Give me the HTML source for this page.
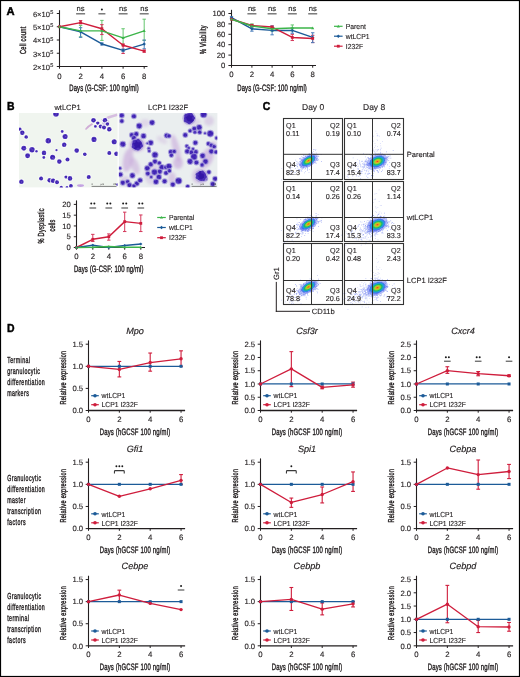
<!DOCTYPE html>
<html><head><meta charset="utf-8"><title>Figure</title>
<style>html,body{margin:0;padding:0;background:#fff;}svg{display:block;will-change:transform;}text{font-variant-ligatures:none;font-kerning:normal;}</style>
</head><body>
<svg width="520" height="677" viewBox="0 0 520 677" font-family="'Liberation Sans', sans-serif" text-rendering="geometricPrecision">
<defs>
<radialGradient id="cellg" cx="50%" cy="50%" r="50%">
<stop offset="0" stop-color="#5444c4"/>
<stop offset="0.45" stop-color="#3626b6"/>
<stop offset="0.75" stop-color="#4434bc"/>
<stop offset="1" stop-color="#8c86da"/>
</radialGradient>
<radialGradient id="bigcell" cx="50%" cy="50%" r="50%">
<stop offset="0" stop-color="#4a3cc0"/>
<stop offset="0.5" stop-color="#3222b4"/>
<stop offset="0.85" stop-color="#4232bc"/>
<stop offset="1" stop-color="#7c74d4"/>
</radialGradient>
<filter id="soft" x="-5%" y="-5%" width="110%" height="110%"><feGaussianBlur stdDeviation="0.35"/></filter>
<filter id="soft2" x="-5%" y="-5%" width="110%" height="110%"><feGaussianBlur stdDeviation="0.45"/></filter>
<filter id="smear" x="-20%" y="-20%" width="140%" height="140%"><feGaussianBlur stdDeviation="1.5"/></filter>
<radialGradient id="flowg" cx="50%" cy="50%" r="50%">
<stop offset="0" stop-color="#e8401c"/>
<stop offset="0.18" stop-color="#f0a020"/>
<stop offset="0.35" stop-color="#9ad82c"/>
<stop offset="0.55" stop-color="#18b86a"/>
<stop offset="0.75" stop-color="#1ea0e0"/>
<stop offset="1" stop-color="#3050e8" stop-opacity="0.6"/>
</radialGradient>
</defs>
<rect x="0" y="0" width="520" height="677" fill="#fff"/>
<text transform="translate(6.60,14.50)" font-size="11.2" fill="#000" font-weight="bold" stroke="#000" stroke-width="0.45">A</text>
<line x1="59.50" y1="10.20" x2="59.50" y2="67.00" stroke="#231f20" stroke-width="1.1"/>
<line x1="59.00" y1="66.50" x2="147.50" y2="66.50" stroke="#231f20" stroke-width="1.1"/>
<line x1="56.80" y1="66.50" x2="59.50" y2="66.50" stroke="#231f20" stroke-width="1"/>
<text transform="translate(50.00,69.80)" font-size="7.6" fill="#231f20" stroke="#231f20" stroke-width="0.13" text-anchor="end">2×10</text>
<text transform="translate(50.30,67.10)" font-size="5.6" fill="#231f20" stroke="#231f20" stroke-width="0.13">5</text>
<line x1="56.80" y1="53.25" x2="59.50" y2="53.25" stroke="#231f20" stroke-width="1"/>
<text transform="translate(50.00,56.55)" font-size="7.6" fill="#231f20" stroke="#231f20" stroke-width="0.13" text-anchor="end">3×10</text>
<text transform="translate(50.30,53.85)" font-size="5.6" fill="#231f20" stroke="#231f20" stroke-width="0.13">5</text>
<line x1="56.80" y1="40.00" x2="59.50" y2="40.00" stroke="#231f20" stroke-width="1"/>
<text transform="translate(50.00,43.30)" font-size="7.6" fill="#231f20" stroke="#231f20" stroke-width="0.13" text-anchor="end">4×10</text>
<text transform="translate(50.30,40.60)" font-size="5.6" fill="#231f20" stroke="#231f20" stroke-width="0.13">5</text>
<line x1="56.80" y1="26.75" x2="59.50" y2="26.75" stroke="#231f20" stroke-width="1"/>
<text transform="translate(50.00,30.05)" font-size="7.6" fill="#231f20" stroke="#231f20" stroke-width="0.13" text-anchor="end">5×10</text>
<text transform="translate(50.30,27.35)" font-size="5.6" fill="#231f20" stroke="#231f20" stroke-width="0.13">5</text>
<line x1="56.80" y1="13.50" x2="59.50" y2="13.50" stroke="#231f20" stroke-width="1"/>
<text transform="translate(50.00,16.80)" font-size="7.6" fill="#231f20" stroke="#231f20" stroke-width="0.13" text-anchor="end">6×10</text>
<text transform="translate(50.30,14.10)" font-size="5.6" fill="#231f20" stroke="#231f20" stroke-width="0.13">5</text>
<line x1="59.50" y1="66.50" x2="59.50" y2="68.70" stroke="#231f20" stroke-width="1"/>
<text transform="translate(59.50,78.60)" font-size="7.8" fill="#231f20" stroke="#231f20" stroke-width="0.13" text-anchor="middle">0</text>
<line x1="80.60" y1="66.50" x2="80.60" y2="68.70" stroke="#231f20" stroke-width="1"/>
<text transform="translate(80.60,78.60)" font-size="7.8" fill="#231f20" stroke="#231f20" stroke-width="0.13" text-anchor="middle">2</text>
<line x1="101.90" y1="66.50" x2="101.90" y2="68.70" stroke="#231f20" stroke-width="1"/>
<text transform="translate(101.90,78.60)" font-size="7.8" fill="#231f20" stroke="#231f20" stroke-width="0.13" text-anchor="middle">4</text>
<line x1="123.10" y1="66.50" x2="123.10" y2="68.70" stroke="#231f20" stroke-width="1"/>
<text transform="translate(123.10,78.60)" font-size="7.8" fill="#231f20" stroke="#231f20" stroke-width="0.13" text-anchor="middle">6</text>
<line x1="144.20" y1="66.50" x2="144.20" y2="68.70" stroke="#231f20" stroke-width="1"/>
<text transform="translate(144.20,78.60)" font-size="7.8" fill="#231f20" stroke="#231f20" stroke-width="0.13" text-anchor="middle">8</text>
<text transform="translate(26.30,40.20) rotate(-90) translate(-13.75,0) scale(0.64,1)" font-size="8.8" fill="#231f20" stroke="#231f20" stroke-width="0.400" letter-spacing="0.384">Cell count</text>
<text transform="translate(104.00,90.50) translate(-34.75,0) scale(0.64,1)" font-size="9.3" fill="#231f20" stroke="#231f20" stroke-width="0.400" letter-spacing="0.160">Days (G-CSF: 100 ng/ml)</text>
<text transform="translate(80.60,11.40)" font-size="7.6" fill="#222" stroke="#222" stroke-width="0.13" text-anchor="middle">ns</text>
<line x1="76.10" y1="13.80" x2="85.10" y2="13.80" stroke="#666" stroke-width="1.3"/>
<circle cx="101.90" cy="9.60" r="1.0" fill="#1a1a1a"/>
<line x1="98.40" y1="13.80" x2="105.40" y2="13.80" stroke="#666" stroke-width="1.3"/>
<text transform="translate(123.10,11.40)" font-size="7.6" fill="#222" stroke="#222" stroke-width="0.13" text-anchor="middle">ns</text>
<line x1="118.60" y1="13.80" x2="127.60" y2="13.80" stroke="#666" stroke-width="1.3"/>
<text transform="translate(144.20,11.40)" font-size="7.6" fill="#222" stroke="#222" stroke-width="0.13" text-anchor="middle">ns</text>
<line x1="139.70" y1="13.80" x2="148.70" y2="13.80" stroke="#666" stroke-width="1.3"/>
<line x1="80.60" y1="25.43" x2="80.60" y2="36.82" stroke="#64c66e" stroke-width="1.0"/>
<line x1="78.90" y1="25.43" x2="82.30" y2="25.43" stroke="#64c66e" stroke-width="1.0"/>
<line x1="78.90" y1="36.82" x2="82.30" y2="36.82" stroke="#64c66e" stroke-width="1.0"/>
<line x1="101.90" y1="20.39" x2="101.90" y2="40.40" stroke="#64c66e" stroke-width="1.0"/>
<line x1="100.20" y1="20.39" x2="103.60" y2="20.39" stroke="#64c66e" stroke-width="1.0"/>
<line x1="100.20" y1="40.40" x2="103.60" y2="40.40" stroke="#64c66e" stroke-width="1.0"/>
<line x1="123.10" y1="28.74" x2="123.10" y2="45.30" stroke="#64c66e" stroke-width="1.0"/>
<line x1="121.40" y1="28.74" x2="124.80" y2="28.74" stroke="#64c66e" stroke-width="1.0"/>
<line x1="121.40" y1="45.30" x2="124.80" y2="45.30" stroke="#64c66e" stroke-width="1.0"/>
<line x1="144.20" y1="19.20" x2="144.20" y2="40.40" stroke="#64c66e" stroke-width="1.0"/>
<line x1="142.50" y1="19.20" x2="145.90" y2="19.20" stroke="#64c66e" stroke-width="1.0"/>
<line x1="142.50" y1="40.40" x2="145.90" y2="40.40" stroke="#64c66e" stroke-width="1.0"/>
<line x1="80.60" y1="20.52" x2="80.60" y2="23.84" stroke="#d4385a" stroke-width="1.0"/>
<line x1="78.90" y1="20.52" x2="82.30" y2="20.52" stroke="#d4385a" stroke-width="1.0"/>
<line x1="78.90" y1="23.84" x2="82.30" y2="23.84" stroke="#d4385a" stroke-width="1.0"/>
<line x1="101.90" y1="24.63" x2="101.90" y2="34.57" stroke="#d4385a" stroke-width="1.0"/>
<line x1="100.20" y1="24.63" x2="103.60" y2="24.63" stroke="#d4385a" stroke-width="1.0"/>
<line x1="100.20" y1="34.57" x2="103.60" y2="34.57" stroke="#d4385a" stroke-width="1.0"/>
<line x1="123.10" y1="43.97" x2="123.10" y2="53.52" stroke="#d4385a" stroke-width="1.0"/>
<line x1="121.40" y1="43.97" x2="124.80" y2="43.97" stroke="#d4385a" stroke-width="1.0"/>
<line x1="121.40" y1="53.52" x2="124.80" y2="53.52" stroke="#d4385a" stroke-width="1.0"/>
<line x1="144.20" y1="50.07" x2="144.20" y2="52.19" stroke="#d4385a" stroke-width="1.0"/>
<line x1="142.50" y1="50.07" x2="145.90" y2="50.07" stroke="#d4385a" stroke-width="1.0"/>
<line x1="142.50" y1="52.19" x2="145.90" y2="52.19" stroke="#d4385a" stroke-width="1.0"/>
<line x1="80.60" y1="27.68" x2="80.60" y2="37.35" stroke="#4c7fbc" stroke-width="1.0"/>
<line x1="78.90" y1="27.68" x2="82.30" y2="27.68" stroke="#4c7fbc" stroke-width="1.0"/>
<line x1="78.90" y1="37.35" x2="82.30" y2="37.35" stroke="#4c7fbc" stroke-width="1.0"/>
<line x1="101.90" y1="42.92" x2="101.90" y2="45.03" stroke="#4c7fbc" stroke-width="1.0"/>
<line x1="100.20" y1="42.92" x2="103.60" y2="42.92" stroke="#4c7fbc" stroke-width="1.0"/>
<line x1="100.20" y1="45.03" x2="103.60" y2="45.03" stroke="#4c7fbc" stroke-width="1.0"/>
<line x1="123.10" y1="49.01" x2="123.10" y2="51.66" stroke="#4c7fbc" stroke-width="1.0"/>
<line x1="121.40" y1="49.01" x2="124.80" y2="49.01" stroke="#4c7fbc" stroke-width="1.0"/>
<line x1="121.40" y1="51.66" x2="124.80" y2="51.66" stroke="#4c7fbc" stroke-width="1.0"/>
<line x1="144.20" y1="40.00" x2="144.20" y2="48.75" stroke="#4c7fbc" stroke-width="1.0"/>
<line x1="142.50" y1="40.00" x2="145.90" y2="40.00" stroke="#4c7fbc" stroke-width="1.0"/>
<line x1="142.50" y1="48.75" x2="145.90" y2="48.75" stroke="#4c7fbc" stroke-width="1.0"/>
<polyline points="59.50,26.75 80.60,31.78 101.90,43.97 123.10,50.33 144.20,44.11" fill="none" stroke="#1c5b98" stroke-width="1.45" stroke-linejoin="round"/>
<polyline points="59.50,26.75 80.60,22.64 101.90,28.74 123.10,45.30 144.20,51.13" fill="none" stroke="#cf1d3c" stroke-width="1.45" stroke-linejoin="round"/>
<polyline points="59.50,26.75 80.60,30.86 101.90,30.86 123.10,37.88 144.20,30.86" fill="none" stroke="#3cb54a" stroke-width="1.45" stroke-linejoin="round"/>
<path d="M57.82,26.75 L59.50,25.07 L61.18,26.75 L59.50,28.43 Z" fill="#1c5b98"/>
<path d="M78.92,31.78 L80.60,30.10 L82.28,31.78 L80.60,33.46 Z" fill="#1c5b98"/>
<path d="M100.22,43.97 L101.90,42.29 L103.58,43.97 L101.90,45.65 Z" fill="#1c5b98"/>
<path d="M121.42,50.33 L123.10,48.65 L124.78,50.33 L123.10,52.01 Z" fill="#1c5b98"/>
<path d="M142.52,44.11 L144.20,42.43 L145.88,44.11 L144.20,45.79 Z" fill="#1c5b98"/>
<rect x="58.10" y="25.35" width="2.80" height="2.80" fill="#cf1d3c"/>
<rect x="79.20" y="21.24" width="2.80" height="2.80" fill="#cf1d3c"/>
<rect x="100.50" y="27.34" width="2.80" height="2.80" fill="#cf1d3c"/>
<rect x="121.70" y="43.90" width="2.80" height="2.80" fill="#cf1d3c"/>
<rect x="142.80" y="49.73" width="2.80" height="2.80" fill="#cf1d3c"/>
<path d="M57.96,27.87 L61.04,27.87 L59.50,25.21 Z" fill="#3cb54a"/>
<path d="M79.06,31.98 L82.14,31.98 L80.60,29.32 Z" fill="#3cb54a"/>
<path d="M100.36,31.98 L103.44,31.98 L101.90,29.32 Z" fill="#3cb54a"/>
<path d="M121.56,39.00 L124.64,39.00 L123.10,36.34 Z" fill="#3cb54a"/>
<path d="M142.66,31.98 L145.74,31.98 L144.20,29.32 Z" fill="#3cb54a"/>
<line x1="231.50" y1="9.80" x2="231.50" y2="66.00" stroke="#231f20" stroke-width="1.1"/>
<line x1="231.00" y1="65.50" x2="316.00" y2="65.50" stroke="#231f20" stroke-width="1.1"/>
<line x1="228.40" y1="65.50" x2="231.50" y2="65.50" stroke="#231f20" stroke-width="1"/>
<text transform="translate(225.40,68.25)" font-size="7.7" fill="#231f20" stroke="#231f20" stroke-width="0.13" text-anchor="end">0</text>
<line x1="228.40" y1="55.10" x2="231.50" y2="55.10" stroke="#231f20" stroke-width="1"/>
<text transform="translate(225.40,57.85)" font-size="7.7" fill="#231f20" stroke="#231f20" stroke-width="0.13" text-anchor="end">20</text>
<line x1="228.40" y1="44.70" x2="231.50" y2="44.70" stroke="#231f20" stroke-width="1"/>
<text transform="translate(225.40,47.45)" font-size="7.7" fill="#231f20" stroke="#231f20" stroke-width="0.13" text-anchor="end">40</text>
<line x1="228.40" y1="34.30" x2="231.50" y2="34.30" stroke="#231f20" stroke-width="1"/>
<text transform="translate(225.40,37.05)" font-size="7.7" fill="#231f20" stroke="#231f20" stroke-width="0.13" text-anchor="end">60</text>
<line x1="228.40" y1="23.90" x2="231.50" y2="23.90" stroke="#231f20" stroke-width="1"/>
<text transform="translate(225.40,26.65)" font-size="7.7" fill="#231f20" stroke="#231f20" stroke-width="0.13" text-anchor="end">80</text>
<line x1="228.40" y1="13.50" x2="231.50" y2="13.50" stroke="#231f20" stroke-width="1"/>
<text transform="translate(225.40,16.25)" font-size="7.7" fill="#231f20" stroke="#231f20" stroke-width="0.13" text-anchor="end">100</text>
<line x1="231.50" y1="65.50" x2="231.50" y2="67.70" stroke="#231f20" stroke-width="1"/>
<text transform="translate(231.50,77.00)" font-size="7.8" fill="#231f20" stroke="#231f20" stroke-width="0.13" text-anchor="middle">0</text>
<line x1="251.90" y1="65.50" x2="251.90" y2="67.70" stroke="#231f20" stroke-width="1"/>
<text transform="translate(251.90,77.00)" font-size="7.8" fill="#231f20" stroke="#231f20" stroke-width="0.13" text-anchor="middle">2</text>
<line x1="272.10" y1="65.50" x2="272.10" y2="67.70" stroke="#231f20" stroke-width="1"/>
<text transform="translate(272.10,77.00)" font-size="7.8" fill="#231f20" stroke="#231f20" stroke-width="0.13" text-anchor="middle">4</text>
<line x1="292.30" y1="65.50" x2="292.30" y2="67.70" stroke="#231f20" stroke-width="1"/>
<text transform="translate(292.30,77.00)" font-size="7.8" fill="#231f20" stroke="#231f20" stroke-width="0.13" text-anchor="middle">6</text>
<line x1="312.70" y1="65.50" x2="312.70" y2="67.70" stroke="#231f20" stroke-width="1"/>
<text transform="translate(312.70,77.00)" font-size="7.8" fill="#231f20" stroke="#231f20" stroke-width="0.13" text-anchor="middle">8</text>
<text transform="translate(206.00,39.50) rotate(-90) translate(-14.50,0) scale(0.64,1)" font-size="8.8" fill="#231f20" stroke="#231f20" stroke-width="0.400" letter-spacing="0.429">% Viability</text>
<text transform="translate(272.10,90.50) translate(-34.85,0) scale(0.64,1)" font-size="9.3" fill="#231f20" stroke="#231f20" stroke-width="0.400" letter-spacing="0.174">Days (G-CSF: 100 ng/ml)</text>
<text transform="translate(251.90,11.40)" font-size="7.6" fill="#222" stroke="#222" stroke-width="0.13" text-anchor="middle">ns</text>
<line x1="247.40" y1="13.80" x2="256.40" y2="13.80" stroke="#666" stroke-width="1.3"/>
<text transform="translate(272.10,11.40)" font-size="7.6" fill="#222" stroke="#222" stroke-width="0.13" text-anchor="middle">ns</text>
<line x1="267.60" y1="13.80" x2="276.60" y2="13.80" stroke="#666" stroke-width="1.3"/>
<text transform="translate(292.30,11.40)" font-size="7.6" fill="#222" stroke="#222" stroke-width="0.13" text-anchor="middle">ns</text>
<line x1="287.80" y1="13.80" x2="296.80" y2="13.80" stroke="#666" stroke-width="1.3"/>
<text transform="translate(312.70,11.40)" font-size="7.6" fill="#222" stroke="#222" stroke-width="0.13" text-anchor="middle">ns</text>
<line x1="308.20" y1="13.80" x2="317.20" y2="13.80" stroke="#666" stroke-width="1.3"/>
<line x1="251.90" y1="23.90" x2="251.90" y2="27.54" stroke="#64c66e" stroke-width="1.0"/>
<line x1="250.20" y1="23.90" x2="253.60" y2="23.90" stroke="#64c66e" stroke-width="1.0"/>
<line x1="250.20" y1="27.54" x2="253.60" y2="27.54" stroke="#64c66e" stroke-width="1.0"/>
<line x1="272.10" y1="27.02" x2="272.10" y2="31.18" stroke="#64c66e" stroke-width="1.0"/>
<line x1="270.40" y1="27.02" x2="273.80" y2="27.02" stroke="#64c66e" stroke-width="1.0"/>
<line x1="270.40" y1="31.18" x2="273.80" y2="31.18" stroke="#64c66e" stroke-width="1.0"/>
<line x1="292.30" y1="24.94" x2="292.30" y2="30.66" stroke="#64c66e" stroke-width="1.0"/>
<line x1="290.60" y1="24.94" x2="294.00" y2="24.94" stroke="#64c66e" stroke-width="1.0"/>
<line x1="290.60" y1="30.66" x2="294.00" y2="30.66" stroke="#64c66e" stroke-width="1.0"/>
<line x1="251.90" y1="24.42" x2="251.90" y2="26.50" stroke="#d4385a" stroke-width="1.0"/>
<line x1="250.20" y1="24.42" x2="253.60" y2="24.42" stroke="#d4385a" stroke-width="1.0"/>
<line x1="250.20" y1="26.50" x2="253.60" y2="26.50" stroke="#d4385a" stroke-width="1.0"/>
<line x1="272.10" y1="25.98" x2="272.10" y2="28.06" stroke="#d4385a" stroke-width="1.0"/>
<line x1="270.40" y1="25.98" x2="273.80" y2="25.98" stroke="#d4385a" stroke-width="1.0"/>
<line x1="270.40" y1="28.06" x2="273.80" y2="28.06" stroke="#d4385a" stroke-width="1.0"/>
<line x1="292.30" y1="34.30" x2="292.30" y2="40.54" stroke="#d4385a" stroke-width="1.0"/>
<line x1="290.60" y1="34.30" x2="294.00" y2="34.30" stroke="#d4385a" stroke-width="1.0"/>
<line x1="290.60" y1="40.54" x2="294.00" y2="40.54" stroke="#d4385a" stroke-width="1.0"/>
<line x1="312.70" y1="35.34" x2="312.70" y2="42.62" stroke="#d4385a" stroke-width="1.0"/>
<line x1="311.00" y1="35.34" x2="314.40" y2="35.34" stroke="#d4385a" stroke-width="1.0"/>
<line x1="311.00" y1="42.62" x2="314.40" y2="42.62" stroke="#d4385a" stroke-width="1.0"/>
<line x1="231.50" y1="16.62" x2="231.50" y2="18.70" stroke="#4c7fbc" stroke-width="1.0"/>
<line x1="229.80" y1="16.62" x2="233.20" y2="16.62" stroke="#4c7fbc" stroke-width="1.0"/>
<line x1="229.80" y1="18.70" x2="233.20" y2="18.70" stroke="#4c7fbc" stroke-width="1.0"/>
<line x1="251.90" y1="26.50" x2="251.90" y2="31.18" stroke="#4c7fbc" stroke-width="1.0"/>
<line x1="250.20" y1="26.50" x2="253.60" y2="26.50" stroke="#4c7fbc" stroke-width="1.0"/>
<line x1="250.20" y1="31.18" x2="253.60" y2="31.18" stroke="#4c7fbc" stroke-width="1.0"/>
<line x1="272.10" y1="25.98" x2="272.10" y2="34.82" stroke="#4c7fbc" stroke-width="1.0"/>
<line x1="270.40" y1="25.98" x2="273.80" y2="25.98" stroke="#4c7fbc" stroke-width="1.0"/>
<line x1="270.40" y1="34.82" x2="273.80" y2="34.82" stroke="#4c7fbc" stroke-width="1.0"/>
<line x1="292.30" y1="28.06" x2="292.30" y2="33.26" stroke="#4c7fbc" stroke-width="1.0"/>
<line x1="290.60" y1="28.06" x2="294.00" y2="28.06" stroke="#4c7fbc" stroke-width="1.0"/>
<line x1="290.60" y1="33.26" x2="294.00" y2="33.26" stroke="#4c7fbc" stroke-width="1.0"/>
<line x1="312.70" y1="32.74" x2="312.70" y2="42.62" stroke="#4c7fbc" stroke-width="1.0"/>
<line x1="311.00" y1="32.74" x2="314.40" y2="32.74" stroke="#4c7fbc" stroke-width="1.0"/>
<line x1="311.00" y1="42.62" x2="314.40" y2="42.62" stroke="#4c7fbc" stroke-width="1.0"/>
<polyline points="231.50,17.66 251.90,28.84 272.10,30.40 292.30,30.40 312.70,37.42" fill="none" stroke="#1c5b98" stroke-width="1.45" stroke-linejoin="round"/>
<polyline points="231.50,19.22 251.90,25.46 272.10,27.02 292.30,37.42 312.70,38.46" fill="none" stroke="#cf1d3c" stroke-width="1.45" stroke-linejoin="round"/>
<polyline points="231.50,19.22 251.90,25.98 272.10,28.84 292.30,28.06 312.70,28.06" fill="none" stroke="#3cb54a" stroke-width="1.45" stroke-linejoin="round"/>
<path d="M229.82,17.66 L231.50,15.98 L233.18,17.66 L231.50,19.34 Z" fill="#1c5b98"/>
<path d="M250.22,28.84 L251.90,27.16 L253.58,28.84 L251.90,30.52 Z" fill="#1c5b98"/>
<path d="M270.42,30.40 L272.10,28.72 L273.78,30.40 L272.10,32.08 Z" fill="#1c5b98"/>
<path d="M290.62,30.40 L292.30,28.72 L293.98,30.40 L292.30,32.08 Z" fill="#1c5b98"/>
<path d="M311.02,37.42 L312.70,35.74 L314.38,37.42 L312.70,39.10 Z" fill="#1c5b98"/>
<rect x="230.10" y="17.82" width="2.80" height="2.80" fill="#cf1d3c"/>
<rect x="250.50" y="24.06" width="2.80" height="2.80" fill="#cf1d3c"/>
<rect x="270.70" y="25.62" width="2.80" height="2.80" fill="#cf1d3c"/>
<rect x="290.90" y="36.02" width="2.80" height="2.80" fill="#cf1d3c"/>
<rect x="311.30" y="37.06" width="2.80" height="2.80" fill="#cf1d3c"/>
<path d="M229.96,20.34 L233.04,20.34 L231.50,17.68 Z" fill="#3cb54a"/>
<path d="M250.36,27.10 L253.44,27.10 L251.90,24.44 Z" fill="#3cb54a"/>
<path d="M270.56,29.96 L273.64,29.96 L272.10,27.30 Z" fill="#3cb54a"/>
<path d="M290.76,29.18 L293.84,29.18 L292.30,26.52 Z" fill="#3cb54a"/>
<path d="M311.16,29.18 L314.24,29.18 L312.70,26.52 Z" fill="#3cb54a"/>
<line x1="334.00" y1="26.30" x2="342.60" y2="26.30" stroke="#3cb54a" stroke-width="1.2"/>
<path d="M336.76,27.42 L339.84,27.42 L338.30,24.76 Z" fill="#3cb54a"/>
<text transform="translate(345.80,29.00) scale(0.93,1)" font-size="7.3" fill="#231f20" stroke="#231f20" stroke-width="0.13">Parent</text>
<line x1="334.00" y1="36.20" x2="342.60" y2="36.20" stroke="#1c5b98" stroke-width="1.2"/>
<path d="M336.62,36.20 L338.30,34.52 L339.98,36.20 L338.30,37.88 Z" fill="#1c5b98"/>
<text transform="translate(345.80,38.90) scale(0.93,1)" font-size="7.3" fill="#231f20" stroke="#231f20" stroke-width="0.13">wtLCP1</text>
<line x1="334.00" y1="46.20" x2="342.60" y2="46.20" stroke="#cf1d3c" stroke-width="1.2"/>
<rect x="336.90" y="44.80" width="2.80" height="2.80" fill="#cf1d3c"/>
<text transform="translate(345.80,48.90) scale(0.93,1)" font-size="7.3" fill="#231f20" stroke="#231f20" stroke-width="0.13">I232F</text>
<text transform="translate(6.90,109.70) scale(0.9,1)" font-size="11.6" fill="#000" font-weight="bold" stroke="#000" stroke-width="0.45">B</text>
<text transform="translate(67.50,110.20)" font-size="7.5" fill="#231f20" stroke="#231f20" stroke-width="0.13" text-anchor="middle">wtLCP1</text>
<text transform="translate(168.00,110.20)" font-size="7.5" fill="#231f20" stroke="#231f20" stroke-width="0.13" text-anchor="middle">LCP1 I232F</text>
<clipPath id="m1"><rect x="19" y="113" width="98.6" height="74.4"/></clipPath>
<clipPath id="m2"><rect x="118.8" y="113" width="98.6" height="74.4"/></clipPath>
<rect x="19" y="113" width="98.6" height="74.4" fill="#f0f5ef"/>
<rect x="118.8" y="113" width="98.6" height="74.4" fill="#eaeeef"/>
<g clip-path="url(#m1)" filter="url(#soft)">
<path d="M85,129 Q88,125 92,123 L93,124.5 Q89,127 86,130 Z" fill="#c79ad0" opacity="0.8"/>
<path d="M101,119.5 Q108,115.5 117,113.5 L117.5,116 Q110,118 103,121 Z" fill="#cfb0dc" opacity="0.8"/>
<ellipse cx="80.5" cy="185.6" rx="3.5" ry="1.3" fill="#b98ee0" opacity="0.8"/>
<ellipse cx="106" cy="124" rx="4" ry="4.5" fill="#b89ad8" opacity="0.6"/>
<circle cx="56.0" cy="113.8" r="3.7" fill="#f9fbfa" opacity="0.75"/><circle cx="56.0" cy="113.8" r="2.85" fill="#5a40c2"/><circle cx="54.76" cy="114.12" r="1.20" fill="#3a1cae" opacity="0.85"/><circle cx="56.69" cy="112.72" r="1.20" fill="#3a1cae" opacity="0.85"/><circle cx="56.96" cy="114.66" r="1.20" fill="#3a1cae" opacity="0.85"/><circle cx="56.20" cy="114.00" r="0.68" fill="#9c8ad8" opacity="0.5"/>
<circle cx="19.9" cy="129.3" r="2.6" fill="#f9fbfa" opacity="0.75"/><circle cx="19.9" cy="129.3" r="1.71" fill="#5a40c2"/><circle cx="19.14" cy="129.21" r="0.72" fill="#3a1cae" opacity="0.85"/><circle cx="20.15" cy="128.57" r="0.72" fill="#3a1cae" opacity="0.85"/><circle cx="20.24" cy="129.99" r="0.72" fill="#3a1cae" opacity="0.85"/>
<circle cx="22.3" cy="132.7" r="3.2" fill="#f9fbfa" opacity="0.75"/><circle cx="22.3" cy="132.7" r="2.28" fill="#5a40c2"/><circle cx="21.79" cy="131.81" r="0.96" fill="#3a1cae" opacity="0.85"/><circle cx="23.17" cy="132.16" r="0.96" fill="#3a1cae" opacity="0.85"/><circle cx="22.15" cy="133.72" r="0.96" fill="#3a1cae" opacity="0.85"/><circle cx="22.50" cy="132.90" r="0.55" fill="#9c8ad8" opacity="0.5"/>
<circle cx="26.2" cy="137.0" r="2.7" fill="#f9fbfa" opacity="0.75"/><circle cx="26.2" cy="137.0" r="1.80" fill="#5a40c2"/><circle cx="26.76" cy="137.59" r="0.76" fill="#3a1cae" opacity="0.85"/><circle cx="25.43" cy="137.25" r="0.76" fill="#3a1cae" opacity="0.85"/><circle cx="25.95" cy="136.23" r="0.76" fill="#3a1cae" opacity="0.85"/><circle cx="26.40" cy="137.20" r="0.43" fill="#9c8ad8" opacity="0.5"/>
<circle cx="48.3" cy="140.8" r="3.7" fill="#f9fbfa" opacity="0.75"/><circle cx="48.3" cy="140.8" r="2.75" fill="#5a40c2"/><circle cx="49.50" cy="141.11" r="1.16" fill="#3a1cae" opacity="0.85"/><circle cx="47.67" cy="141.87" r="1.16" fill="#3a1cae" opacity="0.85"/><circle cx="47.67" cy="139.73" r="1.16" fill="#3a1cae" opacity="0.85"/><circle cx="48.50" cy="141.00" r="0.66" fill="#9c8ad8" opacity="0.5"/>
<circle cx="62.2" cy="131.5" r="2.3" fill="#f9fbfa" opacity="0.75"/><circle cx="62.2" cy="131.5" r="1.42" fill="#5a40c2"/><circle cx="62.20" cy="131.50" r="0.60" fill="#3a1cae" opacity="0.85"/>
<circle cx="65.1" cy="136.5" r="3.5" fill="#f9fbfa" opacity="0.75"/><circle cx="65.1" cy="136.5" r="2.56" fill="#5a40c2"/><circle cx="63.96" cy="136.70" r="1.08" fill="#3a1cae" opacity="0.85"/><circle cx="65.61" cy="135.46" r="1.08" fill="#3a1cae" opacity="0.85"/><circle cx="65.70" cy="137.49" r="1.08" fill="#3a1cae" opacity="0.85"/><circle cx="65.30" cy="136.70" r="0.62" fill="#9c8ad8" opacity="0.5"/>
<circle cx="64.2" cy="144.7" r="3.2" fill="#f9fbfa" opacity="0.75"/><circle cx="64.2" cy="144.7" r="2.28" fill="#5a40c2"/><circle cx="65.21" cy="144.86" r="0.96" fill="#3a1cae" opacity="0.85"/><circle cx="63.56" cy="145.50" r="0.96" fill="#3a1cae" opacity="0.85"/><circle cx="64.15" cy="143.68" r="0.96" fill="#3a1cae" opacity="0.85"/><circle cx="64.40" cy="144.90" r="0.55" fill="#9c8ad8" opacity="0.5"/>
<circle cx="23.8" cy="148.2" r="3.4" fill="#f9fbfa" opacity="0.75"/><circle cx="23.8" cy="148.2" r="2.47" fill="#5a40c2"/><circle cx="22.72" cy="147.95" r="1.04" fill="#3a1cae" opacity="0.85"/><circle cx="24.47" cy="147.31" r="1.04" fill="#3a1cae" opacity="0.85"/><circle cx="24.09" cy="149.27" r="1.04" fill="#3a1cae" opacity="0.85"/><circle cx="24.00" cy="148.40" r="0.59" fill="#9c8ad8" opacity="0.5"/>
<circle cx="32.0" cy="149.8" r="3.7" fill="#f9fbfa" opacity="0.75"/><circle cx="32.0" cy="149.8" r="2.75" fill="#5a40c2"/><circle cx="30.88" cy="150.34" r="1.16" fill="#3a1cae" opacity="0.85"/><circle cx="32.76" cy="148.82" r="1.16" fill="#3a1cae" opacity="0.85"/><circle cx="32.47" cy="150.95" r="1.16" fill="#3a1cae" opacity="0.85"/><circle cx="32.20" cy="150.00" r="0.66" fill="#9c8ad8" opacity="0.5"/>
<circle cx="36.5" cy="151.2" r="2.1" fill="#f9fbfa" opacity="0.75"/><circle cx="36.5" cy="151.2" r="1.23" fill="#5a40c2"/><circle cx="36.50" cy="151.20" r="0.52" fill="#3a1cae" opacity="0.85"/>
<circle cx="27.6" cy="155.8" r="3.4" fill="#f9fbfa" opacity="0.75"/><circle cx="27.6" cy="155.8" r="2.47" fill="#5a40c2"/><circle cx="27.39" cy="156.89" r="1.04" fill="#3a1cae" opacity="0.85"/><circle cx="26.80" cy="155.03" r="1.04" fill="#3a1cae" opacity="0.85"/><circle cx="28.60" cy="155.32" r="1.04" fill="#3a1cae" opacity="0.85"/><circle cx="27.80" cy="156.00" r="0.59" fill="#9c8ad8" opacity="0.5"/>
<circle cx="44.0" cy="152.9" r="3.2" fill="#f9fbfa" opacity="0.75"/><circle cx="44.0" cy="152.9" r="2.28" fill="#5a40c2"/><circle cx="44.02" cy="151.87" r="0.96" fill="#3a1cae" opacity="0.85"/><circle cx="44.63" cy="153.71" r="0.96" fill="#3a1cae" opacity="0.85"/><circle cx="43.10" cy="153.39" r="0.96" fill="#3a1cae" opacity="0.85"/><circle cx="44.20" cy="153.10" r="0.55" fill="#9c8ad8" opacity="0.5"/>
<circle cx="43.8" cy="157.5" r="2.3" fill="#f9fbfa" opacity="0.75"/><circle cx="43.8" cy="157.5" r="1.42" fill="#5a40c2"/><circle cx="43.80" cy="157.50" r="0.60" fill="#3a1cae" opacity="0.85"/>
<circle cx="52.6" cy="157.2" r="3.5" fill="#f9fbfa" opacity="0.75"/><circle cx="52.6" cy="157.2" r="2.56" fill="#5a40c2"/><circle cx="53.72" cy="156.94" r="1.08" fill="#3a1cae" opacity="0.85"/><circle cx="51.72" cy="157.95" r="1.08" fill="#3a1cae" opacity="0.85"/><circle cx="52.01" cy="156.21" r="1.08" fill="#3a1cae" opacity="0.85"/><circle cx="52.80" cy="157.40" r="0.62" fill="#9c8ad8" opacity="0.5"/>
<circle cx="59.3" cy="161.5" r="3.2" fill="#f9fbfa" opacity="0.75"/><circle cx="59.3" cy="161.5" r="2.28" fill="#5a40c2"/><circle cx="60.30" cy="161.29" r="0.96" fill="#3a1cae" opacity="0.85"/><circle cx="59.24" cy="162.52" r="0.96" fill="#3a1cae" opacity="0.85"/><circle cx="58.78" cy="160.62" r="0.96" fill="#3a1cae" opacity="0.85"/><circle cx="59.50" cy="161.70" r="0.55" fill="#9c8ad8" opacity="0.5"/>
<circle cx="56.5" cy="150.2" r="2.0" fill="#f9fbfa" opacity="0.75"/><circle cx="56.5" cy="150.2" r="1.14" fill="#5a40c2"/><circle cx="56.50" cy="150.20" r="0.48" fill="#3a1cae" opacity="0.85"/>
<circle cx="67.5" cy="159.6" r="2.9" fill="#f9fbfa" opacity="0.75"/><circle cx="67.5" cy="159.6" r="1.99" fill="#5a40c2"/><circle cx="68.32" cy="159.96" r="0.84" fill="#3a1cae" opacity="0.85"/><circle cx="66.61" cy="159.71" r="0.84" fill="#3a1cae" opacity="0.85"/><circle cx="67.71" cy="158.73" r="0.84" fill="#3a1cae" opacity="0.85"/><circle cx="67.70" cy="159.80" r="0.48" fill="#9c8ad8" opacity="0.5"/>
<circle cx="21.4" cy="181.7" r="3.2" fill="#f9fbfa" opacity="0.75"/><circle cx="21.4" cy="181.7" r="2.28" fill="#5a40c2"/><circle cx="22.28" cy="182.23" r="0.96" fill="#3a1cae" opacity="0.85"/><circle cx="20.56" cy="182.30" r="0.96" fill="#3a1cae" opacity="0.85"/><circle cx="21.27" cy="180.68" r="0.96" fill="#3a1cae" opacity="0.85"/><circle cx="21.60" cy="181.90" r="0.55" fill="#9c8ad8" opacity="0.5"/>
<circle cx="41.1" cy="178.4" r="2.9" fill="#f9fbfa" opacity="0.75"/><circle cx="41.1" cy="178.4" r="1.99" fill="#5a40c2"/><circle cx="41.13" cy="177.50" r="0.84" fill="#3a1cae" opacity="0.85"/><circle cx="41.68" cy="179.09" r="0.84" fill="#3a1cae" opacity="0.85"/><circle cx="40.23" cy="178.63" r="0.84" fill="#3a1cae" opacity="0.85"/><circle cx="41.30" cy="178.60" r="0.48" fill="#9c8ad8" opacity="0.5"/>
<circle cx="49.7" cy="180.3" r="3.2" fill="#f9fbfa" opacity="0.75"/><circle cx="49.7" cy="180.3" r="2.28" fill="#5a40c2"/><circle cx="49.89" cy="181.31" r="0.96" fill="#3a1cae" opacity="0.85"/><circle cx="48.68" cy="180.44" r="0.96" fill="#3a1cae" opacity="0.85"/><circle cx="50.44" cy="179.59" r="0.96" fill="#3a1cae" opacity="0.85"/><circle cx="49.90" cy="180.50" r="0.55" fill="#9c8ad8" opacity="0.5"/>
<circle cx="53.1" cy="180.8" r="3.2" fill="#f9fbfa" opacity="0.75"/><circle cx="53.1" cy="180.8" r="2.28" fill="#5a40c2"/><circle cx="53.91" cy="181.44" r="0.96" fill="#3a1cae" opacity="0.85"/><circle cx="52.22" cy="181.33" r="0.96" fill="#3a1cae" opacity="0.85"/><circle cx="53.14" cy="179.77" r="0.96" fill="#3a1cae" opacity="0.85"/><circle cx="53.30" cy="181.00" r="0.55" fill="#9c8ad8" opacity="0.5"/>
<circle cx="57.0" cy="182.2" r="2.9" fill="#f9fbfa" opacity="0.75"/><circle cx="57.0" cy="182.2" r="1.99" fill="#5a40c2"/><circle cx="57.90" cy="182.25" r="0.84" fill="#3a1cae" opacity="0.85"/><circle cx="56.83" cy="183.08" r="0.84" fill="#3a1cae" opacity="0.85"/><circle cx="56.66" cy="181.37" r="0.84" fill="#3a1cae" opacity="0.85"/><circle cx="57.20" cy="182.40" r="0.48" fill="#9c8ad8" opacity="0.5"/>
<circle cx="66.0" cy="177.0" r="2.5" fill="#f9fbfa" opacity="0.75"/><circle cx="66.0" cy="177.0" r="1.61" fill="#5a40c2"/><circle cx="66.24" cy="177.69" r="0.68" fill="#3a1cae" opacity="0.85"/><circle cx="65.39" cy="176.61" r="0.68" fill="#3a1cae" opacity="0.85"/><circle cx="66.58" cy="176.56" r="0.68" fill="#3a1cae" opacity="0.85"/>
<circle cx="61.3" cy="187.5" r="2.6" fill="#f9fbfa" opacity="0.75"/><circle cx="61.3" cy="187.5" r="1.71" fill="#5a40c2"/><circle cx="61.70" cy="188.16" r="0.72" fill="#3a1cae" opacity="0.85"/><circle cx="60.68" cy="187.96" r="0.72" fill="#3a1cae" opacity="0.85"/><circle cx="61.24" cy="186.73" r="0.72" fill="#3a1cae" opacity="0.85"/>
<circle cx="67.0" cy="187.5" r="2.3" fill="#f9fbfa" opacity="0.75"/><circle cx="67.0" cy="187.5" r="1.42" fill="#5a40c2"/><circle cx="67.00" cy="187.50" r="0.60" fill="#3a1cae" opacity="0.85"/>
<circle cx="93.5" cy="120.2" r="3.2" fill="#f9fbfa" opacity="0.75"/><circle cx="93.5" cy="120.2" r="2.28" fill="#5a40c2"/><circle cx="93.55" cy="121.22" r="0.96" fill="#3a1cae" opacity="0.85"/><circle cx="92.60" cy="119.72" r="0.96" fill="#3a1cae" opacity="0.85"/><circle cx="94.51" cy="120.04" r="0.96" fill="#3a1cae" opacity="0.85"/><circle cx="93.70" cy="120.40" r="0.55" fill="#9c8ad8" opacity="0.5"/>
<circle cx="97.8" cy="123.1" r="2.6" fill="#f9fbfa" opacity="0.75"/><circle cx="97.8" cy="123.1" r="1.71" fill="#5a40c2"/><circle cx="97.77" cy="123.87" r="0.72" fill="#3a1cae" opacity="0.85"/><circle cx="97.09" cy="122.81" r="0.72" fill="#3a1cae" opacity="0.85"/><circle cx="98.44" cy="122.67" r="0.72" fill="#3a1cae" opacity="0.85"/>
<circle cx="95.4" cy="126.4" r="2.3" fill="#f9fbfa" opacity="0.75"/><circle cx="95.4" cy="126.4" r="1.42" fill="#5a40c2"/><circle cx="95.40" cy="126.40" r="0.60" fill="#3a1cae" opacity="0.85"/>
<circle cx="100.7" cy="126.4" r="2.9" fill="#f9fbfa" opacity="0.75"/><circle cx="100.7" cy="126.4" r="1.99" fill="#5a40c2"/><circle cx="100.05" cy="125.78" r="0.84" fill="#3a1cae" opacity="0.85"/><circle cx="101.31" cy="125.74" r="0.84" fill="#3a1cae" opacity="0.85"/><circle cx="100.98" cy="127.25" r="0.84" fill="#3a1cae" opacity="0.85"/><circle cx="100.90" cy="126.60" r="0.48" fill="#9c8ad8" opacity="0.5"/>
<circle cx="104.0" cy="127.4" r="2.9" fill="#f9fbfa" opacity="0.75"/><circle cx="104.0" cy="127.4" r="1.99" fill="#5a40c2"/><circle cx="104.85" cy="127.11" r="0.84" fill="#3a1cae" opacity="0.85"/><circle cx="104.22" cy="128.27" r="0.84" fill="#3a1cae" opacity="0.85"/><circle cx="103.13" cy="127.19" r="0.84" fill="#3a1cae" opacity="0.85"/><circle cx="104.20" cy="127.60" r="0.48" fill="#9c8ad8" opacity="0.5"/>
<circle cx="105.0" cy="120.2" r="3.2" fill="#f9fbfa" opacity="0.75"/><circle cx="105.0" cy="120.2" r="2.28" fill="#5a40c2"/><circle cx="105.29" cy="119.21" r="0.96" fill="#3a1cae" opacity="0.85"/><circle cx="106.00" cy="120.42" r="0.96" fill="#3a1cae" opacity="0.85"/><circle cx="104.00" cy="120.42" r="0.96" fill="#3a1cae" opacity="0.85"/><circle cx="105.20" cy="120.40" r="0.55" fill="#9c8ad8" opacity="0.5"/>
<circle cx="107.4" cy="124.0" r="2.7" fill="#f9fbfa" opacity="0.75"/><circle cx="107.4" cy="124.0" r="1.80" fill="#5a40c2"/><circle cx="108.04" cy="123.50" r="0.76" fill="#3a1cae" opacity="0.85"/><circle cx="107.62" cy="124.78" r="0.76" fill="#3a1cae" opacity="0.85"/><circle cx="106.59" cy="124.00" r="0.76" fill="#3a1cae" opacity="0.85"/><circle cx="107.60" cy="124.20" r="0.43" fill="#9c8ad8" opacity="0.5"/>
<circle cx="109.3" cy="129.3" r="3.2" fill="#f9fbfa" opacity="0.75"/><circle cx="109.3" cy="129.3" r="2.28" fill="#5a40c2"/><circle cx="110.14" cy="129.89" r="0.96" fill="#3a1cae" opacity="0.85"/><circle cx="108.75" cy="130.17" r="0.96" fill="#3a1cae" opacity="0.85"/><circle cx="109.19" cy="128.28" r="0.96" fill="#3a1cae" opacity="0.85"/><circle cx="109.50" cy="129.50" r="0.55" fill="#9c8ad8" opacity="0.5"/>
<circle cx="94.0" cy="139.4" r="3.5" fill="#f9fbfa" opacity="0.75"/><circle cx="94.0" cy="139.4" r="2.56" fill="#5a40c2"/><circle cx="93.66" cy="140.50" r="1.08" fill="#3a1cae" opacity="0.85"/><circle cx="93.08" cy="138.70" r="1.08" fill="#3a1cae" opacity="0.85"/><circle cx="94.93" cy="138.72" r="1.08" fill="#3a1cae" opacity="0.85"/><circle cx="94.20" cy="139.60" r="0.62" fill="#9c8ad8" opacity="0.5"/>
<circle cx="114.2" cy="141.8" r="3.5" fill="#f9fbfa" opacity="0.75"/><circle cx="114.2" cy="141.8" r="2.56" fill="#5a40c2"/><circle cx="114.53" cy="142.91" r="1.08" fill="#3a1cae" opacity="0.85"/><circle cx="113.09" cy="142.12" r="1.08" fill="#3a1cae" opacity="0.85"/><circle cx="114.62" cy="140.72" r="1.08" fill="#3a1cae" opacity="0.85"/><circle cx="114.40" cy="142.00" r="0.62" fill="#9c8ad8" opacity="0.5"/>
<circle cx="76.7" cy="150.5" r="3.2" fill="#f9fbfa" opacity="0.75"/><circle cx="76.7" cy="150.5" r="2.28" fill="#5a40c2"/><circle cx="75.89" cy="149.88" r="0.96" fill="#3a1cae" opacity="0.85"/><circle cx="77.56" cy="149.94" r="0.96" fill="#3a1cae" opacity="0.85"/><circle cx="77.02" cy="151.47" r="0.96" fill="#3a1cae" opacity="0.85"/><circle cx="76.90" cy="150.70" r="0.55" fill="#9c8ad8" opacity="0.5"/>
<circle cx="84.8" cy="154.3" r="2.7" fill="#f9fbfa" opacity="0.75"/><circle cx="84.8" cy="154.3" r="1.80" fill="#5a40c2"/><circle cx="85.39" cy="153.74" r="0.76" fill="#3a1cae" opacity="0.85"/><circle cx="85.10" cy="155.05" r="0.76" fill="#3a1cae" opacity="0.85"/><circle cx="84.04" cy="154.02" r="0.76" fill="#3a1cae" opacity="0.85"/><circle cx="85.00" cy="154.50" r="0.43" fill="#9c8ad8" opacity="0.5"/>
<circle cx="109.3" cy="152.9" r="2.9" fill="#f9fbfa" opacity="0.75"/><circle cx="109.3" cy="152.9" r="1.99" fill="#5a40c2"/><circle cx="108.61" cy="153.47" r="0.84" fill="#3a1cae" opacity="0.85"/><circle cx="109.24" cy="152.00" r="0.84" fill="#3a1cae" opacity="0.85"/><circle cx="110.04" cy="153.41" r="0.84" fill="#3a1cae" opacity="0.85"/><circle cx="109.50" cy="153.10" r="0.48" fill="#9c8ad8" opacity="0.5"/>
<circle cx="116.5" cy="153.8" r="3.2" fill="#f9fbfa" opacity="0.75"/><circle cx="116.5" cy="153.8" r="2.28" fill="#5a40c2"/><circle cx="115.49" cy="153.64" r="0.96" fill="#3a1cae" opacity="0.85"/><circle cx="117.28" cy="153.14" r="0.96" fill="#3a1cae" opacity="0.85"/><circle cx="116.24" cy="154.79" r="0.96" fill="#3a1cae" opacity="0.85"/><circle cx="116.70" cy="154.00" r="0.55" fill="#9c8ad8" opacity="0.5"/>
<circle cx="70.0" cy="178.4" r="3.2" fill="#f9fbfa" opacity="0.75"/><circle cx="70.0" cy="178.4" r="2.28" fill="#5a40c2"/><circle cx="71.03" cy="178.40" r="0.96" fill="#3a1cae" opacity="0.85"/><circle cx="69.46" cy="179.27" r="0.96" fill="#3a1cae" opacity="0.85"/><circle cx="69.45" cy="177.54" r="0.96" fill="#3a1cae" opacity="0.85"/><circle cx="70.20" cy="178.60" r="0.55" fill="#9c8ad8" opacity="0.5"/>
<circle cx="88.7" cy="177.0" r="2.9" fill="#f9fbfa" opacity="0.75"/><circle cx="88.7" cy="177.0" r="1.99" fill="#5a40c2"/><circle cx="89.48" cy="177.44" r="0.84" fill="#3a1cae" opacity="0.85"/><circle cx="87.93" cy="177.47" r="0.84" fill="#3a1cae" opacity="0.85"/><circle cx="89.28" cy="176.31" r="0.84" fill="#3a1cae" opacity="0.85"/><circle cx="88.90" cy="177.20" r="0.48" fill="#9c8ad8" opacity="0.5"/>
<circle cx="70.9" cy="186.0" r="2.8" fill="#f9fbfa" opacity="0.75"/><circle cx="70.9" cy="186.0" r="1.90" fill="#5a40c2"/><circle cx="70.95" cy="185.15" r="0.80" fill="#3a1cae" opacity="0.85"/><circle cx="71.74" cy="185.86" r="0.80" fill="#3a1cae" opacity="0.85"/><circle cx="70.25" cy="186.56" r="0.80" fill="#3a1cae" opacity="0.85"/><circle cx="71.10" cy="186.20" r="0.46" fill="#9c8ad8" opacity="0.5"/>
<circle cx="117.5" cy="184.6" r="2.3" fill="#f9fbfa" opacity="0.75"/><circle cx="117.5" cy="184.6" r="1.42" fill="#5a40c2"/><circle cx="117.50" cy="184.60" r="0.60" fill="#3a1cae" opacity="0.85"/>
</g>
<line x1="91.6" y1="186.4" x2="116.5" y2="186.4" stroke="#333" stroke-width="0.6"/>
<text x="91.6" y="184.6" font-size="2.6" fill="#333">0</text><text x="100.6" y="184.6" font-size="2.6" fill="#333">µm</text><text x="113.2" y="184.6" font-size="2.6" fill="#333">25</text>
<g clip-path="url(#m2)"><g filter="url(#smear)">
<ellipse transform="translate(128,160) rotate(10)" rx="5" ry="12" fill="#c4a2d8" opacity="0.6"/>
<ellipse transform="translate(135,166) rotate(-20)" rx="4" ry="9" fill="#c4a2d8" opacity="0.5"/>
<ellipse transform="translate(176,148) rotate(-15)" rx="3.5" ry="14" fill="#c4a2d8" opacity="0.55"/>
<ellipse transform="translate(178,163) rotate(0)" rx="5" ry="6" fill="#c4a2d8" opacity="0.6"/>
<ellipse transform="translate(207,158) rotate(20)" rx="6" ry="10" fill="#c4a2d8" opacity="0.6"/>
<ellipse transform="translate(192,122) rotate(0)" rx="9" ry="4" fill="#c4a2d8" opacity="0.35"/>
<ellipse transform="translate(137.2,144.7) rotate(0)" rx="8" ry="7" fill="#c4a2d8" opacity="0.7"/>
<ellipse transform="translate(213,146) rotate(0)" rx="3" ry="4" fill="#c4a2d8" opacity="0.8"/>
<ellipse transform="translate(153,174) rotate(0)" rx="9" ry="11" fill="#c4a2d8" opacity="0.35"/>
<ellipse transform="translate(172,178) rotate(0)" rx="4" ry="6" fill="#c4a2d8" opacity="0.5"/>
<ellipse transform="translate(200,176) rotate(0)" rx="8" ry="8" fill="#c4a2d8" opacity="0.5"/>
<ellipse transform="translate(145,123) rotate(0)" rx="5" ry="4" fill="#c4a2d8" opacity="0.3"/>
<ellipse transform="translate(125,181) rotate(0)" rx="5" ry="5" fill="#c4a2d8" opacity="0.4"/>
<ellipse transform="translate(209,121) rotate(0)" rx="5" ry="5" fill="#c4a2d8" opacity="0.4"/>
<ellipse transform="translate(162,140) rotate(30)" rx="6" ry="3" fill="#c4a2d8" opacity="0.3"/>
</g><g filter="url(#soft2)">
<circle cx="121.8" cy="115.4" r="3.0" fill="#9a90d6" opacity="0.8"/><circle cx="121.8" cy="115.4" r="2.06" fill="#5a40c2"/><circle cx="121.11" cy="116.03" r="0.87" fill="#3a1cae" opacity="0.85"/><circle cx="121.04" cy="114.86" r="0.87" fill="#3a1cae" opacity="0.85"/><circle cx="122.73" cy="115.36" r="0.87" fill="#3a1cae" opacity="0.85"/>
<circle cx="121.8" cy="121.1" r="2.7" fill="#9a90d6" opacity="0.8"/><circle cx="121.8" cy="121.1" r="1.81" fill="#5a40c2"/><circle cx="121.99" cy="120.31" r="0.76" fill="#3a1cae" opacity="0.85"/><circle cx="122.45" cy="121.58" r="0.76" fill="#3a1cae" opacity="0.85"/><circle cx="121.06" cy="121.44" r="0.76" fill="#3a1cae" opacity="0.85"/>
<circle cx="133.9" cy="116.3" r="3.0" fill="#9a90d6" opacity="0.8"/><circle cx="133.9" cy="116.3" r="2.06" fill="#5a40c2"/><circle cx="134.43" cy="115.53" r="0.87" fill="#3a1cae" opacity="0.85"/><circle cx="134.62" cy="116.88" r="0.87" fill="#3a1cae" opacity="0.85"/><circle cx="132.98" cy="116.39" r="0.87" fill="#3a1cae" opacity="0.85"/>
<circle cx="139.2" cy="126.0" r="3.4" fill="#9a90d6" opacity="0.8"/><circle cx="139.2" cy="126.0" r="2.49" fill="#5a40c2"/><circle cx="140.26" cy="125.64" r="1.05" fill="#3a1cae" opacity="0.85"/><circle cx="139.38" cy="127.11" r="1.05" fill="#3a1cae" opacity="0.85"/><circle cx="138.32" cy="125.31" r="1.05" fill="#3a1cae" opacity="0.85"/>
<circle cx="152.1" cy="122.6" r="3.2" fill="#9a90d6" opacity="0.8"/><circle cx="152.1" cy="122.6" r="2.32" fill="#5a40c2"/><circle cx="152.83" cy="121.85" r="0.98" fill="#3a1cae" opacity="0.85"/><circle cx="152.34" cy="123.62" r="0.98" fill="#3a1cae" opacity="0.85"/><circle cx="151.06" cy="122.49" r="0.98" fill="#3a1cae" opacity="0.85"/>
<circle cx="166.6" cy="135.6" r="3.0" fill="#9a90d6" opacity="0.8"/><circle cx="166.6" cy="135.6" r="2.06" fill="#5a40c2"/><circle cx="165.84" cy="135.07" r="0.87" fill="#3a1cae" opacity="0.85"/><circle cx="167.21" cy="134.90" r="0.87" fill="#3a1cae" opacity="0.85"/><circle cx="166.49" cy="136.52" r="0.87" fill="#3a1cae" opacity="0.85"/>
<circle cx="131.9" cy="135.1" r="3.0" fill="#9a90d6" opacity="0.8"/><circle cx="131.9" cy="135.1" r="2.06" fill="#5a40c2"/><circle cx="132.80" cy="135.34" r="0.87" fill="#3a1cae" opacity="0.85"/><circle cx="131.33" cy="135.83" r="0.87" fill="#3a1cae" opacity="0.85"/><circle cx="131.34" cy="134.36" r="0.87" fill="#3a1cae" opacity="0.85"/>
<circle cx="136.3" cy="134.1" r="3.0" fill="#9a90d6" opacity="0.8"/><circle cx="136.3" cy="134.1" r="2.06" fill="#5a40c2"/><circle cx="136.27" cy="133.17" r="0.87" fill="#3a1cae" opacity="0.85"/><circle cx="137.16" cy="134.45" r="0.87" fill="#3a1cae" opacity="0.85"/><circle cx="135.42" cy="134.41" r="0.87" fill="#3a1cae" opacity="0.85"/>
<circle cx="143.5" cy="136.0" r="3.2" fill="#9a90d6" opacity="0.8"/><circle cx="143.5" cy="136.0" r="2.32" fill="#5a40c2"/><circle cx="144.28" cy="136.69" r="0.98" fill="#3a1cae" opacity="0.85"/><circle cx="142.84" cy="136.81" r="0.98" fill="#3a1cae" opacity="0.85"/><circle cx="143.60" cy="134.96" r="0.98" fill="#3a1cae" opacity="0.85"/>
<circle cx="133.9" cy="138.0" r="3.0" fill="#9a90d6" opacity="0.8"/><circle cx="133.9" cy="138.0" r="2.06" fill="#5a40c2"/><circle cx="133.02" cy="138.31" r="0.87" fill="#3a1cae" opacity="0.85"/><circle cx="134.40" cy="137.22" r="0.87" fill="#3a1cae" opacity="0.85"/><circle cx="134.45" cy="138.75" r="0.87" fill="#3a1cae" opacity="0.85"/>
<circle cx="150.7" cy="142.8" r="3.2" fill="#9a90d6" opacity="0.8"/><circle cx="150.7" cy="142.8" r="2.32" fill="#5a40c2"/><circle cx="150.18" cy="141.89" r="0.98" fill="#3a1cae" opacity="0.85"/><circle cx="151.61" cy="142.28" r="0.98" fill="#3a1cae" opacity="0.85"/><circle cx="150.89" cy="143.83" r="0.98" fill="#3a1cae" opacity="0.85"/>
<circle cx="147.3" cy="143.3" r="1.8" fill="#9a90d6" opacity="0.8"/><circle cx="147.3" cy="143.3" r="0.86" fill="#5a40c2"/><circle cx="147.30" cy="143.30" r="0.36" fill="#3a1cae" opacity="0.85"/>
<circle cx="122.8" cy="144.2" r="3.4" fill="#9a90d6" opacity="0.8"/><circle cx="122.8" cy="144.2" r="2.49" fill="#5a40c2"/><circle cx="123.40" cy="145.15" r="1.05" fill="#3a1cae" opacity="0.85"/><circle cx="121.85" cy="143.61" r="1.05" fill="#3a1cae" opacity="0.85"/><circle cx="123.67" cy="143.49" r="1.05" fill="#3a1cae" opacity="0.85"/>
<circle cx="148.8" cy="148.5" r="2.2" fill="#9a90d6" opacity="0.8"/><circle cx="148.8" cy="148.5" r="1.29" fill="#5a40c2"/><circle cx="148.80" cy="148.50" r="0.54" fill="#3a1cae" opacity="0.85"/>
<circle cx="203.6" cy="114.4" r="3.8" fill="#9a90d6" opacity="0.8"/><circle cx="203.6" cy="114.4" r="2.92" fill="#5a40c2"/><circle cx="202.84" cy="115.47" r="1.23" fill="#3a1cae" opacity="0.85"/><circle cx="202.66" cy="113.48" r="1.23" fill="#3a1cae" opacity="0.85"/><circle cx="204.91" cy="114.29" r="1.23" fill="#3a1cae" opacity="0.85"/>
<circle cx="190.1" cy="130.8" r="2.5" fill="#9a90d6" opacity="0.8"/><circle cx="190.1" cy="130.8" r="1.63" fill="#5a40c2"/><circle cx="190.56" cy="130.18" r="0.69" fill="#3a1cae" opacity="0.85"/><circle cx="190.38" cy="131.43" r="0.69" fill="#3a1cae" opacity="0.85"/><circle cx="189.39" cy="130.94" r="0.69" fill="#3a1cae" opacity="0.85"/>
<circle cx="194.4" cy="128.8" r="3.0" fill="#9a90d6" opacity="0.8"/><circle cx="194.4" cy="128.8" r="2.06" fill="#5a40c2"/><circle cx="193.54" cy="128.46" r="0.87" fill="#3a1cae" opacity="0.85"/><circle cx="195.04" cy="128.13" r="0.87" fill="#3a1cae" opacity="0.85"/><circle cx="194.40" cy="129.73" r="0.87" fill="#3a1cae" opacity="0.85"/>
<circle cx="194.9" cy="132.2" r="2.4" fill="#9a90d6" opacity="0.8"/><circle cx="194.9" cy="132.2" r="1.55" fill="#5a40c2"/><circle cx="194.90" cy="132.20" r="0.65" fill="#3a1cae" opacity="0.85"/>
<circle cx="199.2" cy="127.4" r="3.4" fill="#9a90d6" opacity="0.8"/><circle cx="199.2" cy="127.4" r="2.49" fill="#5a40c2"/><circle cx="199.38" cy="126.28" r="1.05" fill="#3a1cae" opacity="0.85"/><circle cx="200.37" cy="127.52" r="1.05" fill="#3a1cae" opacity="0.85"/><circle cx="198.67" cy="128.36" r="1.05" fill="#3a1cae" opacity="0.85"/>
<circle cx="199.7" cy="132.2" r="2.7" fill="#9a90d6" opacity="0.8"/><circle cx="199.7" cy="132.2" r="1.81" fill="#5a40c2"/><circle cx="198.98" cy="132.58" r="0.76" fill="#3a1cae" opacity="0.85"/><circle cx="199.69" cy="131.39" r="0.76" fill="#3a1cae" opacity="0.85"/><circle cx="200.33" cy="132.71" r="0.76" fill="#3a1cae" opacity="0.85"/>
<circle cx="205.0" cy="133.2" r="1.9" fill="#9a90d6" opacity="0.8"/><circle cx="205.0" cy="133.2" r="1.03" fill="#5a40c2"/><circle cx="205.00" cy="133.20" r="0.43" fill="#3a1cae" opacity="0.85"/>
<circle cx="210.3" cy="133.6" r="3.8" fill="#9a90d6" opacity="0.8"/><circle cx="210.3" cy="133.6" r="2.92" fill="#5a40c2"/><circle cx="209.47" cy="134.62" r="1.23" fill="#3a1cae" opacity="0.85"/><circle cx="209.98" cy="132.32" r="1.23" fill="#3a1cae" opacity="0.85"/><circle cx="211.60" cy="133.42" r="1.23" fill="#3a1cae" opacity="0.85"/>
<circle cx="185.3" cy="135.1" r="3.0" fill="#9a90d6" opacity="0.8"/><circle cx="185.3" cy="135.1" r="2.06" fill="#5a40c2"/><circle cx="186.22" cy="135.19" r="0.87" fill="#3a1cae" opacity="0.85"/><circle cx="184.41" cy="135.35" r="0.87" fill="#3a1cae" opacity="0.85"/><circle cx="184.93" cy="134.25" r="0.87" fill="#3a1cae" opacity="0.85"/>
<circle cx="169.0" cy="136.0" r="2.6" fill="#9a90d6" opacity="0.8"/><circle cx="169.0" cy="136.0" r="1.72" fill="#5a40c2"/><circle cx="168.84" cy="135.24" r="0.72" fill="#3a1cae" opacity="0.85"/><circle cx="169.77" cy="136.09" r="0.72" fill="#3a1cae" opacity="0.85"/><circle cx="168.34" cy="136.40" r="0.72" fill="#3a1cae" opacity="0.85"/>
<circle cx="195.4" cy="142.8" r="3.0" fill="#9a90d6" opacity="0.8"/><circle cx="195.4" cy="142.8" r="2.06" fill="#5a40c2"/><circle cx="196.32" cy="142.64" r="0.87" fill="#3a1cae" opacity="0.85"/><circle cx="194.87" cy="143.56" r="0.87" fill="#3a1cae" opacity="0.85"/><circle cx="194.75" cy="142.13" r="0.87" fill="#3a1cae" opacity="0.85"/>
<circle cx="186.8" cy="146.1" r="2.4" fill="#9a90d6" opacity="0.8"/><circle cx="186.8" cy="146.1" r="1.55" fill="#5a40c2"/><circle cx="186.75" cy="146.10" r="0.65" fill="#3a1cae" opacity="0.85"/>
<circle cx="188.7" cy="148.0" r="2.2" fill="#9a90d6" opacity="0.8"/><circle cx="188.7" cy="148.0" r="1.29" fill="#5a40c2"/><circle cx="188.70" cy="148.00" r="0.54" fill="#3a1cae" opacity="0.85"/>
<circle cx="193.0" cy="149.0" r="2.2" fill="#9a90d6" opacity="0.8"/><circle cx="193.0" cy="149.0" r="1.29" fill="#5a40c2"/><circle cx="193.00" cy="149.00" r="0.54" fill="#3a1cae" opacity="0.85"/>
<circle cx="208.4" cy="143.7" r="2.6" fill="#9a90d6" opacity="0.8"/><circle cx="208.4" cy="143.7" r="1.72" fill="#5a40c2"/><circle cx="207.94" cy="143.08" r="0.72" fill="#3a1cae" opacity="0.85"/><circle cx="209.17" cy="143.71" r="0.72" fill="#3a1cae" opacity="0.85"/><circle cx="207.92" cy="144.31" r="0.72" fill="#3a1cae" opacity="0.85"/>
<circle cx="211.3" cy="145.2" r="2.6" fill="#9a90d6" opacity="0.8"/><circle cx="211.3" cy="145.2" r="1.72" fill="#5a40c2"/><circle cx="210.83" cy="144.59" r="0.72" fill="#3a1cae" opacity="0.85"/><circle cx="212.07" cy="145.27" r="0.72" fill="#3a1cae" opacity="0.85"/><circle cx="211.01" cy="145.92" r="0.72" fill="#3a1cae" opacity="0.85"/>
<circle cx="214.2" cy="146.6" r="2.6" fill="#9a90d6" opacity="0.8"/><circle cx="214.2" cy="146.6" r="1.72" fill="#5a40c2"/><circle cx="214.97" cy="146.64" r="0.72" fill="#3a1cae" opacity="0.85"/><circle cx="213.66" cy="147.16" r="0.72" fill="#3a1cae" opacity="0.85"/><circle cx="213.70" cy="146.01" r="0.72" fill="#3a1cae" opacity="0.85"/>
<circle cx="216.6" cy="138.0" r="2.4" fill="#9a90d6" opacity="0.8"/><circle cx="216.6" cy="138.0" r="1.55" fill="#5a40c2"/><circle cx="216.60" cy="138.00" r="0.65" fill="#3a1cae" opacity="0.85"/>
<circle cx="149.2" cy="151.0" r="2.2" fill="#9a90d6" opacity="0.8"/><circle cx="149.2" cy="151.0" r="1.29" fill="#5a40c2"/><circle cx="149.25" cy="151.00" r="0.54" fill="#3a1cae" opacity="0.85"/>
<circle cx="155.0" cy="154.8" r="3.6" fill="#9a90d6" opacity="0.8"/><circle cx="155.0" cy="154.8" r="2.67" fill="#5a40c2"/><circle cx="154.28" cy="153.84" r="1.12" fill="#3a1cae" opacity="0.85"/><circle cx="156.10" cy="154.32" r="1.12" fill="#3a1cae" opacity="0.85"/><circle cx="154.49" cy="155.89" r="1.12" fill="#3a1cae" opacity="0.85"/>
<circle cx="155.0" cy="161.5" r="3.0" fill="#9a90d6" opacity="0.8"/><circle cx="155.0" cy="161.5" r="2.06" fill="#5a40c2"/><circle cx="155.56" cy="160.76" r="0.87" fill="#3a1cae" opacity="0.85"/><circle cx="154.74" cy="162.39" r="0.87" fill="#3a1cae" opacity="0.85"/><circle cx="154.26" cy="160.94" r="0.87" fill="#3a1cae" opacity="0.85"/>
<circle cx="159.3" cy="163.0" r="2.6" fill="#9a90d6" opacity="0.8"/><circle cx="159.3" cy="163.0" r="1.72" fill="#5a40c2"/><circle cx="159.85" cy="163.54" r="0.72" fill="#3a1cae" opacity="0.85"/><circle cx="158.53" cy="163.10" r="0.72" fill="#3a1cae" opacity="0.85"/><circle cx="159.76" cy="162.38" r="0.72" fill="#3a1cae" opacity="0.85"/>
<circle cx="150.7" cy="164.4" r="3.0" fill="#9a90d6" opacity="0.8"/><circle cx="150.7" cy="164.4" r="2.06" fill="#5a40c2"/><circle cx="150.00" cy="165.01" r="0.87" fill="#3a1cae" opacity="0.85"/><circle cx="150.75" cy="163.47" r="0.87" fill="#3a1cae" opacity="0.85"/><circle cx="151.51" cy="164.86" r="0.87" fill="#3a1cae" opacity="0.85"/>
<circle cx="147.3" cy="168.3" r="3.2" fill="#9a90d6" opacity="0.8"/><circle cx="147.3" cy="168.3" r="2.32" fill="#5a40c2"/><circle cx="148.27" cy="167.91" r="0.98" fill="#3a1cae" opacity="0.85"/><circle cx="146.99" cy="169.30" r="0.98" fill="#3a1cae" opacity="0.85"/><circle cx="146.37" cy="167.83" r="0.98" fill="#3a1cae" opacity="0.85"/>
<circle cx="161.8" cy="167.3" r="3.2" fill="#9a90d6" opacity="0.8"/><circle cx="161.8" cy="167.3" r="2.32" fill="#5a40c2"/><circle cx="161.83" cy="166.26" r="0.98" fill="#3a1cae" opacity="0.85"/><circle cx="162.68" cy="167.77" r="0.98" fill="#3a1cae" opacity="0.85"/><circle cx="160.84" cy="167.82" r="0.98" fill="#3a1cae" opacity="0.85"/>
<circle cx="154.5" cy="172.1" r="3.6" fill="#9a90d6" opacity="0.8"/><circle cx="154.5" cy="172.1" r="2.67" fill="#5a40c2"/><circle cx="154.39" cy="173.29" r="1.12" fill="#3a1cae" opacity="0.85"/><circle cx="153.57" cy="171.34" r="1.12" fill="#3a1cae" opacity="0.85"/><circle cx="155.62" cy="171.68" r="1.12" fill="#3a1cae" opacity="0.85"/>
<circle cx="159.8" cy="171.6" r="3.0" fill="#9a90d6" opacity="0.8"/><circle cx="159.8" cy="171.6" r="2.06" fill="#5a40c2"/><circle cx="158.97" cy="171.19" r="0.87" fill="#3a1cae" opacity="0.85"/><circle cx="160.34" cy="170.84" r="0.87" fill="#3a1cae" opacity="0.85"/><circle cx="159.76" cy="172.53" r="0.87" fill="#3a1cae" opacity="0.85"/>
<circle cx="166.0" cy="167.3" r="2.8" fill="#9a90d6" opacity="0.8"/><circle cx="166.0" cy="167.3" r="1.89" fill="#5a40c2"/><circle cx="166.44" cy="166.57" r="0.79" fill="#3a1cae" opacity="0.85"/><circle cx="166.56" cy="167.94" r="0.79" fill="#3a1cae" opacity="0.85"/><circle cx="165.15" cy="167.21" r="0.79" fill="#3a1cae" opacity="0.85"/>
<circle cx="147.8" cy="173.6" r="2.8" fill="#9a90d6" opacity="0.8"/><circle cx="147.8" cy="173.6" r="1.89" fill="#5a40c2"/><circle cx="147.06" cy="173.17" r="0.79" fill="#3a1cae" opacity="0.85"/><circle cx="148.43" cy="173.03" r="0.79" fill="#3a1cae" opacity="0.85"/><circle cx="148.26" cy="174.31" r="0.79" fill="#3a1cae" opacity="0.85"/>
<circle cx="151.2" cy="177.0" r="2.2" fill="#9a90d6" opacity="0.8"/><circle cx="151.2" cy="177.0" r="1.29" fill="#5a40c2"/><circle cx="151.20" cy="177.00" r="0.54" fill="#3a1cae" opacity="0.85"/>
<circle cx="158.9" cy="177.0" r="3.2" fill="#9a90d6" opacity="0.8"/><circle cx="158.9" cy="177.0" r="2.32" fill="#5a40c2"/><circle cx="158.95" cy="175.96" r="0.98" fill="#3a1cae" opacity="0.85"/><circle cx="159.69" cy="177.68" r="0.98" fill="#3a1cae" opacity="0.85"/><circle cx="157.86" cy="176.97" r="0.98" fill="#3a1cae" opacity="0.85"/>
<circle cx="166.0" cy="173.0" r="2.8" fill="#9a90d6" opacity="0.8"/><circle cx="166.0" cy="173.0" r="1.89" fill="#5a40c2"/><circle cx="166.70" cy="173.48" r="0.79" fill="#3a1cae" opacity="0.85"/><circle cx="165.16" cy="173.12" r="0.79" fill="#3a1cae" opacity="0.85"/><circle cx="166.44" cy="172.27" r="0.79" fill="#3a1cae" opacity="0.85"/>
<circle cx="156.0" cy="181.7" r="3.2" fill="#9a90d6" opacity="0.8"/><circle cx="156.0" cy="181.7" r="2.32" fill="#5a40c2"/><circle cx="156.68" cy="180.91" r="0.98" fill="#3a1cae" opacity="0.85"/><circle cx="156.13" cy="182.74" r="0.98" fill="#3a1cae" opacity="0.85"/><circle cx="154.96" cy="181.65" r="0.98" fill="#3a1cae" opacity="0.85"/>
<circle cx="164.6" cy="181.2" r="3.0" fill="#9a90d6" opacity="0.8"/><circle cx="164.6" cy="181.2" r="2.06" fill="#5a40c2"/><circle cx="165.34" cy="180.69" r="0.87" fill="#3a1cae" opacity="0.85"/><circle cx="164.62" cy="182.18" r="0.87" fill="#3a1cae" opacity="0.85"/><circle cx="163.93" cy="180.61" r="0.87" fill="#3a1cae" opacity="0.85"/>
<circle cx="120.0" cy="168.3" r="2.2" fill="#9a90d6" opacity="0.8"/><circle cx="120.0" cy="168.3" r="1.29" fill="#5a40c2"/><circle cx="120.00" cy="168.30" r="0.54" fill="#3a1cae" opacity="0.85"/>
<circle cx="120.4" cy="174.5" r="3.0" fill="#9a90d6" opacity="0.8"/><circle cx="120.4" cy="174.5" r="2.06" fill="#5a40c2"/><circle cx="119.81" cy="173.78" r="0.87" fill="#3a1cae" opacity="0.85"/><circle cx="121.32" cy="174.60" r="0.87" fill="#3a1cae" opacity="0.85"/><circle cx="120.03" cy="175.35" r="0.87" fill="#3a1cae" opacity="0.85"/>
<circle cx="132.4" cy="175.5" r="3.2" fill="#9a90d6" opacity="0.8"/><circle cx="132.4" cy="175.5" r="2.32" fill="#5a40c2"/><circle cx="132.10" cy="176.50" r="0.98" fill="#3a1cae" opacity="0.85"/><circle cx="132.01" cy="174.53" r="0.98" fill="#3a1cae" opacity="0.85"/><circle cx="133.43" cy="175.70" r="0.98" fill="#3a1cae" opacity="0.85"/>
<circle cx="122.8" cy="182.7" r="3.0" fill="#9a90d6" opacity="0.8"/><circle cx="122.8" cy="182.7" r="2.06" fill="#5a40c2"/><circle cx="122.78" cy="183.63" r="0.87" fill="#3a1cae" opacity="0.85"/><circle cx="122.06" cy="182.14" r="0.87" fill="#3a1cae" opacity="0.85"/><circle cx="123.48" cy="182.06" r="0.87" fill="#3a1cae" opacity="0.85"/>
<circle cx="127.6" cy="181.7" r="2.6" fill="#9a90d6" opacity="0.8"/><circle cx="127.6" cy="181.7" r="1.72" fill="#5a40c2"/><circle cx="126.84" cy="181.53" r="0.72" fill="#3a1cae" opacity="0.85"/><circle cx="128.26" cy="181.29" r="0.72" fill="#3a1cae" opacity="0.85"/><circle cx="127.64" cy="182.47" r="0.72" fill="#3a1cae" opacity="0.85"/>
<circle cx="129.5" cy="185.1" r="3.0" fill="#9a90d6" opacity="0.8"/><circle cx="129.5" cy="185.1" r="2.06" fill="#5a40c2"/><circle cx="128.61" cy="184.84" r="0.87" fill="#3a1cae" opacity="0.85"/><circle cx="130.43" cy="185.09" r="0.87" fill="#3a1cae" opacity="0.85"/><circle cx="129.35" cy="186.02" r="0.87" fill="#3a1cae" opacity="0.85"/>
<circle cx="136.8" cy="183.6" r="3.0" fill="#9a90d6" opacity="0.8"/><circle cx="136.8" cy="183.6" r="2.06" fill="#5a40c2"/><circle cx="135.89" cy="183.95" r="0.87" fill="#3a1cae" opacity="0.85"/><circle cx="136.71" cy="182.67" r="0.87" fill="#3a1cae" opacity="0.85"/><circle cx="137.60" cy="183.98" r="0.87" fill="#3a1cae" opacity="0.85"/>
<circle cx="140.1" cy="180.3" r="3.0" fill="#9a90d6" opacity="0.8"/><circle cx="140.1" cy="180.3" r="2.06" fill="#5a40c2"/><circle cx="139.49" cy="179.60" r="0.87" fill="#3a1cae" opacity="0.85"/><circle cx="141.01" cy="180.47" r="0.87" fill="#3a1cae" opacity="0.85"/><circle cx="139.56" cy="181.06" r="0.87" fill="#3a1cae" opacity="0.85"/>
<circle cx="133.9" cy="186.0" r="2.6" fill="#9a90d6" opacity="0.8"/><circle cx="133.9" cy="186.0" r="1.72" fill="#5a40c2"/><circle cx="134.67" cy="186.05" r="0.72" fill="#3a1cae" opacity="0.85"/><circle cx="133.85" cy="186.77" r="0.72" fill="#3a1cae" opacity="0.85"/><circle cx="133.34" cy="185.47" r="0.72" fill="#3a1cae" opacity="0.85"/>
<circle cx="170.9" cy="151.9" r="3.0" fill="#9a90d6" opacity="0.8"/><circle cx="170.9" cy="151.9" r="2.06" fill="#5a40c2"/><circle cx="171.58" cy="152.53" r="0.87" fill="#3a1cae" opacity="0.85"/><circle cx="169.97" cy="151.89" r="0.87" fill="#3a1cae" opacity="0.85"/><circle cx="171.43" cy="151.14" r="0.87" fill="#3a1cae" opacity="0.85"/>
<circle cx="174.2" cy="151.4" r="2.6" fill="#9a90d6" opacity="0.8"/><circle cx="174.2" cy="151.4" r="1.72" fill="#5a40c2"/><circle cx="173.51" cy="151.63" r="0.72" fill="#3a1cae" opacity="0.85"/><circle cx="174.35" cy="150.63" r="0.72" fill="#3a1cae" opacity="0.85"/><circle cx="174.67" cy="152.05" r="0.72" fill="#3a1cae" opacity="0.85"/>
<circle cx="171.4" cy="155.3" r="2.6" fill="#9a90d6" opacity="0.8"/><circle cx="171.4" cy="155.3" r="1.72" fill="#5a40c2"/><circle cx="171.96" cy="154.76" r="0.72" fill="#3a1cae" opacity="0.85"/><circle cx="171.19" cy="156.04" r="0.72" fill="#3a1cae" opacity="0.85"/><circle cx="170.64" cy="155.14" r="0.72" fill="#3a1cae" opacity="0.85"/>
<circle cx="187.2" cy="151.4" r="3.0" fill="#9a90d6" opacity="0.8"/><circle cx="187.2" cy="151.4" r="2.06" fill="#5a40c2"/><circle cx="187.70" cy="152.18" r="0.87" fill="#3a1cae" opacity="0.85"/><circle cx="186.32" cy="151.10" r="0.87" fill="#3a1cae" opacity="0.85"/><circle cx="187.70" cy="150.62" r="0.87" fill="#3a1cae" opacity="0.85"/>
<circle cx="191.6" cy="152.4" r="3.0" fill="#9a90d6" opacity="0.8"/><circle cx="191.6" cy="152.4" r="2.06" fill="#5a40c2"/><circle cx="190.96" cy="153.08" r="0.87" fill="#3a1cae" opacity="0.85"/><circle cx="191.00" cy="151.69" r="0.87" fill="#3a1cae" opacity="0.85"/><circle cx="192.48" cy="152.70" r="0.87" fill="#3a1cae" opacity="0.85"/>
<circle cx="195.9" cy="151.9" r="2.8" fill="#9a90d6" opacity="0.8"/><circle cx="195.9" cy="151.9" r="1.89" fill="#5a40c2"/><circle cx="196.51" cy="152.50" r="0.79" fill="#3a1cae" opacity="0.85"/><circle cx="195.14" cy="152.29" r="0.79" fill="#3a1cae" opacity="0.85"/><circle cx="195.91" cy="151.05" r="0.79" fill="#3a1cae" opacity="0.85"/>
<circle cx="194.0" cy="156.7" r="3.8" fill="#9a90d6" opacity="0.8"/><circle cx="194.0" cy="156.7" r="2.92" fill="#5a40c2"/><circle cx="192.70" cy="156.52" r="1.23" fill="#3a1cae" opacity="0.85"/><circle cx="194.76" cy="155.63" r="1.23" fill="#3a1cae" opacity="0.85"/><circle cx="194.50" cy="157.92" r="1.23" fill="#3a1cae" opacity="0.85"/>
<circle cx="190.1" cy="161.5" r="3.4" fill="#9a90d6" opacity="0.8"/><circle cx="190.1" cy="161.5" r="2.49" fill="#5a40c2"/><circle cx="188.98" cy="161.60" r="1.05" fill="#3a1cae" opacity="0.85"/><circle cx="190.61" cy="160.50" r="1.05" fill="#3a1cae" opacity="0.85"/><circle cx="190.35" cy="162.59" r="1.05" fill="#3a1cae" opacity="0.85"/>
<circle cx="196.4" cy="162.5" r="3.0" fill="#9a90d6" opacity="0.8"/><circle cx="196.4" cy="162.5" r="2.06" fill="#5a40c2"/><circle cx="195.82" cy="161.78" r="0.87" fill="#3a1cae" opacity="0.85"/><circle cx="197.32" cy="162.60" r="0.87" fill="#3a1cae" opacity="0.85"/><circle cx="196.00" cy="163.34" r="0.87" fill="#3a1cae" opacity="0.85"/>
<circle cx="202.6" cy="155.8" r="3.2" fill="#9a90d6" opacity="0.8"/><circle cx="202.6" cy="155.8" r="2.32" fill="#5a40c2"/><circle cx="203.06" cy="154.86" r="0.98" fill="#3a1cae" opacity="0.85"/><circle cx="202.79" cy="156.83" r="0.98" fill="#3a1cae" opacity="0.85"/><circle cx="201.64" cy="155.39" r="0.98" fill="#3a1cae" opacity="0.85"/>
<circle cx="205.5" cy="161.5" r="3.2" fill="#9a90d6" opacity="0.8"/><circle cx="205.5" cy="161.5" r="2.32" fill="#5a40c2"/><circle cx="206.26" cy="160.78" r="0.98" fill="#3a1cae" opacity="0.85"/><circle cx="205.74" cy="162.52" r="0.98" fill="#3a1cae" opacity="0.85"/><circle cx="204.76" cy="160.76" r="0.98" fill="#3a1cae" opacity="0.85"/>
<circle cx="202.1" cy="164.9" r="2.6" fill="#9a90d6" opacity="0.8"/><circle cx="202.1" cy="164.9" r="1.72" fill="#5a40c2"/><circle cx="201.95" cy="165.66" r="0.72" fill="#3a1cae" opacity="0.85"/><circle cx="201.48" cy="164.44" r="0.72" fill="#3a1cae" opacity="0.85"/><circle cx="202.51" cy="164.25" r="0.72" fill="#3a1cae" opacity="0.85"/>
<circle cx="211.3" cy="151.4" r="3.0" fill="#9a90d6" opacity="0.8"/><circle cx="211.3" cy="151.4" r="2.06" fill="#5a40c2"/><circle cx="211.19" cy="152.32" r="0.87" fill="#3a1cae" opacity="0.85"/><circle cx="210.40" cy="151.15" r="0.87" fill="#3a1cae" opacity="0.85"/><circle cx="211.88" cy="150.67" r="0.87" fill="#3a1cae" opacity="0.85"/>
<circle cx="216.0" cy="152.0" r="2.6" fill="#9a90d6" opacity="0.8"/><circle cx="216.0" cy="152.0" r="1.72" fill="#5a40c2"/><circle cx="216.34" cy="151.30" r="0.72" fill="#3a1cae" opacity="0.85"/><circle cx="216.23" cy="152.74" r="0.72" fill="#3a1cae" opacity="0.85"/><circle cx="215.26" cy="152.23" r="0.72" fill="#3a1cae" opacity="0.85"/>
<circle cx="169.0" cy="166.3" r="3.4" fill="#9a90d6" opacity="0.8"/><circle cx="169.0" cy="166.3" r="2.49" fill="#5a40c2"/><circle cx="168.00" cy="166.80" r="1.05" fill="#3a1cae" opacity="0.85"/><circle cx="168.49" cy="165.30" r="1.05" fill="#3a1cae" opacity="0.85"/><circle cx="170.10" cy="166.53" r="1.05" fill="#3a1cae" opacity="0.85"/>
<circle cx="169.4" cy="170.7" r="2.6" fill="#9a90d6" opacity="0.8"/><circle cx="169.4" cy="170.7" r="1.72" fill="#5a40c2"/><circle cx="169.32" cy="169.93" r="0.72" fill="#3a1cae" opacity="0.85"/><circle cx="170.09" cy="171.06" r="0.72" fill="#3a1cae" opacity="0.85"/><circle cx="169.15" cy="171.43" r="0.72" fill="#3a1cae" opacity="0.85"/>
<circle cx="208.9" cy="172.1" r="2.7" fill="#9a90d6" opacity="0.8"/><circle cx="208.9" cy="172.1" r="1.81" fill="#5a40c2"/><circle cx="208.11" cy="171.91" r="0.76" fill="#3a1cae" opacity="0.85"/><circle cx="209.34" cy="171.41" r="0.76" fill="#3a1cae" opacity="0.85"/><circle cx="209.16" cy="172.87" r="0.76" fill="#3a1cae" opacity="0.85"/>
<circle cx="205.5" cy="178.8" r="2.6" fill="#9a90d6" opacity="0.8"/><circle cx="205.5" cy="178.8" r="1.72" fill="#5a40c2"/><circle cx="206.01" cy="179.38" r="0.72" fill="#3a1cae" opacity="0.85"/><circle cx="204.74" cy="178.93" r="0.72" fill="#3a1cae" opacity="0.85"/><circle cx="205.73" cy="178.06" r="0.72" fill="#3a1cae" opacity="0.85"/>
<circle cx="215.1" cy="178.8" r="3.0" fill="#9a90d6" opacity="0.8"/><circle cx="215.1" cy="178.8" r="2.06" fill="#5a40c2"/><circle cx="214.22" cy="178.49" r="0.87" fill="#3a1cae" opacity="0.85"/><circle cx="215.83" cy="178.23" r="0.87" fill="#3a1cae" opacity="0.85"/><circle cx="215.52" cy="179.63" r="0.87" fill="#3a1cae" opacity="0.85"/>
<circle cx="178.6" cy="180.8" r="3.8" fill="#9a90d6" opacity="0.8"/><circle cx="178.6" cy="180.8" r="2.92" fill="#5a40c2"/><circle cx="179.40" cy="181.85" r="1.23" fill="#3a1cae" opacity="0.85"/><circle cx="177.38" cy="180.30" r="1.23" fill="#3a1cae" opacity="0.85"/><circle cx="179.73" cy="180.13" r="1.23" fill="#3a1cae" opacity="0.85"/>
<circle cx="172.8" cy="184.6" r="3.0" fill="#9a90d6" opacity="0.8"/><circle cx="172.8" cy="184.6" r="2.06" fill="#5a40c2"/><circle cx="173.46" cy="183.94" r="0.87" fill="#3a1cae" opacity="0.85"/><circle cx="173.06" cy="185.49" r="0.87" fill="#3a1cae" opacity="0.85"/><circle cx="172.27" cy="183.84" r="0.87" fill="#3a1cae" opacity="0.85"/>
<circle cx="187.7" cy="186.5" r="2.6" fill="#9a90d6" opacity="0.8"/><circle cx="187.7" cy="186.5" r="1.72" fill="#5a40c2"/><circle cx="186.93" cy="186.52" r="0.72" fill="#3a1cae" opacity="0.85"/><circle cx="187.82" cy="185.73" r="0.72" fill="#3a1cae" opacity="0.85"/><circle cx="188.24" cy="187.05" r="0.72" fill="#3a1cae" opacity="0.85"/>
<circle cx="212.7" cy="184.1" r="3.0" fill="#9a90d6" opacity="0.8"/><circle cx="212.7" cy="184.1" r="2.06" fill="#5a40c2"/><circle cx="211.77" cy="184.06" r="0.87" fill="#3a1cae" opacity="0.85"/><circle cx="213.30" cy="183.39" r="0.87" fill="#3a1cae" opacity="0.85"/><circle cx="213.37" cy="184.74" r="0.87" fill="#3a1cae" opacity="0.85"/>
<circle cx="137.2" cy="144.7" r="6.8" fill="#aaa0da" opacity="0.7"/>
<circle cx="137.2" cy="144.7" r="5.2" fill="#4a2cb8"/>
<circle cx="139.94" cy="145.26" r="1.70" fill="#3416a6" opacity="0.85"/>
<circle cx="138.89" cy="146.64" r="1.88" fill="#3416a6" opacity="0.85"/>
<circle cx="137.30" cy="146.08" r="1.96" fill="#3416a6" opacity="0.85"/>
<circle cx="135.46" cy="147.02" r="2.19" fill="#3416a6" opacity="0.85"/>
<circle cx="134.97" cy="142.96" r="2.05" fill="#3416a6" opacity="0.85"/>
<circle cx="136.51" cy="142.52" r="1.95" fill="#3416a6" opacity="0.85"/>
<circle cx="139.70" cy="143.64" r="1.76" fill="#3416a6" opacity="0.85"/>
<circle cx="141.49" cy="145.78" r="1.56" fill="#4a30b6" opacity="0.9"/>
<circle cx="137.97" cy="149.05" r="1.56" fill="#4a30b6" opacity="0.9"/>
<circle cx="133.27" cy="146.72" r="1.56" fill="#4a30b6" opacity="0.9"/>
<circle cx="134.11" cy="141.54" r="1.56" fill="#4a30b6" opacity="0.9"/>
<circle cx="138.21" cy="140.40" r="1.56" fill="#4a30b6" opacity="0.9"/>
<circle cx="189.2" cy="118.3" r="6.8" fill="#aaa0da" opacity="0.7"/>
<circle cx="189.2" cy="118.3" r="5.2" fill="#4a2cb8"/>
<circle cx="191.85" cy="119.41" r="2.10" fill="#3416a6" opacity="0.85"/>
<circle cx="190.23" cy="120.72" r="1.88" fill="#3416a6" opacity="0.85"/>
<circle cx="188.68" cy="119.37" r="1.83" fill="#3416a6" opacity="0.85"/>
<circle cx="188.25" cy="118.78" r="1.84" fill="#3416a6" opacity="0.85"/>
<circle cx="187.27" cy="116.99" r="1.74" fill="#3416a6" opacity="0.85"/>
<circle cx="189.76" cy="115.94" r="1.82" fill="#3416a6" opacity="0.85"/>
<circle cx="190.87" cy="116.83" r="1.98" fill="#3416a6" opacity="0.85"/>
<circle cx="193.61" cy="118.01" r="1.56" fill="#4a30b6" opacity="0.9"/>
<circle cx="189.29" cy="122.72" r="1.56" fill="#4a30b6" opacity="0.9"/>
<circle cx="185.45" cy="120.63" r="1.56" fill="#4a30b6" opacity="0.9"/>
<circle cx="185.90" cy="115.36" r="1.56" fill="#4a30b6" opacity="0.9"/>
<circle cx="191.10" cy="114.31" r="1.56" fill="#4a30b6" opacity="0.9"/>
<circle cx="201.2" cy="176" r="6.6" fill="#aaa0da" opacity="0.7"/>
<circle cx="201.2" cy="176" r="5.0" fill="#4a2cb8"/>
<circle cx="202.13" cy="176.48" r="1.96" fill="#3416a6" opacity="0.85"/>
<circle cx="201.83" cy="177.37" r="1.80" fill="#3416a6" opacity="0.85"/>
<circle cx="201.50" cy="177.36" r="1.78" fill="#3416a6" opacity="0.85"/>
<circle cx="200.20" cy="177.12" r="2.18" fill="#3416a6" opacity="0.85"/>
<circle cx="199.44" cy="175.02" r="2.23" fill="#3416a6" opacity="0.85"/>
<circle cx="200.77" cy="173.04" r="1.98" fill="#3416a6" opacity="0.85"/>
<circle cx="202.17" cy="175.37" r="1.95" fill="#3416a6" opacity="0.85"/>
<circle cx="205.40" cy="176.66" r="1.50" fill="#4a30b6" opacity="0.9"/>
<circle cx="203.58" cy="179.52" r="1.50" fill="#4a30b6" opacity="0.9"/>
<circle cx="197.26" cy="177.59" r="1.50" fill="#4a30b6" opacity="0.9"/>
<circle cx="197.29" cy="174.33" r="1.50" fill="#4a30b6" opacity="0.9"/>
<circle cx="202.34" cy="171.90" r="1.50" fill="#4a30b6" opacity="0.9"/>
</g></g>
<line x1="191.6" y1="186.4" x2="216.6" y2="186.4" stroke="#333" stroke-width="0.6"/>
<text x="191.6" y="184.6" font-size="2.6" fill="#333">0</text><text x="200.6" y="184.6" font-size="2.6" fill="#333">µm</text><text x="213.2" y="184.6" font-size="2.6" fill="#333">25</text>
<line x1="76.50" y1="200.40" x2="76.50" y2="248.00" stroke="#231f20" stroke-width="1.1"/>
<line x1="76.00" y1="247.50" x2="145.00" y2="247.50" stroke="#231f20" stroke-width="1.1"/>
<line x1="73.80" y1="247.50" x2="76.50" y2="247.50" stroke="#231f20" stroke-width="1"/>
<text transform="translate(70.90,250.25)" font-size="7.7" fill="#231f20" stroke="#231f20" stroke-width="0.13" text-anchor="end">0</text>
<line x1="73.80" y1="236.72" x2="76.50" y2="236.72" stroke="#231f20" stroke-width="1"/>
<text transform="translate(70.90,239.47)" font-size="7.7" fill="#231f20" stroke="#231f20" stroke-width="0.13" text-anchor="end">5</text>
<line x1="73.80" y1="225.95" x2="76.50" y2="225.95" stroke="#231f20" stroke-width="1"/>
<text transform="translate(70.90,228.70)" font-size="7.7" fill="#231f20" stroke="#231f20" stroke-width="0.13" text-anchor="end">10</text>
<line x1="73.80" y1="215.18" x2="76.50" y2="215.18" stroke="#231f20" stroke-width="1"/>
<text transform="translate(70.90,217.93)" font-size="7.7" fill="#231f20" stroke="#231f20" stroke-width="0.13" text-anchor="end">15</text>
<line x1="73.80" y1="204.40" x2="76.50" y2="204.40" stroke="#231f20" stroke-width="1"/>
<text transform="translate(70.90,207.15)" font-size="7.7" fill="#231f20" stroke="#231f20" stroke-width="0.13" text-anchor="end">20</text>
<line x1="76.50" y1="247.50" x2="76.50" y2="249.70" stroke="#231f20" stroke-width="1"/>
<text transform="translate(76.50,258.90)" font-size="7.8" fill="#231f20" stroke="#231f20" stroke-width="0.13" text-anchor="middle">0</text>
<line x1="92.80" y1="247.50" x2="92.80" y2="249.70" stroke="#231f20" stroke-width="1"/>
<text transform="translate(92.80,258.90)" font-size="7.8" fill="#231f20" stroke="#231f20" stroke-width="0.13" text-anchor="middle">2</text>
<line x1="108.80" y1="247.50" x2="108.80" y2="249.70" stroke="#231f20" stroke-width="1"/>
<text transform="translate(108.80,258.90)" font-size="7.8" fill="#231f20" stroke="#231f20" stroke-width="0.13" text-anchor="middle">4</text>
<line x1="124.70" y1="247.50" x2="124.70" y2="249.70" stroke="#231f20" stroke-width="1"/>
<text transform="translate(124.70,258.90)" font-size="7.8" fill="#231f20" stroke="#231f20" stroke-width="0.13" text-anchor="middle">6</text>
<line x1="140.80" y1="247.50" x2="140.80" y2="249.70" stroke="#231f20" stroke-width="1"/>
<text transform="translate(140.80,258.90)" font-size="7.8" fill="#231f20" stroke="#231f20" stroke-width="0.13" text-anchor="middle">8</text>
<text transform="translate(44.30,225.80) rotate(-90) translate(-17.75,0) scale(0.64,1)" font-size="8.8" fill="#231f20" stroke="#231f20" stroke-width="0.400" letter-spacing="0.425">% Dysplastic</text>
<text transform="translate(55.40,225.50) rotate(-90) translate(-5.90,0) scale(0.64,1)" font-size="8.8" fill="#231f20" stroke="#231f20" stroke-width="0.400" letter-spacing="0.167">cells</text>
<text transform="translate(108.80,271.80) translate(-34.85,0) scale(0.64,1)" font-size="9.3" fill="#231f20" stroke="#231f20" stroke-width="0.400" letter-spacing="0.174">Days (G-CSF: 100 ng/ml)</text>
<circle cx="91.25" cy="203.60" r="1.0" fill="#1a1a1a"/>
<circle cx="94.35" cy="203.60" r="1.0" fill="#1a1a1a"/>
<line x1="89.45" y1="208.00" x2="96.15" y2="208.00" stroke="#666" stroke-width="1.3"/>
<circle cx="107.25" cy="203.60" r="1.0" fill="#1a1a1a"/>
<circle cx="110.35" cy="203.60" r="1.0" fill="#1a1a1a"/>
<line x1="105.45" y1="208.00" x2="112.15" y2="208.00" stroke="#666" stroke-width="1.3"/>
<circle cx="123.15" cy="203.60" r="1.0" fill="#1a1a1a"/>
<circle cx="126.25" cy="203.60" r="1.0" fill="#1a1a1a"/>
<line x1="121.35" y1="208.00" x2="128.05" y2="208.00" stroke="#666" stroke-width="1.3"/>
<circle cx="139.25" cy="203.60" r="1.0" fill="#1a1a1a"/>
<circle cx="142.35" cy="203.60" r="1.0" fill="#1a1a1a"/>
<line x1="137.45" y1="208.00" x2="144.15" y2="208.00" stroke="#666" stroke-width="1.3"/>
<line x1="92.80" y1="234.35" x2="92.80" y2="241.47" stroke="#d4385a" stroke-width="1.0"/>
<line x1="91.10" y1="234.35" x2="94.50" y2="234.35" stroke="#d4385a" stroke-width="1.0"/>
<line x1="91.10" y1="241.47" x2="94.50" y2="241.47" stroke="#d4385a" stroke-width="1.0"/>
<line x1="108.80" y1="233.92" x2="108.80" y2="240.17" stroke="#d4385a" stroke-width="1.0"/>
<line x1="107.10" y1="233.92" x2="110.50" y2="233.92" stroke="#d4385a" stroke-width="1.0"/>
<line x1="107.10" y1="240.17" x2="110.50" y2="240.17" stroke="#d4385a" stroke-width="1.0"/>
<line x1="124.70" y1="212.16" x2="124.70" y2="231.55" stroke="#d4385a" stroke-width="1.0"/>
<line x1="123.00" y1="212.16" x2="126.40" y2="212.16" stroke="#d4385a" stroke-width="1.0"/>
<line x1="123.00" y1="231.55" x2="126.40" y2="231.55" stroke="#d4385a" stroke-width="1.0"/>
<line x1="140.80" y1="214.96" x2="140.80" y2="231.55" stroke="#d4385a" stroke-width="1.0"/>
<line x1="139.10" y1="214.96" x2="142.50" y2="214.96" stroke="#d4385a" stroke-width="1.0"/>
<line x1="139.10" y1="231.55" x2="142.50" y2="231.55" stroke="#d4385a" stroke-width="1.0"/>
<polyline points="76.50,247.50 92.80,239.31 108.80,236.72 124.70,221.64 140.80,223.36" fill="none" stroke="#cf1d3c" stroke-width="1.45" stroke-linejoin="round"/>
<polyline points="76.50,247.50 92.80,245.24 108.80,247.50 124.70,245.56 140.80,244.05" fill="none" stroke="#1c5b98" stroke-width="1.45" stroke-linejoin="round"/>
<polyline points="76.50,247.50 92.80,247.28 108.80,246.53 124.70,247.18 140.80,247.28" fill="none" stroke="#3cb54a" stroke-width="1.45" stroke-linejoin="round"/>
<rect x="75.10" y="246.10" width="2.80" height="2.80" fill="#cf1d3c"/>
<rect x="91.40" y="237.91" width="2.80" height="2.80" fill="#cf1d3c"/>
<rect x="107.40" y="235.32" width="2.80" height="2.80" fill="#cf1d3c"/>
<rect x="123.30" y="220.24" width="2.80" height="2.80" fill="#cf1d3c"/>
<rect x="139.40" y="221.96" width="2.80" height="2.80" fill="#cf1d3c"/>
<path d="M74.94,247.50 L76.50,245.94 L78.06,247.50 L76.50,249.06 Z" fill="#1c5b98"/>
<path d="M91.24,245.24 L92.80,243.68 L94.36,245.24 L92.80,246.80 Z" fill="#1c5b98"/>
<path d="M107.24,247.50 L108.80,245.94 L110.36,247.50 L108.80,249.06 Z" fill="#1c5b98"/>
<path d="M123.14,245.56 L124.70,244.00 L126.26,245.56 L124.70,247.12 Z" fill="#1c5b98"/>
<path d="M139.24,244.05 L140.80,242.49 L142.36,244.05 L140.80,245.61 Z" fill="#1c5b98"/>
<path d="M75.07,248.54 L77.93,248.54 L76.50,246.07 Z" fill="#3cb54a"/>
<path d="M91.37,248.32 L94.23,248.32 L92.80,245.85 Z" fill="#3cb54a"/>
<path d="M107.37,247.57 L110.23,247.57 L108.80,245.10 Z" fill="#3cb54a"/>
<path d="M123.27,248.22 L126.13,248.22 L124.70,245.75 Z" fill="#3cb54a"/>
<path d="M139.37,248.32 L142.23,248.32 L140.80,245.85 Z" fill="#3cb54a"/>
<line x1="157.20" y1="217.50" x2="165.80" y2="217.50" stroke="#3cb54a" stroke-width="1.2"/>
<path d="M159.96,218.62 L163.04,218.62 L161.50,215.96 Z" fill="#3cb54a"/>
<text transform="translate(169.00,220.20) scale(0.93,1)" font-size="7.3" fill="#231f20" stroke="#231f20" stroke-width="0.13">Parental</text>
<line x1="157.20" y1="227.50" x2="165.80" y2="227.50" stroke="#1c5b98" stroke-width="1.2"/>
<path d="M159.82,227.50 L161.50,225.82 L163.18,227.50 L161.50,229.18 Z" fill="#1c5b98"/>
<text transform="translate(169.00,230.20) scale(0.93,1)" font-size="7.3" fill="#231f20" stroke="#231f20" stroke-width="0.13">wtLCP1</text>
<line x1="157.20" y1="237.70" x2="165.80" y2="237.70" stroke="#cf1d3c" stroke-width="1.2"/>
<rect x="160.10" y="236.30" width="2.80" height="2.80" fill="#cf1d3c"/>
<text transform="translate(169.00,240.40) scale(0.93,1)" font-size="7.3" fill="#231f20" stroke="#231f20" stroke-width="0.13">I232F</text>
<text transform="translate(262.70,109.70) scale(0.9,1)" font-size="11.6" fill="#000" font-weight="bold" stroke="#000" stroke-width="0.45">C</text>
<text transform="translate(313.10,110.20)" font-size="8.5" fill="#231f20" stroke="#231f20" stroke-width="0.13" text-anchor="middle">Day 0</text>
<text transform="translate(374.10,110.20)" font-size="8.5" fill="#231f20" stroke="#231f20" stroke-width="0.13" text-anchor="middle">Day 8</text>
<g filter="url(#soft)">
<path d="M310.8 163.6h.7v.7h-.7zM305.5 166.0h.7v.7h-.7zM306.8 160.9h.7v.7h-.7zM317.7 155.6h.7v.7h-.7zM309.3 162.7h.7v.7h-.7zM313.7 157.4h.7v.7h-.7zM309.7 156.6h.7v.7h-.7zM306.0 160.8h.7v.7h-.7zM299.7 161.0h.7v.7h-.7zM300.3 165.0h.7v.7h-.7zM307.1 160.5h.7v.7h-.7zM306.6 157.3h.7v.7h-.7zM308.4 161.6h.7v.7h-.7zM310.6 156.5h.7v.7h-.7zM303.4 157.0h.7v.7h-.7zM302.6 156.8h.7v.7h-.7zM303.4 167.8h.7v.7h-.7zM299.2 169.3h.7v.7h-.7zM309.5 159.0h.7v.7h-.7zM311.4 160.8h.7v.7h-.7zM313.0 157.1h.7v.7h-.7zM304.6 161.0h.7v.7h-.7zM303.6 163.6h.7v.7h-.7zM306.3 165.8h.7v.7h-.7zM297.8 163.6h.7v.7h-.7zM300.6 158.4h.7v.7h-.7zM313.7 149.2h.7v.7h-.7zM306.2 160.3h.7v.7h-.7zM313.2 150.9h.7v.7h-.7zM312.4 155.8h.7v.7h-.7zM306.6 159.6h.7v.7h-.7zM309.7 156.1h.7v.7h-.7zM308.6 161.9h.7v.7h-.7zM313.4 149.3h.7v.7h-.7zM317.1 158.6h.7v.7h-.7zM306.6 163.0h.7v.7h-.7zM308.8 166.3h.7v.7h-.7zM309.1 159.6h.7v.7h-.7zM307.0 161.0h.7v.7h-.7zM306.2 159.1h.7v.7h-.7zM315.2 149.9h.7v.7h-.7zM291.1 171.2h.7v.7h-.7zM308.3 162.2h.7v.7h-.7zM307.2 161.0h.7v.7h-.7zM311.5 162.2h.7v.7h-.7zM305.7 161.2h.7v.7h-.7zM318.4 156.4h.7v.7h-.7zM307.3 169.5h.7v.7h-.7zM311.2 157.0h.7v.7h-.7zM303.3 165.0h.7v.7h-.7zM302.8 160.6h.7v.7h-.7zM301.5 163.4h.7v.7h-.7zM313.0 156.4h.7v.7h-.7zM302.6 166.8h.7v.7h-.7zM310.0 162.7h.7v.7h-.7zM313.8 156.8h.7v.7h-.7zM307.6 161.1h.7v.7h-.7zM304.1 165.8h.7v.7h-.7zM315.2 157.2h.7v.7h-.7zM306.9 160.9h.7v.7h-.7zM303.4 161.1h.7v.7h-.7zM305.2 159.9h.7v.7h-.7zM303.9 158.2h.7v.7h-.7zM310.1 159.9h.7v.7h-.7zM299.3 158.5h.7v.7h-.7zM310.1 163.6h.7v.7h-.7zM304.2 161.8h.7v.7h-.7zM306.7 164.1h.7v.7h-.7zM305.6 166.0h.7v.7h-.7zM308.4 164.0h.7v.7h-.7zM308.2 160.1h.7v.7h-.7zM300.3 163.5h.7v.7h-.7zM308.2 163.2h.7v.7h-.7zM308.5 158.3h.7v.7h-.7zM311.9 162.0h.7v.7h-.7zM307.0 160.1h.7v.7h-.7zM307.8 164.0h.7v.7h-.7zM309.5 156.9h.7v.7h-.7zM309.4 158.5h.7v.7h-.7zM306.8 166.1h.7v.7h-.7zM311.2 156.6h.7v.7h-.7zM309.6 161.8h.7v.7h-.7zM305.2 162.4h.7v.7h-.7zM308.8 154.4h.7v.7h-.7zM311.1 161.7h.7v.7h-.7zM308.7 156.0h.7v.7h-.7zM308.6 157.7h.7v.7h-.7zM312.0 160.6h.7v.7h-.7zM308.2 158.2h.7v.7h-.7zM306.9 164.7h.7v.7h-.7zM304.9 164.7h.7v.7h-.7zM310.4 158.6h.7v.7h-.7zM319.9 153.9h.7v.7h-.7zM315.5 149.4h.7v.7h-.7zM299.3 169.9h.7v.7h-.7zM310.9 158.1h.7v.7h-.7zM305.2 156.2h.7v.7h-.7zM303.8 160.1h.7v.7h-.7zM308.7 163.7h.7v.7h-.7zM309.2 161.6h.7v.7h-.7zM304.4 161.8h.7v.7h-.7zM308.5 159.8h.7v.7h-.7zM313.0 154.9h.7v.7h-.7zM315.9 152.7h.7v.7h-.7zM312.2 155.7h.7v.7h-.7zM316.4 156.2h.7v.7h-.7zM311.5 161.5h.7v.7h-.7zM303.8 160.1h.7v.7h-.7zM300.7 169.9h.7v.7h-.7zM304.2 161.4h.7v.7h-.7zM311.4 165.9h.7v.7h-.7zM300.6 166.6h.7v.7h-.7zM307.3 163.3h.7v.7h-.7zM299.2 165.1h.7v.7h-.7zM314.8 162.2h.7v.7h-.7zM314.7 153.9h.7v.7h-.7zM308.5 160.4h.7v.7h-.7zM299.6 161.3h.7v.7h-.7zM312.4 159.2h.7v.7h-.7zM309.6 164.3h.7v.7h-.7zM304.5 165.1h.7v.7h-.7zM308.4 160.6h.7v.7h-.7zM311.0 159.8h.7v.7h-.7zM310.1 160.7h.7v.7h-.7zM317.1 154.3h.7v.7h-.7zM314.2 159.3h.7v.7h-.7zM308.0 163.8h.7v.7h-.7zM306.1 166.2h.7v.7h-.7zM303.8 162.0h.7v.7h-.7zM311.2 161.9h.7v.7h-.7zM314.1 160.3h.7v.7h-.7zM305.9 159.0h.7v.7h-.7zM311.5 159.9h.7v.7h-.7zM305.4 166.1h.7v.7h-.7zM307.9 157.8h.7v.7h-.7zM308.4 156.2h.7v.7h-.7zM304.9 164.4h.7v.7h-.7zM301.1 165.5h.7v.7h-.7zM303.1 166.6h.7v.7h-.7zM305.2 163.4h.7v.7h-.7zM300.7 164.4h.7v.7h-.7zM313.6 159.1h.7v.7h-.7zM301.1 168.6h.7v.7h-.7zM312.1 157.2h.7v.7h-.7zM313.5 154.0h.7v.7h-.7zM309.7 163.8h.7v.7h-.7zM316.6 160.1h.7v.7h-.7zM300.4 159.6h.7v.7h-.7zM308.0 156.1h.7v.7h-.7zM305.8 158.0h.7v.7h-.7zM314.7 159.7h.7v.7h-.7zM311.1 159.2h.7v.7h-.7zM308.2 159.9h.7v.7h-.7zM310.6 160.3h.7v.7h-.7zM309.9 158.4h.7v.7h-.7zM317.9 155.9h.7v.7h-.7zM317.1 160.0h.7v.7h-.7zM301.6 159.2h.7v.7h-.7zM313.8 156.1h.7v.7h-.7zM308.4 159.9h.7v.7h-.7zM307.2 157.4h.7v.7h-.7zM307.2 159.9h.7v.7h-.7zM304.7 155.0h.7v.7h-.7zM312.8 159.2h.7v.7h-.7zM299.1 164.1h.7v.7h-.7zM309.5 162.3h.7v.7h-.7zM310.6 164.2h.7v.7h-.7zM306.9 158.2h.7v.7h-.7zM306.3 164.7h.7v.7h-.7zM306.8 164.7h.7v.7h-.7zM314.2 159.2h.7v.7h-.7zM313.0 157.3h.7v.7h-.7zM307.4 159.4h.7v.7h-.7zM303.1 158.7h.7v.7h-.7zM304.1 159.8h.7v.7h-.7zM301.8 165.4h.7v.7h-.7zM310.0 158.6h.7v.7h-.7zM316.4 159.1h.7v.7h-.7zM312.4 156.2h.7v.7h-.7zM302.2 166.6h.7v.7h-.7zM311.0 161.7h.7v.7h-.7zM312.3 162.7h.7v.7h-.7zM308.1 163.3h.7v.7h-.7zM300.6 157.7h.7v.7h-.7zM308.6 165.9h.7v.7h-.7zM302.0 168.3h.7v.7h-.7zM304.5 161.8h.7v.7h-.7zM308.9 161.2h.7v.7h-.7zM304.0 164.0h.7v.7h-.7zM311.8 161.6h.7v.7h-.7zM307.2 166.9h.7v.7h-.7zM321.2 161.2h.7v.7h-.7zM302.3 165.2h.7v.7h-.7zM300.2 167.3h.7v.7h-.7zM309.2 156.3h.7v.7h-.7zM301.2 166.0h.7v.7h-.7zM310.1 157.0h.7v.7h-.7zM303.2 155.3h.7v.7h-.7zM305.3 163.3h.7v.7h-.7zM311.6 164.3h.7v.7h-.7zM299.5 158.6h.7v.7h-.7zM309.6 158.0h.7v.7h-.7zM310.9 161.7h.7v.7h-.7zM313.5 162.6h.7v.7h-.7zM312.2 152.6h.7v.7h-.7zM311.2 166.0h.7v.7h-.7zM308.0 164.4h.7v.7h-.7zM307.5 159.9h.7v.7h-.7zM317.5 158.7h.7v.7h-.7zM308.7 163.8h.7v.7h-.7zM301.0 162.9h.7v.7h-.7zM312.7 158.2h.7v.7h-.7zM304.1 165.1h.7v.7h-.7zM312.0 163.0h.7v.7h-.7zM312.5 157.3h.7v.7h-.7zM305.9 161.9h.7v.7h-.7zM309.6 165.1h.7v.7h-.7zM318.1 159.5h.7v.7h-.7zM309.8 159.1h.7v.7h-.7zM312.1 157.2h.7v.7h-.7zM306.9 155.9h.7v.7h-.7zM308.6 165.6h.7v.7h-.7zM301.2 160.1h.7v.7h-.7zM310.2 165.4h.7v.7h-.7zM314.7 155.6h.7v.7h-.7zM306.0 161.9h.7v.7h-.7zM304.0 163.7h.7v.7h-.7zM304.7 158.0h.7v.7h-.7zM305.2 161.9h.7v.7h-.7zM302.6 160.6h.7v.7h-.7zM315.7 162.8h.7v.7h-.7zM306.4 160.6h.7v.7h-.7zM310.4 158.7h.7v.7h-.7zM306.9 166.6h.7v.7h-.7zM302.3 162.1h.7v.7h-.7zM303.9 160.6h.7v.7h-.7zM308.2 162.9h.7v.7h-.7zM316.3 158.2h.7v.7h-.7zM306.6 157.6h.7v.7h-.7zM306.6 158.6h.7v.7h-.7zM309.5 163.5h.7v.7h-.7zM309.0 159.7h.7v.7h-.7zM304.8 163.0h.7v.7h-.7zM307.5 158.2h.7v.7h-.7zM307.4 164.5h.7v.7h-.7zM299.8 164.6h.7v.7h-.7zM305.3 168.1h.7v.7h-.7zM312.1 160.3h.7v.7h-.7zM310.7 160.3h.7v.7h-.7zM307.3 156.0h.7v.7h-.7zM310.5 161.5h.7v.7h-.7zM302.9 167.1h.7v.7h-.7zM309.2 155.0h.7v.7h-.7zM305.7 161.4h.7v.7h-.7zM306.5 163.3h.7v.7h-.7zM302.0 164.0h.7v.7h-.7zM310.6 161.9h.7v.7h-.7zM308.3 160.1h.7v.7h-.7zM308.6 153.8h.7v.7h-.7zM312.4 157.3h.7v.7h-.7zM301.8 163.4h.7v.7h-.7zM296.5 161.1h.7v.7h-.7zM305.6 159.8h.7v.7h-.7zM310.5 156.4h.7v.7h-.7zM300.8 162.3h.7v.7h-.7zM316.6 155.8h.7v.7h-.7zM304.0 160.1h.7v.7h-.7zM302.9 163.7h.7v.7h-.7zM312.2 162.4h.7v.7h-.7zM314.3 158.1h.7v.7h-.7zM303.9 160.6h.7v.7h-.7zM295.8 165.1h.7v.7h-.7zM309.9 158.7h.7v.7h-.7zM308.0 156.3h.7v.7h-.7zM313.1 158.9h.7v.7h-.7zM309.2 161.7h.7v.7h-.7zM296.9 166.0h.7v.7h-.7zM307.0 168.0h.7v.7h-.7zM306.7 160.1h.7v.7h-.7zM310.8 155.6h.7v.7h-.7zM314.1 154.8h.7v.7h-.7zM306.7 158.7h.7v.7h-.7zM308.9 153.0h.7v.7h-.7zM310.4 156.7h.7v.7h-.7zM306.8 157.8h.7v.7h-.7zM309.8 160.6h.7v.7h-.7zM311.7 159.8h.7v.7h-.7zM312.9 161.4h.7v.7h-.7zM304.7 159.0h.7v.7h-.7zM303.4 166.3h.7v.7h-.7zM308.3 164.5h.7v.7h-.7zM307.0 158.1h.7v.7h-.7zM315.7 163.0h.7v.7h-.7zM306.1 159.0h.7v.7h-.7zM305.8 165.5h.7v.7h-.7zM305.0 161.5h.7v.7h-.7zM311.7 158.8h.7v.7h-.7zM308.1 159.1h.7v.7h-.7zM305.6 163.1h.7v.7h-.7zM310.1 161.8h.7v.7h-.7zM306.6 163.1h.7v.7h-.7zM310.8 159.6h.7v.7h-.7zM312.7 161.6h.7v.7h-.7zM309.5 160.4h.7v.7h-.7zM304.3 164.5h.7v.7h-.7zM307.5 160.3h.7v.7h-.7zM305.4 164.7h.7v.7h-.7zM321.2 154.3h.7v.7h-.7zM309.5 161.6h.7v.7h-.7zM305.7 162.8h.7v.7h-.7zM304.3 161.2h.7v.7h-.7zM309.9 160.7h.7v.7h-.7zM306.6 159.2h.7v.7h-.7zM308.0 157.3h.7v.7h-.7zM311.5 157.6h.7v.7h-.7zM309.6 162.8h.7v.7h-.7zM309.0 155.9h.7v.7h-.7zM307.8 162.5h.7v.7h-.7zM299.5 158.0h.7v.7h-.7zM308.0 160.9h.7v.7h-.7z" fill="#3a50e6" opacity="0.6"/>
<path d="M302.5 164.8h.7v.7h-.7zM305.9 163.5h.7v.7h-.7zM293.7 172.2h.7v.7h-.7zM300.4 164.1h.7v.7h-.7zM294.9 168.4h.7v.7h-.7zM295.0 159.8h.7v.7h-.7zM304.0 163.1h.7v.7h-.7zM304.6 168.9h.7v.7h-.7zM302.3 164.0h.7v.7h-.7zM305.1 171.2h.7v.7h-.7zM300.4 168.7h.7v.7h-.7zM301.6 170.9h.7v.7h-.7zM300.5 164.5h.7v.7h-.7zM302.4 157.3h.7v.7h-.7zM297.9 162.5h.7v.7h-.7zM297.3 165.8h.7v.7h-.7zM301.1 167.0h.7v.7h-.7zM302.3 159.6h.7v.7h-.7zM307.2 164.3h.7v.7h-.7zM301.5 159.2h.7v.7h-.7zM302.3 160.3h.7v.7h-.7zM300.9 165.7h.7v.7h-.7zM305.7 161.5h.7v.7h-.7zM290.6 173.5h.7v.7h-.7zM303.9 161.8h.7v.7h-.7zM309.0 169.0h.7v.7h-.7zM290.4 164.9h.7v.7h-.7zM297.4 164.2h.7v.7h-.7zM291.6 167.0h.7v.7h-.7zM303.5 167.6h.7v.7h-.7zM298.3 169.0h.7v.7h-.7zM301.8 164.3h.7v.7h-.7zM301.8 164.0h.7v.7h-.7zM295.2 172.2h.7v.7h-.7zM307.1 163.0h.7v.7h-.7zM300.7 170.9h.7v.7h-.7zM305.2 162.4h.7v.7h-.7zM308.6 172.3h.7v.7h-.7zM306.8 167.4h.7v.7h-.7zM292.9 174.3h.7v.7h-.7zM290.3 167.3h.7v.7h-.7zM300.0 165.4h.7v.7h-.7zM305.6 164.2h.7v.7h-.7zM303.6 161.9h.7v.7h-.7zM281.3 179.5h.7v.7h-.7zM304.0 172.5h.7v.7h-.7zM298.1 169.8h.7v.7h-.7zM307.2 169.8h.7v.7h-.7zM293.9 165.6h.7v.7h-.7zM301.2 156.3h.7v.7h-.7zM301.1 170.4h.7v.7h-.7zM302.4 165.3h.7v.7h-.7zM297.4 162.5h.7v.7h-.7zM302.7 161.6h.7v.7h-.7zM295.1 167.9h.7v.7h-.7zM305.3 160.9h.7v.7h-.7zM301.9 169.1h.7v.7h-.7zM296.2 170.9h.7v.7h-.7zM303.6 159.1h.7v.7h-.7zM296.2 163.5h.7v.7h-.7zM306.4 166.1h.7v.7h-.7zM297.5 167.5h.7v.7h-.7zM303.2 164.8h.7v.7h-.7zM306.7 164.5h.7v.7h-.7zM290.5 169.0h.7v.7h-.7zM281.4 168.4h.7v.7h-.7z" fill="#5a70f0" opacity="0.5"/>
<g transform="translate(308.4,160.8) rotate(-32)">
<ellipse rx="10.4" ry="5.7" fill="#4a62ee" opacity="0.4"/>
<ellipse rx="8.0" ry="4.2" fill="url(#flowg)"/>
</g>
<path d="M365.7 160.1h.7v.7h-.7zM371.5 162.9h.7v.7h-.7zM387.6 154.6h.7v.7h-.7zM382.9 157.8h.7v.7h-.7zM376.8 157.6h.7v.7h-.7zM389.6 156.4h.7v.7h-.7zM377.3 170.7h.7v.7h-.7zM379.0 162.5h.7v.7h-.7zM375.4 158.9h.7v.7h-.7zM369.4 164.0h.7v.7h-.7zM386.7 159.4h.7v.7h-.7zM377.9 165.6h.7v.7h-.7zM374.3 168.3h.7v.7h-.7zM376.1 158.7h.7v.7h-.7zM381.8 161.8h.7v.7h-.7zM375.8 163.0h.7v.7h-.7zM384.7 164.2h.7v.7h-.7zM369.1 154.2h.7v.7h-.7zM388.1 156.1h.7v.7h-.7zM375.8 163.9h.7v.7h-.7zM376.6 166.0h.7v.7h-.7zM370.4 163.5h.7v.7h-.7zM372.8 169.5h.7v.7h-.7zM377.6 165.9h.7v.7h-.7zM383.2 154.3h.7v.7h-.7zM377.2 164.5h.7v.7h-.7zM377.5 160.9h.7v.7h-.7zM383.2 162.8h.7v.7h-.7zM374.0 162.3h.7v.7h-.7zM381.2 160.8h.7v.7h-.7zM376.6 157.3h.7v.7h-.7zM386.6 156.9h.7v.7h-.7zM378.8 160.8h.7v.7h-.7zM378.0 161.9h.7v.7h-.7zM373.4 164.6h.7v.7h-.7zM384.5 160.3h.7v.7h-.7zM382.0 161.6h.7v.7h-.7zM380.1 167.7h.7v.7h-.7zM374.3 164.3h.7v.7h-.7zM383.4 160.3h.7v.7h-.7zM370.2 160.0h.7v.7h-.7zM384.5 154.8h.7v.7h-.7zM378.2 163.4h.7v.7h-.7zM375.4 155.1h.7v.7h-.7zM367.0 165.3h.7v.7h-.7zM372.8 162.3h.7v.7h-.7zM378.1 161.9h.7v.7h-.7zM367.8 158.6h.7v.7h-.7zM381.6 157.3h.7v.7h-.7zM368.3 157.1h.7v.7h-.7zM378.5 155.9h.7v.7h-.7zM372.6 166.0h.7v.7h-.7zM379.8 162.8h.7v.7h-.7zM366.5 154.3h.7v.7h-.7zM371.6 162.6h.7v.7h-.7zM375.1 166.0h.7v.7h-.7zM377.9 157.1h.7v.7h-.7zM380.3 159.7h.7v.7h-.7zM376.4 166.5h.7v.7h-.7zM369.8 168.8h.7v.7h-.7zM380.4 151.9h.7v.7h-.7zM376.1 161.4h.7v.7h-.7zM370.4 162.0h.7v.7h-.7zM373.1 163.5h.7v.7h-.7zM371.4 155.3h.7v.7h-.7zM385.1 162.0h.7v.7h-.7zM374.1 166.4h.7v.7h-.7zM386.2 151.6h.7v.7h-.7zM374.4 160.6h.7v.7h-.7zM380.0 159.2h.7v.7h-.7zM371.6 169.0h.7v.7h-.7zM376.7 164.8h.7v.7h-.7zM388.8 153.9h.7v.7h-.7zM376.5 165.6h.7v.7h-.7zM377.6 163.6h.7v.7h-.7zM381.3 171.3h.7v.7h-.7zM381.3 161.3h.7v.7h-.7zM378.6 162.6h.7v.7h-.7zM368.2 164.1h.7v.7h-.7zM379.8 155.7h.7v.7h-.7zM377.5 161.1h.7v.7h-.7zM378.1 171.4h.7v.7h-.7zM381.8 161.1h.7v.7h-.7zM373.2 163.5h.7v.7h-.7zM375.7 161.8h.7v.7h-.7zM382.2 169.8h.7v.7h-.7zM387.1 164.5h.7v.7h-.7zM388.9 168.4h.7v.7h-.7zM372.0 158.4h.7v.7h-.7zM378.9 162.0h.7v.7h-.7zM376.7 159.2h.7v.7h-.7zM383.6 166.0h.7v.7h-.7zM378.3 160.2h.7v.7h-.7zM383.5 157.8h.7v.7h-.7zM375.9 163.4h.7v.7h-.7zM367.6 173.1h.7v.7h-.7zM377.6 163.5h.7v.7h-.7zM379.7 162.2h.7v.7h-.7zM372.7 170.7h.7v.7h-.7zM381.0 161.3h.7v.7h-.7zM392.8 150.1h.7v.7h-.7zM381.3 159.5h.7v.7h-.7zM372.0 171.6h.7v.7h-.7zM369.1 165.4h.7v.7h-.7zM377.2 162.3h.7v.7h-.7zM374.2 168.4h.7v.7h-.7zM377.0 156.5h.7v.7h-.7zM371.2 165.1h.7v.7h-.7zM371.7 165.6h.7v.7h-.7zM378.4 158.7h.7v.7h-.7zM365.1 161.2h.7v.7h-.7zM378.7 158.9h.7v.7h-.7zM386.9 155.9h.7v.7h-.7zM380.5 163.0h.7v.7h-.7zM378.4 162.4h.7v.7h-.7zM382.7 158.8h.7v.7h-.7zM378.8 159.5h.7v.7h-.7zM388.6 157.7h.7v.7h-.7zM377.8 149.2h.7v.7h-.7zM373.2 158.6h.7v.7h-.7zM377.0 159.9h.7v.7h-.7zM371.3 162.9h.7v.7h-.7zM383.4 163.5h.7v.7h-.7zM376.0 166.4h.7v.7h-.7zM374.9 165.0h.7v.7h-.7zM374.2 167.1h.7v.7h-.7zM389.7 155.4h.7v.7h-.7zM382.1 153.7h.7v.7h-.7zM377.8 172.2h.7v.7h-.7zM377.8 163.4h.7v.7h-.7zM368.5 165.0h.7v.7h-.7zM374.9 167.5h.7v.7h-.7zM378.1 171.6h.7v.7h-.7zM371.9 165.1h.7v.7h-.7zM365.9 164.5h.7v.7h-.7zM383.9 158.4h.7v.7h-.7zM371.0 166.1h.7v.7h-.7zM383.2 161.0h.7v.7h-.7zM380.8 154.3h.7v.7h-.7zM388.4 160.0h.7v.7h-.7zM368.6 172.7h.7v.7h-.7zM375.6 164.3h.7v.7h-.7zM365.7 163.7h.7v.7h-.7zM368.6 168.5h.7v.7h-.7zM374.9 158.8h.7v.7h-.7zM377.0 166.3h.7v.7h-.7zM374.0 165.2h.7v.7h-.7zM368.6 158.3h.7v.7h-.7zM374.4 161.6h.7v.7h-.7zM379.7 164.4h.7v.7h-.7zM374.6 161.1h.7v.7h-.7zM382.2 161.3h.7v.7h-.7zM377.5 162.5h.7v.7h-.7zM364.7 164.4h.7v.7h-.7zM368.2 163.8h.7v.7h-.7zM379.9 153.6h.7v.7h-.7zM381.6 157.5h.7v.7h-.7zM375.6 160.3h.7v.7h-.7zM380.3 157.6h.7v.7h-.7zM366.5 167.2h.7v.7h-.7zM377.5 164.0h.7v.7h-.7zM379.0 155.9h.7v.7h-.7zM378.7 161.5h.7v.7h-.7zM377.1 162.0h.7v.7h-.7zM378.3 158.9h.7v.7h-.7zM378.0 165.3h.7v.7h-.7zM371.5 163.6h.7v.7h-.7zM370.4 160.0h.7v.7h-.7zM375.4 163.0h.7v.7h-.7zM385.4 157.4h.7v.7h-.7zM383.3 161.3h.7v.7h-.7zM373.4 150.5h.7v.7h-.7zM378.2 161.4h.7v.7h-.7zM371.9 164.2h.7v.7h-.7zM383.8 154.2h.7v.7h-.7zM375.9 165.8h.7v.7h-.7zM366.1 161.8h.7v.7h-.7zM380.4 164.2h.7v.7h-.7zM385.1 161.5h.7v.7h-.7zM390.5 157.8h.7v.7h-.7zM370.1 163.7h.7v.7h-.7zM381.3 161.4h.7v.7h-.7zM367.4 167.1h.7v.7h-.7zM372.8 162.6h.7v.7h-.7zM385.1 157.7h.7v.7h-.7zM373.6 162.5h.7v.7h-.7zM376.8 170.1h.7v.7h-.7zM383.2 162.9h.7v.7h-.7zM372.8 160.8h.7v.7h-.7zM375.7 153.3h.7v.7h-.7zM381.2 154.8h.7v.7h-.7zM378.4 162.5h.7v.7h-.7zM373.6 164.5h.7v.7h-.7zM383.9 166.6h.7v.7h-.7zM382.1 167.0h.7v.7h-.7zM379.7 159.8h.7v.7h-.7zM381.4 157.8h.7v.7h-.7zM379.1 163.4h.7v.7h-.7zM384.0 160.0h.7v.7h-.7zM371.3 169.3h.7v.7h-.7zM377.9 160.1h.7v.7h-.7zM373.8 165.3h.7v.7h-.7zM380.2 163.2h.7v.7h-.7zM378.9 167.2h.7v.7h-.7zM376.6 163.5h.7v.7h-.7zM380.0 164.8h.7v.7h-.7zM373.2 162.0h.7v.7h-.7zM375.3 159.7h.7v.7h-.7zM372.1 158.7h.7v.7h-.7zM383.6 165.1h.7v.7h-.7zM373.1 166.4h.7v.7h-.7zM370.0 161.2h.7v.7h-.7zM375.8 162.6h.7v.7h-.7zM377.1 153.7h.7v.7h-.7zM370.4 164.7h.7v.7h-.7zM379.1 169.5h.7v.7h-.7zM375.0 159.8h.7v.7h-.7zM380.2 149.5h.7v.7h-.7zM371.1 175.1h.7v.7h-.7zM374.1 163.1h.7v.7h-.7zM375.1 158.8h.7v.7h-.7zM374.7 157.2h.7v.7h-.7zM383.7 162.1h.7v.7h-.7zM379.8 156.8h.7v.7h-.7zM366.2 164.1h.7v.7h-.7zM371.9 165.3h.7v.7h-.7zM367.3 161.8h.7v.7h-.7zM378.7 162.7h.7v.7h-.7zM376.1 156.9h.7v.7h-.7zM376.5 170.0h.7v.7h-.7zM381.3 156.5h.7v.7h-.7zM387.5 156.8h.7v.7h-.7zM376.2 158.6h.7v.7h-.7zM385.7 158.5h.7v.7h-.7zM375.6 158.4h.7v.7h-.7zM370.7 164.9h.7v.7h-.7zM379.6 166.9h.7v.7h-.7zM371.9 162.2h.7v.7h-.7zM383.9 162.2h.7v.7h-.7zM375.7 168.1h.7v.7h-.7zM381.2 163.6h.7v.7h-.7zM380.6 164.1h.7v.7h-.7zM374.8 161.7h.7v.7h-.7zM383.8 160.5h.7v.7h-.7zM380.9 164.7h.7v.7h-.7zM379.2 162.4h.7v.7h-.7zM364.6 164.5h.7v.7h-.7zM380.6 156.6h.7v.7h-.7zM376.1 162.9h.7v.7h-.7zM377.8 164.8h.7v.7h-.7zM379.7 159.8h.7v.7h-.7zM382.8 157.8h.7v.7h-.7zM374.0 164.2h.7v.7h-.7zM380.6 159.6h.7v.7h-.7zM370.8 162.1h.7v.7h-.7zM379.6 163.4h.7v.7h-.7zM386.8 157.1h.7v.7h-.7zM373.1 154.5h.7v.7h-.7zM385.6 161.9h.7v.7h-.7zM376.4 159.0h.7v.7h-.7zM364.2 169.8h.7v.7h-.7zM375.2 168.5h.7v.7h-.7zM383.3 164.3h.7v.7h-.7zM378.3 166.0h.7v.7h-.7zM371.8 169.7h.7v.7h-.7zM375.5 157.4h.7v.7h-.7zM373.8 159.0h.7v.7h-.7zM377.8 158.4h.7v.7h-.7zM369.9 163.0h.7v.7h-.7zM376.4 162.7h.7v.7h-.7zM382.9 164.4h.7v.7h-.7zM381.9 166.3h.7v.7h-.7zM363.8 166.7h.7v.7h-.7zM380.6 154.8h.7v.7h-.7zM376.6 162.7h.7v.7h-.7zM368.1 162.9h.7v.7h-.7zM380.2 159.1h.7v.7h-.7zM389.1 166.4h.7v.7h-.7zM375.4 157.6h.7v.7h-.7zM376.4 159.6h.7v.7h-.7zM369.0 163.2h.7v.7h-.7zM374.3 161.3h.7v.7h-.7zM383.9 163.2h.7v.7h-.7zM379.1 159.3h.7v.7h-.7zM379.7 160.7h.7v.7h-.7zM377.2 157.6h.7v.7h-.7zM361.9 171.4h.7v.7h-.7zM373.4 161.1h.7v.7h-.7zM377.2 161.3h.7v.7h-.7zM377.9 167.5h.7v.7h-.7zM378.4 162.0h.7v.7h-.7zM372.4 163.1h.7v.7h-.7zM379.8 160.2h.7v.7h-.7zM377.8 157.5h.7v.7h-.7zM378.0 157.1h.7v.7h-.7zM373.9 159.8h.7v.7h-.7zM379.9 164.9h.7v.7h-.7zM377.7 157.8h.7v.7h-.7zM379.6 164.8h.7v.7h-.7zM382.0 161.6h.7v.7h-.7zM370.5 162.0h.7v.7h-.7zM373.0 161.3h.7v.7h-.7zM378.7 161.1h.7v.7h-.7zM376.3 164.2h.7v.7h-.7zM373.0 161.9h.7v.7h-.7zM376.0 156.5h.7v.7h-.7zM370.8 158.5h.7v.7h-.7zM371.5 163.3h.7v.7h-.7zM377.2 163.0h.7v.7h-.7zM377.6 156.8h.7v.7h-.7zM389.4 162.1h.7v.7h-.7zM369.8 161.8h.7v.7h-.7zM375.1 163.2h.7v.7h-.7zM380.7 160.2h.7v.7h-.7zM367.5 177.1h.7v.7h-.7zM383.2 162.5h.7v.7h-.7zM373.5 163.5h.7v.7h-.7zM381.7 157.8h.7v.7h-.7zM383.7 159.3h.7v.7h-.7zM386.0 158.2h.7v.7h-.7z" fill="#3a50e6" opacity="0.6"/>
<path d="M355.4 162.0h.7v.7h-.7zM359.6 171.0h.7v.7h-.7zM373.0 168.8h.7v.7h-.7zM373.9 167.2h.7v.7h-.7zM366.4 171.4h.7v.7h-.7zM352.4 178.7h.7v.7h-.7zM347.8 177.1h.7v.7h-.7zM374.5 164.7h.7v.7h-.7zM372.8 156.9h.7v.7h-.7zM371.7 157.6h.7v.7h-.7zM371.7 162.2h.7v.7h-.7zM367.2 160.1h.7v.7h-.7zM374.2 162.6h.7v.7h-.7zM360.7 171.5h.7v.7h-.7zM363.8 164.6h.7v.7h-.7zM369.6 158.1h.7v.7h-.7zM366.7 169.5h.7v.7h-.7zM373.0 162.5h.7v.7h-.7zM371.8 171.8h.7v.7h-.7zM376.9 167.6h.7v.7h-.7zM376.8 166.7h.7v.7h-.7zM361.8 160.8h.7v.7h-.7zM362.2 166.1h.7v.7h-.7zM374.0 167.4h.7v.7h-.7zM368.0 166.7h.7v.7h-.7zM360.4 164.7h.7v.7h-.7zM376.3 165.3h.7v.7h-.7zM370.2 166.3h.7v.7h-.7zM366.6 165.8h.7v.7h-.7zM362.8 162.9h.7v.7h-.7zM370.5 169.0h.7v.7h-.7zM357.9 171.5h.7v.7h-.7zM373.7 158.0h.7v.7h-.7zM372.7 159.3h.7v.7h-.7zM375.2 166.1h.7v.7h-.7zM372.7 170.2h.7v.7h-.7zM361.4 161.4h.7v.7h-.7zM361.6 173.3h.7v.7h-.7zM364.5 167.4h.7v.7h-.7zM363.1 167.2h.7v.7h-.7zM373.7 168.0h.7v.7h-.7zM362.0 161.1h.7v.7h-.7zM368.3 163.4h.7v.7h-.7zM357.2 163.7h.7v.7h-.7zM363.1 153.1h.7v.7h-.7zM364.8 173.5h.7v.7h-.7zM370.2 162.8h.7v.7h-.7zM349.6 165.6h.7v.7h-.7zM372.9 173.3h.7v.7h-.7zM364.1 163.8h.7v.7h-.7zM371.6 166.7h.7v.7h-.7zM368.0 160.5h.7v.7h-.7zM372.3 168.8h.7v.7h-.7zM366.9 164.0h.7v.7h-.7zM347.7 175.0h.7v.7h-.7zM372.5 168.2h.7v.7h-.7zM365.9 165.5h.7v.7h-.7zM356.5 175.6h.7v.7h-.7zM376.5 165.6h.7v.7h-.7zM367.2 164.2h.7v.7h-.7zM366.0 163.3h.7v.7h-.7zM374.1 166.3h.7v.7h-.7zM360.5 166.6h.7v.7h-.7zM365.7 170.0h.7v.7h-.7zM372.2 173.1h.7v.7h-.7zM356.4 166.4h.7v.7h-.7zM373.0 161.5h.7v.7h-.7zM376.8 165.3h.7v.7h-.7zM362.2 179.0h.7v.7h-.7zM351.8 165.3h.7v.7h-.7zM369.8 163.6h.7v.7h-.7zM372.3 164.4h.7v.7h-.7zM367.2 163.3h.7v.7h-.7zM373.1 175.5h.7v.7h-.7zM371.4 175.2h.7v.7h-.7zM371.6 171.0h.7v.7h-.7zM358.4 176.1h.7v.7h-.7zM367.9 168.2h.7v.7h-.7zM364.7 160.8h.7v.7h-.7zM376.4 164.6h.7v.7h-.7zM373.0 162.7h.7v.7h-.7zM366.9 162.3h.7v.7h-.7zM371.9 167.8h.7v.7h-.7zM368.9 167.9h.7v.7h-.7zM363.5 165.7h.7v.7h-.7zM372.0 167.4h.7v.7h-.7zM355.6 171.1h.7v.7h-.7zM358.3 172.6h.7v.7h-.7zM369.8 164.9h.7v.7h-.7zM367.8 174.3h.7v.7h-.7zM364.4 167.4h.7v.7h-.7zM352.7 170.5h.7v.7h-.7zM368.9 168.4h.7v.7h-.7zM374.6 163.2h.7v.7h-.7zM362.1 166.0h.7v.7h-.7zM362.8 167.6h.7v.7h-.7zM357.8 170.9h.7v.7h-.7zM367.4 179.2h.7v.7h-.7zM360.3 175.3h.7v.7h-.7zM369.0 173.2h.7v.7h-.7zM376.0 164.2h.7v.7h-.7zM353.1 168.8h.7v.7h-.7zM359.0 160.1h.7v.7h-.7zM371.6 163.6h.7v.7h-.7zM372.1 165.4h.7v.7h-.7zM373.1 157.5h.7v.7h-.7zM371.5 154.5h.7v.7h-.7zM358.0 169.3h.7v.7h-.7zM363.5 162.5h.7v.7h-.7zM355.9 175.5h.7v.7h-.7zM371.8 165.0h.7v.7h-.7zM369.7 160.9h.7v.7h-.7zM373.7 161.9h.7v.7h-.7zM373.8 171.0h.7v.7h-.7zM362.5 169.0h.7v.7h-.7zM367.6 164.1h.7v.7h-.7zM367.3 157.3h.7v.7h-.7zM358.9 162.9h.7v.7h-.7zM374.6 161.8h.7v.7h-.7zM372.5 169.6h.7v.7h-.7zM367.3 164.9h.7v.7h-.7zM369.8 163.1h.7v.7h-.7zM366.7 161.2h.7v.7h-.7zM358.0 168.3h.7v.7h-.7zM365.4 172.7h.7v.7h-.7zM365.0 156.6h.7v.7h-.7zM375.2 166.2h.7v.7h-.7zM366.2 175.7h.7v.7h-.7zM365.5 168.3h.7v.7h-.7zM357.2 168.6h.7v.7h-.7zM372.7 167.7h.7v.7h-.7zM370.4 155.3h.7v.7h-.7zM374.9 164.5h.7v.7h-.7zM357.3 165.9h.7v.7h-.7zM364.6 163.7h.7v.7h-.7zM363.1 165.9h.7v.7h-.7zM375.2 164.7h.7v.7h-.7zM368.1 171.0h.7v.7h-.7zM360.2 178.0h.7v.7h-.7zM366.3 161.3h.7v.7h-.7zM365.0 160.5h.7v.7h-.7zM364.0 162.8h.7v.7h-.7zM361.8 166.9h.7v.7h-.7zM370.8 161.2h.7v.7h-.7zM371.9 159.4h.7v.7h-.7zM372.3 161.9h.7v.7h-.7zM363.1 167.8h.7v.7h-.7zM372.5 160.1h.7v.7h-.7zM376.0 164.8h.7v.7h-.7zM360.5 165.8h.7v.7h-.7zM368.2 165.2h.7v.7h-.7zM370.8 176.7h.7v.7h-.7zM361.7 169.7h.7v.7h-.7zM373.9 170.4h.7v.7h-.7zM366.3 158.8h.7v.7h-.7zM363.0 167.4h.7v.7h-.7zM372.1 163.8h.7v.7h-.7zM371.5 159.5h.7v.7h-.7zM373.6 170.1h.7v.7h-.7zM362.7 164.3h.7v.7h-.7zM364.9 161.7h.7v.7h-.7zM373.7 164.6h.7v.7h-.7zM364.5 165.1h.7v.7h-.7zM364.7 165.5h.7v.7h-.7zM372.3 163.6h.7v.7h-.7zM373.4 165.1h.7v.7h-.7zM364.5 161.2h.7v.7h-.7zM377.1 169.9h.7v.7h-.7zM372.3 162.2h.7v.7h-.7zM374.2 159.0h.7v.7h-.7zM369.1 164.8h.7v.7h-.7zM374.9 166.4h.7v.7h-.7zM359.0 161.6h.7v.7h-.7zM369.2 163.4h.7v.7h-.7zM360.4 171.9h.7v.7h-.7zM352.4 175.8h.7v.7h-.7zM357.3 159.4h.7v.7h-.7zM368.0 158.4h.7v.7h-.7zM366.2 165.4h.7v.7h-.7zM374.4 165.2h.7v.7h-.7zM369.6 173.1h.7v.7h-.7zM361.3 172.9h.7v.7h-.7zM358.8 175.5h.7v.7h-.7zM371.7 155.8h.7v.7h-.7zM373.2 161.9h.7v.7h-.7zM376.2 167.0h.7v.7h-.7zM361.0 171.5h.7v.7h-.7zM359.6 162.8h.7v.7h-.7zM358.1 165.8h.7v.7h-.7zM368.6 169.9h.7v.7h-.7zM372.0 154.1h.7v.7h-.7zM369.3 168.4h.7v.7h-.7zM368.4 162.7h.7v.7h-.7zM375.4 162.3h.7v.7h-.7zM365.9 161.3h.7v.7h-.7zM372.6 169.8h.7v.7h-.7zM346.8 176.0h.7v.7h-.7zM362.3 163.0h.7v.7h-.7zM356.1 162.3h.7v.7h-.7zM367.4 174.0h.7v.7h-.7zM352.8 157.5h.7v.7h-.7zM373.0 158.0h.7v.7h-.7zM373.5 170.4h.7v.7h-.7zM373.7 171.5h.7v.7h-.7zM354.5 166.3h.7v.7h-.7zM370.6 167.7h.7v.7h-.7zM359.8 164.2h.7v.7h-.7zM366.4 170.6h.7v.7h-.7zM361.2 171.0h.7v.7h-.7zM365.9 165.7h.7v.7h-.7zM350.9 170.8h.7v.7h-.7zM373.6 158.8h.7v.7h-.7zM371.8 171.7h.7v.7h-.7zM365.7 159.4h.7v.7h-.7zM374.1 171.0h.7v.7h-.7zM364.1 166.1h.7v.7h-.7zM363.7 164.0h.7v.7h-.7zM361.5 160.9h.7v.7h-.7zM369.8 164.3h.7v.7h-.7zM348.2 167.8h.7v.7h-.7z" fill="#5a70f0" opacity="0.5"/>
<path d="M374.6 143.2h.7v.7h-.7zM376.8 154.9h.7v.7h-.7zM377.3 140.0h.7v.7h-.7zM374.5 151.8h.7v.7h-.7zM375.5 152.9h.7v.7h-.7zM374.5 155.9h.7v.7h-.7zM380.5 147.7h.7v.7h-.7zM372.3 153.8h.7v.7h-.7zM374.1 147.0h.7v.7h-.7zM379.0 135.7h.7v.7h-.7zM376.8 135.6h.7v.7h-.7zM380.4 145.5h.7v.7h-.7zM379.6 156.2h.7v.7h-.7zM375.5 157.2h.7v.7h-.7zM371.8 144.7h.7v.7h-.7zM374.9 149.5h.7v.7h-.7zM377.3 146.3h.7v.7h-.7zM378.4 149.6h.7v.7h-.7zM382.3 141.2h.7v.7h-.7zM378.1 153.2h.7v.7h-.7zM376.6 151.1h.7v.7h-.7zM371.6 150.5h.7v.7h-.7zM374.4 151.1h.7v.7h-.7zM376.6 133.2h.7v.7h-.7zM373.3 148.8h.7v.7h-.7zM375.3 145.6h.7v.7h-.7zM383.1 155.7h.7v.7h-.7zM378.1 157.4h.7v.7h-.7zM377.1 134.7h.7v.7h-.7zM376.9 150.0h.7v.7h-.7zM376.6 149.6h.7v.7h-.7zM379.1 155.5h.7v.7h-.7zM380.1 143.2h.7v.7h-.7zM377.6 135.5h.7v.7h-.7zM374.9 152.8h.7v.7h-.7zM380.1 151.7h.7v.7h-.7zM374.4 153.4h.7v.7h-.7zM377.2 150.0h.7v.7h-.7zM375.4 155.6h.7v.7h-.7zM373.3 135.7h.7v.7h-.7zM375.0 157.5h.7v.7h-.7zM376.7 138.9h.7v.7h-.7zM375.5 130.8h.7v.7h-.7zM381.1 147.8h.7v.7h-.7zM373.1 140.7h.7v.7h-.7z" fill="#8a96f0" opacity="0.5"/>
<g transform="translate(377.4,161.5) rotate(-22)">
<ellipse rx="10.9" ry="7.3" fill="#4a62ee" opacity="0.4"/>
<ellipse rx="8.4" ry="5.4" fill="url(#flowg)"/>
</g>
<path d="M307.8 225.4h.7v.7h-.7zM313.5 225.1h.7v.7h-.7zM310.8 222.8h.7v.7h-.7zM307.2 217.8h.7v.7h-.7zM311.7 216.8h.7v.7h-.7zM298.2 228.0h.7v.7h-.7zM304.6 222.2h.7v.7h-.7zM307.6 224.8h.7v.7h-.7zM312.1 223.1h.7v.7h-.7zM306.3 225.8h.7v.7h-.7zM314.1 219.6h.7v.7h-.7zM304.5 219.1h.7v.7h-.7zM313.1 228.2h.7v.7h-.7zM311.7 221.2h.7v.7h-.7zM316.4 223.4h.7v.7h-.7zM313.2 217.1h.7v.7h-.7zM304.1 229.2h.7v.7h-.7zM311.8 223.6h.7v.7h-.7zM302.8 230.3h.7v.7h-.7zM319.5 221.3h.7v.7h-.7zM321.5 217.5h.7v.7h-.7zM312.0 228.1h.7v.7h-.7zM309.8 215.3h.7v.7h-.7zM301.6 229.2h.7v.7h-.7zM308.9 230.0h.7v.7h-.7zM318.1 222.5h.7v.7h-.7zM306.7 224.4h.7v.7h-.7zM311.8 220.8h.7v.7h-.7zM312.2 222.7h.7v.7h-.7zM312.4 222.0h.7v.7h-.7zM300.4 219.0h.7v.7h-.7zM299.8 224.4h.7v.7h-.7zM309.5 218.4h.7v.7h-.7zM306.5 227.0h.7v.7h-.7zM313.4 224.5h.7v.7h-.7zM313.1 226.5h.7v.7h-.7zM307.6 228.6h.7v.7h-.7zM301.4 227.0h.7v.7h-.7zM311.4 224.3h.7v.7h-.7zM306.2 223.2h.7v.7h-.7zM299.0 222.0h.7v.7h-.7zM301.7 233.9h.7v.7h-.7zM297.3 225.4h.7v.7h-.7zM300.1 228.2h.7v.7h-.7zM306.2 223.3h.7v.7h-.7zM301.9 227.5h.7v.7h-.7zM302.1 229.1h.7v.7h-.7zM314.0 217.2h.7v.7h-.7zM308.6 222.1h.7v.7h-.7zM304.4 221.9h.7v.7h-.7zM308.7 223.7h.7v.7h-.7zM318.2 226.2h.7v.7h-.7zM305.0 230.0h.7v.7h-.7zM303.5 225.1h.7v.7h-.7zM303.5 228.7h.7v.7h-.7zM314.1 220.1h.7v.7h-.7zM308.1 221.3h.7v.7h-.7zM304.8 221.7h.7v.7h-.7zM304.8 219.1h.7v.7h-.7zM321.2 220.3h.7v.7h-.7zM304.8 224.5h.7v.7h-.7zM306.5 225.6h.7v.7h-.7zM312.4 228.1h.7v.7h-.7zM303.1 220.6h.7v.7h-.7zM310.2 224.3h.7v.7h-.7zM305.6 228.5h.7v.7h-.7zM306.2 222.6h.7v.7h-.7zM305.8 221.0h.7v.7h-.7zM309.1 229.5h.7v.7h-.7zM315.0 221.9h.7v.7h-.7zM309.4 224.3h.7v.7h-.7zM303.0 228.0h.7v.7h-.7zM303.9 224.6h.7v.7h-.7zM314.7 217.4h.7v.7h-.7zM308.8 224.0h.7v.7h-.7zM312.7 220.4h.7v.7h-.7zM311.3 223.5h.7v.7h-.7zM306.6 223.1h.7v.7h-.7zM305.1 229.8h.7v.7h-.7zM306.1 229.5h.7v.7h-.7zM315.5 217.6h.7v.7h-.7zM302.2 224.4h.7v.7h-.7zM308.0 228.9h.7v.7h-.7zM303.0 223.7h.7v.7h-.7zM300.6 229.2h.7v.7h-.7zM312.9 226.5h.7v.7h-.7zM309.6 223.1h.7v.7h-.7zM312.8 231.4h.7v.7h-.7zM317.4 221.5h.7v.7h-.7zM306.5 224.5h.7v.7h-.7zM307.9 224.0h.7v.7h-.7zM309.7 220.8h.7v.7h-.7zM315.9 215.9h.7v.7h-.7zM312.8 223.9h.7v.7h-.7zM315.1 224.6h.7v.7h-.7zM310.3 223.6h.7v.7h-.7zM317.5 222.9h.7v.7h-.7zM309.9 226.2h.7v.7h-.7zM303.4 228.6h.7v.7h-.7zM300.5 233.3h.7v.7h-.7zM307.0 228.2h.7v.7h-.7zM309.8 221.1h.7v.7h-.7zM315.2 225.6h.7v.7h-.7zM307.4 231.3h.7v.7h-.7zM309.1 220.6h.7v.7h-.7zM307.9 225.7h.7v.7h-.7zM310.8 219.8h.7v.7h-.7zM307.6 226.3h.7v.7h-.7zM313.0 228.1h.7v.7h-.7zM314.0 223.7h.7v.7h-.7zM303.0 224.4h.7v.7h-.7zM303.6 226.9h.7v.7h-.7zM314.3 226.3h.7v.7h-.7zM312.1 219.0h.7v.7h-.7zM311.7 229.6h.7v.7h-.7zM310.2 224.9h.7v.7h-.7zM300.0 224.6h.7v.7h-.7zM306.0 224.8h.7v.7h-.7zM311.0 222.1h.7v.7h-.7zM304.4 235.1h.7v.7h-.7zM308.0 218.7h.7v.7h-.7zM318.0 221.1h.7v.7h-.7zM308.0 224.6h.7v.7h-.7zM307.6 216.8h.7v.7h-.7zM313.9 221.7h.7v.7h-.7zM311.1 220.5h.7v.7h-.7zM308.3 229.8h.7v.7h-.7zM294.7 237.0h.7v.7h-.7zM311.8 216.5h.7v.7h-.7zM306.6 222.9h.7v.7h-.7zM304.1 222.5h.7v.7h-.7zM302.5 228.2h.7v.7h-.7zM308.3 226.2h.7v.7h-.7zM311.5 220.3h.7v.7h-.7zM321.3 221.8h.7v.7h-.7zM301.1 228.2h.7v.7h-.7zM307.7 226.1h.7v.7h-.7zM306.5 230.9h.7v.7h-.7zM310.2 230.4h.7v.7h-.7zM308.1 231.1h.7v.7h-.7zM312.1 225.0h.7v.7h-.7zM310.9 223.9h.7v.7h-.7zM303.7 226.5h.7v.7h-.7zM304.9 225.6h.7v.7h-.7zM308.1 227.0h.7v.7h-.7zM309.6 222.4h.7v.7h-.7zM301.9 231.5h.7v.7h-.7zM304.6 225.2h.7v.7h-.7zM310.7 222.6h.7v.7h-.7zM309.2 224.0h.7v.7h-.7zM300.8 231.3h.7v.7h-.7zM308.9 226.5h.7v.7h-.7zM308.4 222.7h.7v.7h-.7zM315.6 220.0h.7v.7h-.7zM314.3 222.5h.7v.7h-.7zM314.0 224.2h.7v.7h-.7zM310.1 219.9h.7v.7h-.7zM309.6 228.1h.7v.7h-.7zM307.4 223.5h.7v.7h-.7zM310.2 226.2h.7v.7h-.7zM304.6 226.3h.7v.7h-.7zM305.4 223.6h.7v.7h-.7zM311.2 220.4h.7v.7h-.7zM309.4 224.8h.7v.7h-.7zM311.5 223.8h.7v.7h-.7zM311.0 220.0h.7v.7h-.7zM298.5 233.3h.7v.7h-.7zM315.8 218.2h.7v.7h-.7zM310.0 226.1h.7v.7h-.7zM304.7 226.2h.7v.7h-.7zM307.4 226.6h.7v.7h-.7zM311.4 227.9h.7v.7h-.7zM303.3 224.9h.7v.7h-.7zM302.3 228.6h.7v.7h-.7zM307.7 223.8h.7v.7h-.7zM309.9 219.9h.7v.7h-.7zM305.1 233.4h.7v.7h-.7zM307.1 221.6h.7v.7h-.7zM313.7 221.3h.7v.7h-.7zM304.7 227.6h.7v.7h-.7zM314.7 222.7h.7v.7h-.7zM310.8 228.4h.7v.7h-.7zM304.3 226.1h.7v.7h-.7zM309.3 220.1h.7v.7h-.7zM312.4 222.9h.7v.7h-.7zM313.7 221.9h.7v.7h-.7zM315.9 214.9h.7v.7h-.7zM306.1 223.8h.7v.7h-.7zM309.7 225.5h.7v.7h-.7zM305.3 229.5h.7v.7h-.7zM314.1 221.0h.7v.7h-.7zM303.2 229.6h.7v.7h-.7zM309.2 220.4h.7v.7h-.7zM304.6 224.7h.7v.7h-.7zM302.6 229.0h.7v.7h-.7zM314.4 221.6h.7v.7h-.7zM305.4 225.9h.7v.7h-.7zM311.4 228.6h.7v.7h-.7zM307.4 226.5h.7v.7h-.7zM309.0 227.7h.7v.7h-.7zM305.7 227.6h.7v.7h-.7zM307.9 226.5h.7v.7h-.7zM301.9 227.9h.7v.7h-.7zM314.9 222.4h.7v.7h-.7zM307.8 233.4h.7v.7h-.7zM310.4 222.0h.7v.7h-.7zM305.6 222.7h.7v.7h-.7zM317.9 222.6h.7v.7h-.7zM313.9 217.2h.7v.7h-.7zM296.6 224.1h.7v.7h-.7zM300.9 226.9h.7v.7h-.7zM300.5 223.3h.7v.7h-.7zM309.9 220.8h.7v.7h-.7zM311.9 226.0h.7v.7h-.7zM303.9 225.1h.7v.7h-.7zM312.0 216.6h.7v.7h-.7zM304.3 222.6h.7v.7h-.7zM306.4 223.1h.7v.7h-.7zM308.5 222.2h.7v.7h-.7zM312.6 218.6h.7v.7h-.7zM308.9 225.9h.7v.7h-.7zM303.1 225.1h.7v.7h-.7zM307.0 223.4h.7v.7h-.7zM310.8 219.9h.7v.7h-.7zM302.1 230.0h.7v.7h-.7zM303.3 224.9h.7v.7h-.7zM308.7 227.6h.7v.7h-.7zM312.2 222.1h.7v.7h-.7zM308.8 222.2h.7v.7h-.7zM317.9 221.5h.7v.7h-.7zM305.7 228.7h.7v.7h-.7zM300.7 226.0h.7v.7h-.7zM307.4 230.0h.7v.7h-.7zM317.6 218.3h.7v.7h-.7zM308.0 228.8h.7v.7h-.7zM308.2 229.5h.7v.7h-.7zM305.3 229.2h.7v.7h-.7zM307.2 230.7h.7v.7h-.7zM307.9 222.0h.7v.7h-.7zM305.1 217.8h.7v.7h-.7zM309.7 225.5h.7v.7h-.7zM317.8 214.4h.7v.7h-.7zM316.0 223.6h.7v.7h-.7zM311.2 221.1h.7v.7h-.7zM307.9 221.5h.7v.7h-.7zM307.9 220.3h.7v.7h-.7zM306.1 225.7h.7v.7h-.7zM302.2 223.5h.7v.7h-.7zM308.5 225.0h.7v.7h-.7zM312.2 223.1h.7v.7h-.7zM316.2 219.0h.7v.7h-.7zM313.1 217.6h.7v.7h-.7zM312.7 223.9h.7v.7h-.7zM316.3 217.0h.7v.7h-.7zM317.0 218.3h.7v.7h-.7zM303.9 221.1h.7v.7h-.7zM311.9 220.0h.7v.7h-.7zM312.7 221.9h.7v.7h-.7zM312.3 221.8h.7v.7h-.7zM304.5 224.9h.7v.7h-.7zM309.1 225.1h.7v.7h-.7zM306.3 228.6h.7v.7h-.7zM296.8 226.7h.7v.7h-.7zM312.2 222.8h.7v.7h-.7zM319.8 220.6h.7v.7h-.7zM302.0 224.2h.7v.7h-.7zM308.4 223.8h.7v.7h-.7zM311.1 220.5h.7v.7h-.7zM303.9 224.3h.7v.7h-.7zM307.0 222.0h.7v.7h-.7zM308.9 226.3h.7v.7h-.7zM305.9 221.8h.7v.7h-.7zM312.1 224.4h.7v.7h-.7zM303.6 225.6h.7v.7h-.7zM299.1 226.1h.7v.7h-.7zM300.8 223.9h.7v.7h-.7zM308.2 230.7h.7v.7h-.7zM313.1 219.5h.7v.7h-.7zM310.5 222.9h.7v.7h-.7zM305.7 218.7h.7v.7h-.7zM305.7 221.6h.7v.7h-.7zM305.9 225.1h.7v.7h-.7zM286.9 228.4h.7v.7h-.7zM312.3 226.2h.7v.7h-.7zM310.6 218.5h.7v.7h-.7zM307.3 226.8h.7v.7h-.7zM303.7 219.1h.7v.7h-.7zM310.8 220.1h.7v.7h-.7zM305.3 219.6h.7v.7h-.7zM304.6 230.5h.7v.7h-.7zM306.7 226.6h.7v.7h-.7zM316.0 219.2h.7v.7h-.7zM308.0 223.2h.7v.7h-.7zM312.8 222.4h.7v.7h-.7zM312.8 226.7h.7v.7h-.7zM312.6 225.6h.7v.7h-.7zM303.8 225.9h.7v.7h-.7zM310.2 219.9h.7v.7h-.7zM301.2 228.1h.7v.7h-.7zM306.5 226.5h.7v.7h-.7zM315.2 218.0h.7v.7h-.7zM302.6 226.5h.7v.7h-.7zM304.6 224.4h.7v.7h-.7zM314.6 222.0h.7v.7h-.7zM309.7 222.2h.7v.7h-.7zM312.8 220.9h.7v.7h-.7zM316.5 218.9h.7v.7h-.7zM309.0 226.0h.7v.7h-.7zM315.7 213.2h.7v.7h-.7zM308.6 219.6h.7v.7h-.7zM299.7 227.8h.7v.7h-.7zM309.7 217.3h.7v.7h-.7zM309.1 229.9h.7v.7h-.7zM313.8 219.3h.7v.7h-.7zM311.5 222.2h.7v.7h-.7zM304.2 223.7h.7v.7h-.7zM313.2 218.5h.7v.7h-.7zM306.7 223.2h.7v.7h-.7zM300.6 228.0h.7v.7h-.7zM315.6 215.8h.7v.7h-.7z" fill="#3a50e6" opacity="0.6"/>
<path d="M308.0 229.5h.7v.7h-.7zM302.2 227.6h.7v.7h-.7zM301.4 229.6h.7v.7h-.7zM303.9 222.9h.7v.7h-.7zM298.1 222.4h.7v.7h-.7zM305.1 224.9h.7v.7h-.7zM296.5 224.0h.7v.7h-.7zM296.9 222.7h.7v.7h-.7zM298.4 224.7h.7v.7h-.7zM296.3 227.4h.7v.7h-.7zM301.3 230.8h.7v.7h-.7zM297.6 229.1h.7v.7h-.7zM287.1 238.9h.7v.7h-.7zM296.3 224.3h.7v.7h-.7zM295.2 233.2h.7v.7h-.7zM301.3 229.8h.7v.7h-.7zM301.9 232.7h.7v.7h-.7zM302.7 227.3h.7v.7h-.7zM302.9 225.9h.7v.7h-.7zM305.2 226.7h.7v.7h-.7zM301.3 228.9h.7v.7h-.7zM297.0 229.6h.7v.7h-.7zM299.6 225.3h.7v.7h-.7zM301.0 236.2h.7v.7h-.7zM307.2 230.1h.7v.7h-.7zM280.9 230.2h.7v.7h-.7zM305.1 224.7h.7v.7h-.7zM283.9 242.3h.7v.7h-.7zM299.2 226.4h.7v.7h-.7zM302.3 230.4h.7v.7h-.7zM305.2 223.2h.7v.7h-.7zM299.5 227.4h.7v.7h-.7zM298.0 224.1h.7v.7h-.7zM308.5 229.3h.7v.7h-.7zM300.0 226.7h.7v.7h-.7zM292.1 232.9h.7v.7h-.7zM298.2 229.4h.7v.7h-.7zM303.2 231.9h.7v.7h-.7zM295.7 229.0h.7v.7h-.7zM300.2 227.6h.7v.7h-.7zM295.1 232.0h.7v.7h-.7zM305.2 230.6h.7v.7h-.7zM297.8 231.9h.7v.7h-.7zM296.6 218.5h.7v.7h-.7zM299.4 229.0h.7v.7h-.7zM293.0 241.5h.7v.7h-.7zM303.3 228.1h.7v.7h-.7zM285.0 243.1h.7v.7h-.7zM295.8 231.7h.7v.7h-.7zM291.9 239.7h.7v.7h-.7zM291.1 234.5h.7v.7h-.7zM294.1 229.9h.7v.7h-.7zM305.5 228.4h.7v.7h-.7zM305.9 228.0h.7v.7h-.7zM305.0 227.1h.7v.7h-.7zM286.8 239.9h.7v.7h-.7zM292.9 227.0h.7v.7h-.7zM301.8 232.0h.7v.7h-.7zM288.5 234.3h.7v.7h-.7zM304.9 231.2h.7v.7h-.7zM286.9 234.8h.7v.7h-.7zM306.4 225.6h.7v.7h-.7zM291.7 239.7h.7v.7h-.7zM302.7 233.1h.7v.7h-.7zM302.4 230.3h.7v.7h-.7zM302.7 226.1h.7v.7h-.7z" fill="#5a70f0" opacity="0.5"/>
<g transform="translate(308.4,224.0) rotate(-32)">
<ellipse rx="10.4" ry="5.7" fill="#4a62ee" opacity="0.4"/>
<ellipse rx="8.0" ry="4.2" fill="url(#flowg)"/>
</g>
<path d="M371.0 228.8h.7v.7h-.7zM372.0 231.3h.7v.7h-.7zM379.0 221.4h.7v.7h-.7zM375.6 218.6h.7v.7h-.7zM370.3 224.5h.7v.7h-.7zM368.3 225.6h.7v.7h-.7zM374.8 222.7h.7v.7h-.7zM370.5 222.3h.7v.7h-.7zM366.8 231.0h.7v.7h-.7zM376.3 229.9h.7v.7h-.7zM369.9 225.4h.7v.7h-.7zM382.6 228.1h.7v.7h-.7zM383.6 225.6h.7v.7h-.7zM370.0 229.6h.7v.7h-.7zM384.1 212.8h.7v.7h-.7zM382.0 231.7h.7v.7h-.7zM371.3 228.0h.7v.7h-.7zM388.6 222.2h.7v.7h-.7zM379.1 227.3h.7v.7h-.7zM377.0 227.7h.7v.7h-.7zM377.4 227.9h.7v.7h-.7zM372.1 226.1h.7v.7h-.7zM374.6 216.4h.7v.7h-.7zM381.6 221.3h.7v.7h-.7zM371.7 221.0h.7v.7h-.7zM375.1 221.6h.7v.7h-.7zM382.9 228.9h.7v.7h-.7zM373.5 223.1h.7v.7h-.7zM375.9 224.0h.7v.7h-.7zM376.9 216.4h.7v.7h-.7zM379.9 223.3h.7v.7h-.7zM371.7 220.4h.7v.7h-.7zM383.6 226.5h.7v.7h-.7zM379.7 226.4h.7v.7h-.7zM382.0 223.4h.7v.7h-.7zM380.1 219.2h.7v.7h-.7zM378.0 214.1h.7v.7h-.7zM385.8 227.8h.7v.7h-.7zM382.4 219.1h.7v.7h-.7zM376.5 227.3h.7v.7h-.7zM373.0 227.9h.7v.7h-.7zM379.0 230.2h.7v.7h-.7zM373.8 223.8h.7v.7h-.7zM381.9 227.1h.7v.7h-.7zM373.4 220.5h.7v.7h-.7zM367.7 221.9h.7v.7h-.7zM376.2 220.8h.7v.7h-.7zM375.1 219.6h.7v.7h-.7zM376.3 227.2h.7v.7h-.7zM372.7 231.1h.7v.7h-.7zM376.2 221.7h.7v.7h-.7zM375.2 225.2h.7v.7h-.7zM371.6 224.5h.7v.7h-.7zM375.8 217.3h.7v.7h-.7zM392.0 222.2h.7v.7h-.7zM387.3 230.0h.7v.7h-.7zM381.2 222.9h.7v.7h-.7zM377.4 226.9h.7v.7h-.7zM383.9 218.4h.7v.7h-.7zM386.5 219.5h.7v.7h-.7zM373.3 231.8h.7v.7h-.7zM375.4 228.4h.7v.7h-.7zM370.8 230.2h.7v.7h-.7zM376.2 230.0h.7v.7h-.7zM367.5 225.7h.7v.7h-.7zM372.1 227.6h.7v.7h-.7zM371.2 225.7h.7v.7h-.7zM376.4 223.2h.7v.7h-.7zM378.4 225.3h.7v.7h-.7zM369.8 231.9h.7v.7h-.7zM369.9 224.3h.7v.7h-.7zM385.7 218.4h.7v.7h-.7zM377.3 227.5h.7v.7h-.7zM373.3 225.7h.7v.7h-.7zM375.3 224.6h.7v.7h-.7zM372.1 231.0h.7v.7h-.7zM378.1 226.7h.7v.7h-.7zM376.4 222.4h.7v.7h-.7zM382.4 219.4h.7v.7h-.7zM381.4 219.8h.7v.7h-.7zM373.3 226.6h.7v.7h-.7zM391.3 222.7h.7v.7h-.7zM378.4 225.9h.7v.7h-.7zM382.8 220.4h.7v.7h-.7zM365.2 225.2h.7v.7h-.7zM375.8 222.2h.7v.7h-.7zM377.8 230.4h.7v.7h-.7zM374.8 223.1h.7v.7h-.7zM379.1 228.9h.7v.7h-.7zM387.5 223.3h.7v.7h-.7zM375.0 223.7h.7v.7h-.7zM370.1 225.0h.7v.7h-.7zM383.1 224.7h.7v.7h-.7zM377.5 220.3h.7v.7h-.7zM375.8 222.4h.7v.7h-.7zM385.5 221.4h.7v.7h-.7zM376.6 224.8h.7v.7h-.7zM377.3 225.0h.7v.7h-.7zM374.6 226.8h.7v.7h-.7zM378.8 227.6h.7v.7h-.7zM381.1 225.8h.7v.7h-.7zM374.5 225.8h.7v.7h-.7zM363.8 226.5h.7v.7h-.7zM371.5 217.1h.7v.7h-.7zM384.9 225.4h.7v.7h-.7zM381.4 232.6h.7v.7h-.7zM368.7 228.4h.7v.7h-.7zM377.1 222.7h.7v.7h-.7zM387.0 225.2h.7v.7h-.7zM378.5 220.3h.7v.7h-.7zM378.6 224.3h.7v.7h-.7zM378.0 218.5h.7v.7h-.7zM373.2 230.8h.7v.7h-.7zM377.5 224.2h.7v.7h-.7zM373.1 215.2h.7v.7h-.7zM383.0 216.3h.7v.7h-.7zM371.2 229.3h.7v.7h-.7zM386.3 225.8h.7v.7h-.7zM373.2 222.9h.7v.7h-.7zM380.9 224.1h.7v.7h-.7zM369.2 233.3h.7v.7h-.7zM367.2 230.3h.7v.7h-.7zM380.0 226.5h.7v.7h-.7zM378.9 227.4h.7v.7h-.7zM377.6 220.9h.7v.7h-.7zM375.8 230.9h.7v.7h-.7zM367.8 231.3h.7v.7h-.7zM371.4 219.9h.7v.7h-.7zM373.1 228.2h.7v.7h-.7zM363.2 234.0h.7v.7h-.7zM383.4 220.5h.7v.7h-.7zM375.3 225.6h.7v.7h-.7zM380.6 219.1h.7v.7h-.7zM375.0 227.0h.7v.7h-.7zM369.4 229.1h.7v.7h-.7zM378.0 227.6h.7v.7h-.7zM370.9 227.0h.7v.7h-.7zM379.4 224.0h.7v.7h-.7zM373.0 231.1h.7v.7h-.7zM376.9 225.4h.7v.7h-.7zM378.5 226.9h.7v.7h-.7zM376.7 222.0h.7v.7h-.7zM381.7 222.6h.7v.7h-.7zM378.1 225.1h.7v.7h-.7zM370.9 227.6h.7v.7h-.7zM376.9 219.0h.7v.7h-.7zM375.5 225.1h.7v.7h-.7zM380.6 222.0h.7v.7h-.7zM378.6 226.7h.7v.7h-.7zM369.5 224.8h.7v.7h-.7zM376.7 227.9h.7v.7h-.7zM384.8 222.1h.7v.7h-.7zM376.0 223.2h.7v.7h-.7zM380.3 230.3h.7v.7h-.7zM375.9 223.2h.7v.7h-.7zM385.9 220.8h.7v.7h-.7zM375.2 222.1h.7v.7h-.7zM382.8 221.6h.7v.7h-.7zM364.2 221.2h.7v.7h-.7zM378.4 222.1h.7v.7h-.7zM380.7 225.4h.7v.7h-.7zM387.7 226.3h.7v.7h-.7zM371.0 226.1h.7v.7h-.7zM374.3 229.5h.7v.7h-.7zM370.2 230.1h.7v.7h-.7zM369.4 232.1h.7v.7h-.7zM381.3 216.4h.7v.7h-.7zM376.5 222.5h.7v.7h-.7zM369.5 231.6h.7v.7h-.7zM374.4 230.1h.7v.7h-.7zM382.4 230.1h.7v.7h-.7zM376.0 228.6h.7v.7h-.7zM377.8 222.9h.7v.7h-.7zM383.2 222.5h.7v.7h-.7zM375.1 226.3h.7v.7h-.7zM371.6 231.4h.7v.7h-.7zM384.4 215.7h.7v.7h-.7zM377.5 223.1h.7v.7h-.7zM374.6 229.2h.7v.7h-.7zM387.2 222.0h.7v.7h-.7zM378.1 231.4h.7v.7h-.7zM374.5 223.0h.7v.7h-.7zM375.4 229.2h.7v.7h-.7zM377.9 225.1h.7v.7h-.7zM374.4 227.3h.7v.7h-.7zM379.6 231.0h.7v.7h-.7zM375.7 221.2h.7v.7h-.7zM386.9 221.9h.7v.7h-.7zM377.8 226.4h.7v.7h-.7zM374.5 217.0h.7v.7h-.7zM378.9 229.2h.7v.7h-.7zM381.3 219.9h.7v.7h-.7zM376.2 227.1h.7v.7h-.7zM389.2 221.4h.7v.7h-.7zM377.9 222.1h.7v.7h-.7zM374.5 223.8h.7v.7h-.7zM375.9 221.3h.7v.7h-.7zM373.5 221.5h.7v.7h-.7zM384.5 224.5h.7v.7h-.7zM376.1 224.2h.7v.7h-.7zM381.9 223.6h.7v.7h-.7zM370.9 216.3h.7v.7h-.7zM368.1 231.1h.7v.7h-.7zM375.2 222.4h.7v.7h-.7zM368.4 231.0h.7v.7h-.7zM371.1 227.8h.7v.7h-.7zM376.1 223.0h.7v.7h-.7zM371.4 228.3h.7v.7h-.7zM368.9 225.6h.7v.7h-.7zM378.2 229.0h.7v.7h-.7zM375.1 226.1h.7v.7h-.7zM377.1 214.8h.7v.7h-.7zM371.6 225.5h.7v.7h-.7zM374.5 229.2h.7v.7h-.7zM375.2 227.9h.7v.7h-.7zM381.9 221.6h.7v.7h-.7zM381.3 229.0h.7v.7h-.7zM382.5 222.8h.7v.7h-.7zM367.1 226.1h.7v.7h-.7zM377.3 226.0h.7v.7h-.7zM378.2 224.3h.7v.7h-.7zM372.5 229.1h.7v.7h-.7zM382.4 222.4h.7v.7h-.7zM378.8 227.5h.7v.7h-.7zM375.8 227.0h.7v.7h-.7zM381.7 220.1h.7v.7h-.7zM375.8 222.1h.7v.7h-.7zM368.7 220.4h.7v.7h-.7zM382.6 232.7h.7v.7h-.7zM377.7 230.9h.7v.7h-.7zM382.5 221.0h.7v.7h-.7zM381.8 221.2h.7v.7h-.7zM367.2 232.4h.7v.7h-.7zM375.7 224.6h.7v.7h-.7zM382.8 226.6h.7v.7h-.7zM376.8 226.1h.7v.7h-.7zM378.2 221.1h.7v.7h-.7zM380.9 221.1h.7v.7h-.7zM381.1 227.1h.7v.7h-.7zM380.1 215.8h.7v.7h-.7zM373.2 225.2h.7v.7h-.7zM373.0 225.9h.7v.7h-.7zM377.1 225.2h.7v.7h-.7zM390.4 220.6h.7v.7h-.7zM376.8 221.9h.7v.7h-.7zM376.0 224.5h.7v.7h-.7zM379.2 219.0h.7v.7h-.7zM374.9 221.5h.7v.7h-.7zM369.2 231.0h.7v.7h-.7zM377.0 226.3h.7v.7h-.7zM388.6 226.2h.7v.7h-.7zM377.6 226.1h.7v.7h-.7zM374.5 225.0h.7v.7h-.7zM370.1 230.8h.7v.7h-.7zM379.5 228.1h.7v.7h-.7zM386.2 217.7h.7v.7h-.7zM378.1 223.6h.7v.7h-.7zM384.0 221.2h.7v.7h-.7zM390.1 229.2h.7v.7h-.7zM391.6 227.2h.7v.7h-.7zM379.7 224.1h.7v.7h-.7zM370.4 228.5h.7v.7h-.7zM367.4 224.9h.7v.7h-.7zM385.6 225.5h.7v.7h-.7zM374.7 234.9h.7v.7h-.7zM370.0 223.3h.7v.7h-.7zM387.9 227.1h.7v.7h-.7zM377.4 227.4h.7v.7h-.7zM370.2 231.0h.7v.7h-.7zM376.1 229.3h.7v.7h-.7zM373.5 224.4h.7v.7h-.7zM382.5 225.5h.7v.7h-.7zM373.4 220.3h.7v.7h-.7zM381.3 228.9h.7v.7h-.7zM379.9 218.2h.7v.7h-.7zM378.4 225.4h.7v.7h-.7zM385.7 220.8h.7v.7h-.7zM378.4 230.9h.7v.7h-.7zM369.7 225.0h.7v.7h-.7zM373.9 230.8h.7v.7h-.7zM374.4 228.6h.7v.7h-.7zM375.5 231.4h.7v.7h-.7zM379.4 221.3h.7v.7h-.7zM381.6 224.4h.7v.7h-.7zM376.3 221.3h.7v.7h-.7zM388.1 220.9h.7v.7h-.7zM375.7 226.0h.7v.7h-.7zM375.6 220.6h.7v.7h-.7zM381.2 216.9h.7v.7h-.7zM379.8 216.2h.7v.7h-.7zM371.7 231.9h.7v.7h-.7zM369.5 228.1h.7v.7h-.7zM380.9 228.9h.7v.7h-.7zM388.3 223.9h.7v.7h-.7zM382.1 227.6h.7v.7h-.7zM380.8 216.9h.7v.7h-.7zM379.8 220.4h.7v.7h-.7zM393.5 223.3h.7v.7h-.7zM376.4 232.8h.7v.7h-.7zM373.3 228.7h.7v.7h-.7zM370.3 226.2h.7v.7h-.7zM376.9 219.6h.7v.7h-.7zM382.2 227.1h.7v.7h-.7zM387.8 225.0h.7v.7h-.7zM380.9 226.7h.7v.7h-.7zM372.5 224.7h.7v.7h-.7zM383.5 217.8h.7v.7h-.7zM375.8 229.1h.7v.7h-.7zM375.2 220.7h.7v.7h-.7zM373.2 223.6h.7v.7h-.7zM370.0 225.4h.7v.7h-.7zM380.7 221.1h.7v.7h-.7zM377.6 221.9h.7v.7h-.7zM377.4 227.6h.7v.7h-.7zM379.3 223.1h.7v.7h-.7zM377.5 229.1h.7v.7h-.7zM373.4 220.5h.7v.7h-.7zM382.3 225.5h.7v.7h-.7zM376.1 223.0h.7v.7h-.7zM386.5 226.3h.7v.7h-.7z" fill="#3a50e6" opacity="0.6"/>
<path d="M370.8 227.4h.7v.7h-.7zM370.3 236.8h.7v.7h-.7zM369.9 232.2h.7v.7h-.7zM350.8 232.7h.7v.7h-.7zM368.4 229.2h.7v.7h-.7zM363.4 234.7h.7v.7h-.7zM368.6 232.4h.7v.7h-.7zM371.4 226.3h.7v.7h-.7zM374.1 227.7h.7v.7h-.7zM373.9 225.7h.7v.7h-.7zM369.0 234.2h.7v.7h-.7zM376.0 232.1h.7v.7h-.7zM360.9 244.8h.7v.7h-.7zM364.9 227.7h.7v.7h-.7zM371.8 232.4h.7v.7h-.7zM370.0 219.5h.7v.7h-.7zM369.5 221.8h.7v.7h-.7zM364.0 228.0h.7v.7h-.7zM346.3 233.4h.7v.7h-.7zM370.3 221.8h.7v.7h-.7zM366.9 220.3h.7v.7h-.7zM374.1 231.1h.7v.7h-.7zM373.3 221.3h.7v.7h-.7zM368.8 233.4h.7v.7h-.7zM368.1 230.3h.7v.7h-.7zM366.6 228.7h.7v.7h-.7zM374.9 225.2h.7v.7h-.7zM372.6 232.5h.7v.7h-.7zM368.8 239.8h.7v.7h-.7zM365.7 228.3h.7v.7h-.7zM361.6 240.1h.7v.7h-.7zM369.5 221.8h.7v.7h-.7zM374.1 226.3h.7v.7h-.7zM366.3 221.8h.7v.7h-.7zM365.6 230.5h.7v.7h-.7zM375.5 230.5h.7v.7h-.7zM362.8 234.2h.7v.7h-.7zM367.3 231.2h.7v.7h-.7zM375.5 233.1h.7v.7h-.7zM368.2 227.1h.7v.7h-.7zM370.6 220.0h.7v.7h-.7zM375.8 228.2h.7v.7h-.7zM371.2 224.6h.7v.7h-.7zM372.3 228.3h.7v.7h-.7zM369.4 223.2h.7v.7h-.7zM366.1 229.3h.7v.7h-.7zM362.1 230.2h.7v.7h-.7zM364.7 238.0h.7v.7h-.7zM371.1 223.3h.7v.7h-.7zM373.1 230.1h.7v.7h-.7zM360.0 232.7h.7v.7h-.7zM375.6 233.0h.7v.7h-.7zM368.8 224.3h.7v.7h-.7zM374.7 230.6h.7v.7h-.7zM372.1 227.1h.7v.7h-.7zM368.8 231.1h.7v.7h-.7zM360.8 237.8h.7v.7h-.7zM369.1 222.3h.7v.7h-.7zM360.0 235.5h.7v.7h-.7zM360.6 238.9h.7v.7h-.7zM369.3 224.9h.7v.7h-.7zM372.9 219.5h.7v.7h-.7zM365.4 236.9h.7v.7h-.7zM373.3 228.9h.7v.7h-.7zM360.7 233.4h.7v.7h-.7zM375.6 228.5h.7v.7h-.7zM357.2 235.5h.7v.7h-.7zM374.9 235.9h.7v.7h-.7zM356.6 227.1h.7v.7h-.7zM375.3 237.9h.7v.7h-.7zM356.9 225.9h.7v.7h-.7zM366.1 226.8h.7v.7h-.7zM360.7 239.4h.7v.7h-.7zM375.0 228.0h.7v.7h-.7zM361.6 232.7h.7v.7h-.7zM369.8 239.7h.7v.7h-.7zM363.9 230.5h.7v.7h-.7zM369.3 221.0h.7v.7h-.7zM364.8 223.2h.7v.7h-.7zM350.8 225.6h.7v.7h-.7zM363.4 224.9h.7v.7h-.7zM365.3 233.4h.7v.7h-.7zM375.2 229.5h.7v.7h-.7zM362.9 229.9h.7v.7h-.7zM372.3 228.2h.7v.7h-.7zM364.9 229.2h.7v.7h-.7zM365.0 230.3h.7v.7h-.7zM355.4 230.5h.7v.7h-.7zM359.9 229.1h.7v.7h-.7zM364.6 228.0h.7v.7h-.7zM365.4 230.4h.7v.7h-.7zM369.4 227.4h.7v.7h-.7zM375.5 234.3h.7v.7h-.7zM375.9 227.2h.7v.7h-.7zM368.2 232.7h.7v.7h-.7zM367.8 229.7h.7v.7h-.7zM371.2 230.7h.7v.7h-.7zM371.2 232.8h.7v.7h-.7zM375.7 228.8h.7v.7h-.7zM351.9 230.3h.7v.7h-.7zM366.6 233.5h.7v.7h-.7zM373.9 226.7h.7v.7h-.7zM347.1 235.9h.7v.7h-.7zM365.2 232.4h.7v.7h-.7zM374.8 225.0h.7v.7h-.7zM367.0 226.8h.7v.7h-.7zM371.6 217.3h.7v.7h-.7zM358.3 226.3h.7v.7h-.7zM362.3 234.8h.7v.7h-.7zM365.8 227.8h.7v.7h-.7zM373.5 231.9h.7v.7h-.7zM365.9 231.9h.7v.7h-.7zM367.1 227.8h.7v.7h-.7zM370.7 225.1h.7v.7h-.7zM369.1 222.8h.7v.7h-.7zM366.4 232.8h.7v.7h-.7zM371.0 230.0h.7v.7h-.7zM369.7 229.6h.7v.7h-.7zM363.2 223.8h.7v.7h-.7zM361.1 225.4h.7v.7h-.7zM374.9 226.4h.7v.7h-.7zM356.1 238.5h.7v.7h-.7zM344.5 239.1h.7v.7h-.7zM372.0 231.5h.7v.7h-.7zM359.3 223.9h.7v.7h-.7zM364.4 232.6h.7v.7h-.7zM371.3 230.2h.7v.7h-.7zM352.3 228.5h.7v.7h-.7zM370.0 228.8h.7v.7h-.7zM365.1 225.4h.7v.7h-.7zM373.4 220.9h.7v.7h-.7zM360.1 235.9h.7v.7h-.7zM356.6 240.7h.7v.7h-.7zM371.8 231.2h.7v.7h-.7zM367.3 228.8h.7v.7h-.7zM371.9 225.1h.7v.7h-.7zM372.8 227.8h.7v.7h-.7zM361.7 231.6h.7v.7h-.7zM375.6 234.1h.7v.7h-.7zM367.6 223.1h.7v.7h-.7zM345.6 231.5h.7v.7h-.7zM371.4 235.6h.7v.7h-.7zM371.8 223.8h.7v.7h-.7zM374.4 224.5h.7v.7h-.7zM360.3 221.5h.7v.7h-.7zM362.7 224.0h.7v.7h-.7zM367.5 224.2h.7v.7h-.7zM367.9 231.8h.7v.7h-.7zM370.6 236.3h.7v.7h-.7zM349.8 226.3h.7v.7h-.7zM366.6 238.7h.7v.7h-.7zM373.4 225.7h.7v.7h-.7zM370.3 226.9h.7v.7h-.7zM365.4 232.3h.7v.7h-.7zM372.4 223.5h.7v.7h-.7zM371.6 232.5h.7v.7h-.7zM369.5 227.1h.7v.7h-.7zM374.9 226.5h.7v.7h-.7zM365.3 243.6h.7v.7h-.7zM370.7 235.5h.7v.7h-.7zM358.8 223.9h.7v.7h-.7zM373.6 224.5h.7v.7h-.7zM367.9 237.2h.7v.7h-.7zM358.7 224.1h.7v.7h-.7zM354.4 236.0h.7v.7h-.7zM361.2 236.9h.7v.7h-.7zM365.2 227.2h.7v.7h-.7zM372.9 226.3h.7v.7h-.7zM352.2 230.7h.7v.7h-.7zM363.4 224.3h.7v.7h-.7zM372.5 221.1h.7v.7h-.7zM377.4 232.3h.7v.7h-.7zM351.8 234.0h.7v.7h-.7zM372.4 223.7h.7v.7h-.7zM373.3 230.3h.7v.7h-.7zM350.9 231.0h.7v.7h-.7zM362.7 225.9h.7v.7h-.7zM369.5 229.3h.7v.7h-.7zM377.6 239.5h.7v.7h-.7zM359.9 227.6h.7v.7h-.7zM371.1 223.8h.7v.7h-.7zM373.0 226.6h.7v.7h-.7zM367.9 228.9h.7v.7h-.7zM360.0 230.9h.7v.7h-.7zM375.4 227.8h.7v.7h-.7zM373.7 226.3h.7v.7h-.7zM369.8 231.3h.7v.7h-.7zM371.9 230.0h.7v.7h-.7zM370.5 225.5h.7v.7h-.7zM364.7 236.6h.7v.7h-.7zM374.9 232.9h.7v.7h-.7zM374.4 233.8h.7v.7h-.7zM366.4 229.4h.7v.7h-.7zM368.0 225.2h.7v.7h-.7zM369.3 225.2h.7v.7h-.7zM367.1 232.3h.7v.7h-.7zM372.7 227.0h.7v.7h-.7zM363.1 229.5h.7v.7h-.7zM365.5 236.4h.7v.7h-.7zM365.2 226.2h.7v.7h-.7zM371.7 235.5h.7v.7h-.7zM372.6 220.4h.7v.7h-.7zM366.4 226.0h.7v.7h-.7zM370.8 220.6h.7v.7h-.7zM368.1 225.0h.7v.7h-.7zM355.6 237.8h.7v.7h-.7zM355.8 228.6h.7v.7h-.7zM372.0 217.9h.7v.7h-.7zM363.4 238.4h.7v.7h-.7zM365.4 225.9h.7v.7h-.7zM373.7 228.2h.7v.7h-.7zM375.9 229.9h.7v.7h-.7zM369.9 234.1h.7v.7h-.7zM360.4 229.9h.7v.7h-.7zM374.5 225.2h.7v.7h-.7zM368.6 222.1h.7v.7h-.7zM372.0 222.1h.7v.7h-.7zM365.2 224.7h.7v.7h-.7zM371.2 221.7h.7v.7h-.7zM361.6 221.7h.7v.7h-.7zM361.6 230.0h.7v.7h-.7zM369.6 221.8h.7v.7h-.7zM348.0 234.3h.7v.7h-.7zM357.8 232.8h.7v.7h-.7zM358.1 239.5h.7v.7h-.7zM373.3 225.5h.7v.7h-.7zM353.2 235.1h.7v.7h-.7zM369.9 220.6h.7v.7h-.7zM369.1 230.3h.7v.7h-.7zM350.6 236.7h.7v.7h-.7zM372.7 225.4h.7v.7h-.7zM375.0 227.8h.7v.7h-.7zM357.9 225.0h.7v.7h-.7zM363.6 227.8h.7v.7h-.7zM374.5 227.6h.7v.7h-.7zM376.9 229.7h.7v.7h-.7zM368.5 231.4h.7v.7h-.7zM368.8 217.9h.7v.7h-.7zM362.2 237.5h.7v.7h-.7zM374.5 229.8h.7v.7h-.7zM373.3 224.2h.7v.7h-.7zM345.6 245.0h.7v.7h-.7zM364.1 231.0h.7v.7h-.7zM368.4 217.4h.7v.7h-.7zM363.4 237.3h.7v.7h-.7zM361.4 239.1h.7v.7h-.7zM366.6 231.7h.7v.7h-.7zM371.2 227.4h.7v.7h-.7zM371.6 228.7h.7v.7h-.7zM349.4 221.1h.7v.7h-.7zM373.8 234.7h.7v.7h-.7zM360.3 227.9h.7v.7h-.7zM371.2 221.3h.7v.7h-.7zM371.3 224.4h.7v.7h-.7zM367.6 222.8h.7v.7h-.7zM374.1 229.6h.7v.7h-.7zM359.0 229.7h.7v.7h-.7zM361.8 231.1h.7v.7h-.7zM363.8 224.2h.7v.7h-.7zM374.9 237.9h.7v.7h-.7zM361.1 223.9h.7v.7h-.7zM368.5 220.7h.7v.7h-.7zM365.7 242.3h.7v.7h-.7zM372.9 223.5h.7v.7h-.7zM369.2 222.9h.7v.7h-.7zM354.5 238.0h.7v.7h-.7zM375.6 230.9h.7v.7h-.7zM365.0 233.3h.7v.7h-.7zM353.7 232.0h.7v.7h-.7zM351.2 232.2h.7v.7h-.7zM368.2 223.8h.7v.7h-.7zM367.3 227.4h.7v.7h-.7zM371.6 233.2h.7v.7h-.7zM367.1 233.9h.7v.7h-.7zM370.0 230.3h.7v.7h-.7zM363.5 231.0h.7v.7h-.7zM377.5 234.3h.7v.7h-.7zM376.5 228.5h.7v.7h-.7zM372.8 223.2h.7v.7h-.7zM366.0 223.8h.7v.7h-.7zM366.5 235.5h.7v.7h-.7zM365.5 229.4h.7v.7h-.7zM361.0 229.1h.7v.7h-.7zM341.0 234.7h.7v.7h-.7zM365.6 231.4h.7v.7h-.7zM369.5 222.8h.7v.7h-.7z" fill="#5a70f0" opacity="0.5"/>
<path d="M373.2 219.7h.7v.7h-.7zM377.1 220.4h.7v.7h-.7zM378.4 212.8h.7v.7h-.7zM373.4 215.0h.7v.7h-.7zM376.4 193.3h.7v.7h-.7zM379.5 211.5h.7v.7h-.7zM379.5 220.3h.7v.7h-.7zM377.5 207.1h.7v.7h-.7zM373.1 201.9h.7v.7h-.7zM374.5 193.7h.7v.7h-.7zM374.3 217.8h.7v.7h-.7zM375.4 206.6h.7v.7h-.7zM377.7 220.7h.7v.7h-.7zM379.9 215.9h.7v.7h-.7zM380.5 216.2h.7v.7h-.7zM376.4 216.7h.7v.7h-.7zM377.9 220.2h.7v.7h-.7zM372.5 219.8h.7v.7h-.7zM374.1 219.8h.7v.7h-.7zM372.9 218.1h.7v.7h-.7zM381.3 212.8h.7v.7h-.7zM380.9 219.1h.7v.7h-.7zM374.1 219.0h.7v.7h-.7zM381.2 205.0h.7v.7h-.7zM375.0 199.1h.7v.7h-.7zM375.9 217.1h.7v.7h-.7zM371.1 215.9h.7v.7h-.7zM371.9 215.6h.7v.7h-.7zM378.8 201.2h.7v.7h-.7zM374.8 193.4h.7v.7h-.7zM379.0 212.9h.7v.7h-.7zM378.5 214.3h.7v.7h-.7zM379.9 205.1h.7v.7h-.7zM379.6 219.9h.7v.7h-.7zM374.9 219.7h.7v.7h-.7zM371.0 218.0h.7v.7h-.7zM373.8 199.2h.7v.7h-.7zM374.9 198.6h.7v.7h-.7zM378.7 189.5h.7v.7h-.7zM377.2 217.1h.7v.7h-.7zM372.5 210.7h.7v.7h-.7zM375.8 207.8h.7v.7h-.7zM376.0 212.1h.7v.7h-.7zM375.4 211.2h.7v.7h-.7zM376.5 216.9h.7v.7h-.7z" fill="#8a96f0" opacity="0.5"/>
<g transform="translate(377.4,224.7) rotate(-22)">
<ellipse rx="10.9" ry="7.3" fill="#4a62ee" opacity="0.4"/>
<ellipse rx="8.4" ry="5.4" fill="url(#flowg)"/>
</g>
<path d="M311.6 289.2h.7v.7h-.7zM304.2 287.7h.7v.7h-.7zM304.2 287.6h.7v.7h-.7zM308.4 286.4h.7v.7h-.7zM306.5 280.8h.7v.7h-.7zM301.4 289.0h.7v.7h-.7zM310.9 285.2h.7v.7h-.7zM314.1 285.7h.7v.7h-.7zM305.5 284.6h.7v.7h-.7zM303.5 290.4h.7v.7h-.7zM299.8 294.1h.7v.7h-.7zM315.7 284.6h.7v.7h-.7zM317.7 284.9h.7v.7h-.7zM310.5 291.9h.7v.7h-.7zM307.6 292.0h.7v.7h-.7zM296.3 294.0h.7v.7h-.7zM303.1 291.0h.7v.7h-.7zM304.8 289.2h.7v.7h-.7zM311.9 283.6h.7v.7h-.7zM311.2 287.2h.7v.7h-.7zM303.1 283.0h.7v.7h-.7zM296.3 289.8h.7v.7h-.7zM313.2 291.1h.7v.7h-.7zM307.7 285.0h.7v.7h-.7zM313.5 285.8h.7v.7h-.7zM304.5 291.4h.7v.7h-.7zM306.7 285.6h.7v.7h-.7zM309.7 289.3h.7v.7h-.7zM312.5 287.6h.7v.7h-.7zM304.6 287.8h.7v.7h-.7zM315.3 286.9h.7v.7h-.7zM318.0 284.5h.7v.7h-.7zM305.1 287.4h.7v.7h-.7zM317.7 281.6h.7v.7h-.7zM316.6 282.7h.7v.7h-.7zM300.8 290.6h.7v.7h-.7zM313.1 289.4h.7v.7h-.7zM310.3 290.5h.7v.7h-.7zM314.2 282.4h.7v.7h-.7zM311.3 287.4h.7v.7h-.7zM302.5 294.2h.7v.7h-.7zM308.3 283.8h.7v.7h-.7zM303.8 288.2h.7v.7h-.7zM304.3 289.7h.7v.7h-.7zM312.2 283.5h.7v.7h-.7zM307.7 291.9h.7v.7h-.7zM309.6 287.9h.7v.7h-.7zM301.0 293.8h.7v.7h-.7zM306.7 290.1h.7v.7h-.7zM308.8 291.3h.7v.7h-.7zM309.6 290.5h.7v.7h-.7zM307.0 287.8h.7v.7h-.7zM307.1 293.6h.7v.7h-.7zM312.8 289.8h.7v.7h-.7zM314.1 285.3h.7v.7h-.7zM303.4 292.5h.7v.7h-.7zM310.8 285.5h.7v.7h-.7zM301.6 295.6h.7v.7h-.7zM298.9 292.8h.7v.7h-.7zM293.8 294.1h.7v.7h-.7zM318.3 284.1h.7v.7h-.7zM309.4 288.8h.7v.7h-.7zM303.3 289.6h.7v.7h-.7zM319.4 279.9h.7v.7h-.7zM306.7 285.5h.7v.7h-.7zM310.6 289.3h.7v.7h-.7zM307.9 289.5h.7v.7h-.7zM310.6 288.2h.7v.7h-.7zM308.4 288.6h.7v.7h-.7zM307.7 295.4h.7v.7h-.7zM310.0 281.9h.7v.7h-.7zM318.2 278.7h.7v.7h-.7zM309.9 286.7h.7v.7h-.7zM307.1 291.5h.7v.7h-.7zM309.5 286.3h.7v.7h-.7zM303.2 284.4h.7v.7h-.7zM310.4 291.6h.7v.7h-.7zM309.3 285.3h.7v.7h-.7zM304.0 286.5h.7v.7h-.7zM307.9 285.4h.7v.7h-.7zM307.8 286.9h.7v.7h-.7zM313.7 284.5h.7v.7h-.7zM306.9 291.0h.7v.7h-.7zM317.2 292.5h.7v.7h-.7zM304.5 291.5h.7v.7h-.7zM304.8 294.8h.7v.7h-.7zM317.1 288.5h.7v.7h-.7zM314.8 289.6h.7v.7h-.7zM303.6 292.1h.7v.7h-.7zM312.0 291.1h.7v.7h-.7zM312.6 290.4h.7v.7h-.7zM300.1 286.0h.7v.7h-.7zM316.7 281.4h.7v.7h-.7zM315.0 288.5h.7v.7h-.7zM317.0 285.4h.7v.7h-.7zM310.3 284.9h.7v.7h-.7zM317.5 282.9h.7v.7h-.7zM306.1 292.7h.7v.7h-.7zM309.8 278.6h.7v.7h-.7zM299.0 292.1h.7v.7h-.7zM313.9 280.4h.7v.7h-.7zM303.7 295.6h.7v.7h-.7zM301.0 295.2h.7v.7h-.7zM305.5 291.5h.7v.7h-.7zM310.8 285.9h.7v.7h-.7zM312.4 282.9h.7v.7h-.7zM306.0 284.6h.7v.7h-.7zM305.6 284.5h.7v.7h-.7zM312.0 287.1h.7v.7h-.7zM305.9 287.1h.7v.7h-.7zM309.8 285.7h.7v.7h-.7zM298.3 290.5h.7v.7h-.7zM307.2 285.8h.7v.7h-.7zM315.8 285.8h.7v.7h-.7zM307.0 288.7h.7v.7h-.7zM315.0 286.5h.7v.7h-.7zM312.5 284.9h.7v.7h-.7zM311.3 284.2h.7v.7h-.7zM308.8 286.1h.7v.7h-.7zM309.3 287.5h.7v.7h-.7zM305.7 284.3h.7v.7h-.7zM306.5 281.8h.7v.7h-.7zM307.3 286.1h.7v.7h-.7zM307.3 287.9h.7v.7h-.7zM308.3 283.8h.7v.7h-.7zM299.4 294.3h.7v.7h-.7zM314.7 282.8h.7v.7h-.7zM303.2 294.9h.7v.7h-.7zM309.3 284.4h.7v.7h-.7zM298.4 295.6h.7v.7h-.7zM318.5 279.9h.7v.7h-.7zM305.7 288.9h.7v.7h-.7zM310.2 284.4h.7v.7h-.7zM303.7 287.9h.7v.7h-.7zM309.8 283.4h.7v.7h-.7zM303.9 294.5h.7v.7h-.7zM300.3 279.7h.7v.7h-.7zM310.8 286.8h.7v.7h-.7zM304.3 285.9h.7v.7h-.7zM311.5 282.7h.7v.7h-.7zM314.1 284.6h.7v.7h-.7zM311.3 291.4h.7v.7h-.7zM308.9 280.2h.7v.7h-.7zM314.4 286.1h.7v.7h-.7zM316.7 290.9h.7v.7h-.7zM314.3 287.4h.7v.7h-.7zM306.7 285.8h.7v.7h-.7zM305.9 287.7h.7v.7h-.7zM312.5 285.4h.7v.7h-.7zM313.7 285.4h.7v.7h-.7zM300.5 284.8h.7v.7h-.7zM309.8 290.1h.7v.7h-.7zM305.6 285.9h.7v.7h-.7zM308.1 290.3h.7v.7h-.7zM309.4 283.5h.7v.7h-.7zM307.8 285.4h.7v.7h-.7zM308.2 289.8h.7v.7h-.7zM309.7 288.2h.7v.7h-.7zM303.2 294.1h.7v.7h-.7zM296.3 285.4h.7v.7h-.7zM308.0 290.0h.7v.7h-.7zM310.5 289.7h.7v.7h-.7zM316.5 286.3h.7v.7h-.7zM307.4 288.1h.7v.7h-.7zM303.3 290.0h.7v.7h-.7zM311.0 288.1h.7v.7h-.7zM295.3 284.3h.7v.7h-.7zM304.8 287.6h.7v.7h-.7zM312.8 284.9h.7v.7h-.7zM310.3 289.4h.7v.7h-.7zM305.1 289.9h.7v.7h-.7zM317.1 288.4h.7v.7h-.7zM314.8 281.2h.7v.7h-.7zM313.1 282.1h.7v.7h-.7zM306.4 284.5h.7v.7h-.7zM301.0 285.9h.7v.7h-.7zM303.4 284.1h.7v.7h-.7zM304.1 287.6h.7v.7h-.7zM308.5 279.9h.7v.7h-.7zM309.6 288.3h.7v.7h-.7zM312.0 284.9h.7v.7h-.7zM310.7 287.7h.7v.7h-.7zM311.7 287.6h.7v.7h-.7zM317.8 288.9h.7v.7h-.7zM309.2 286.7h.7v.7h-.7zM311.8 283.3h.7v.7h-.7zM307.0 284.8h.7v.7h-.7zM309.8 286.2h.7v.7h-.7zM309.5 285.8h.7v.7h-.7zM305.3 289.8h.7v.7h-.7zM304.4 286.9h.7v.7h-.7zM308.6 284.6h.7v.7h-.7zM294.5 293.4h.7v.7h-.7zM296.1 293.0h.7v.7h-.7zM318.7 282.7h.7v.7h-.7zM299.3 300.2h.7v.7h-.7zM306.1 285.9h.7v.7h-.7zM307.8 285.3h.7v.7h-.7zM300.3 291.1h.7v.7h-.7zM309.7 287.2h.7v.7h-.7zM309.2 284.6h.7v.7h-.7zM307.0 284.0h.7v.7h-.7zM314.5 289.6h.7v.7h-.7zM306.7 290.0h.7v.7h-.7zM317.0 275.4h.7v.7h-.7zM305.8 296.8h.7v.7h-.7zM316.7 285.7h.7v.7h-.7zM304.7 288.0h.7v.7h-.7zM305.9 290.4h.7v.7h-.7zM304.7 286.1h.7v.7h-.7zM303.1 292.6h.7v.7h-.7zM307.8 288.6h.7v.7h-.7zM299.0 293.2h.7v.7h-.7zM309.9 288.8h.7v.7h-.7zM310.3 284.7h.7v.7h-.7zM312.0 284.0h.7v.7h-.7zM312.8 289.6h.7v.7h-.7zM311.4 282.7h.7v.7h-.7zM308.9 288.5h.7v.7h-.7zM315.9 282.6h.7v.7h-.7zM306.8 285.0h.7v.7h-.7zM300.9 292.7h.7v.7h-.7zM303.8 284.9h.7v.7h-.7zM310.9 284.2h.7v.7h-.7zM314.6 282.3h.7v.7h-.7zM307.5 292.3h.7v.7h-.7zM308.3 290.4h.7v.7h-.7zM309.7 280.6h.7v.7h-.7zM299.7 288.8h.7v.7h-.7zM310.4 283.2h.7v.7h-.7zM320.1 283.4h.7v.7h-.7zM313.8 285.0h.7v.7h-.7zM314.3 285.9h.7v.7h-.7zM308.2 286.2h.7v.7h-.7zM303.6 290.1h.7v.7h-.7zM300.6 285.4h.7v.7h-.7zM307.1 286.7h.7v.7h-.7zM306.6 291.2h.7v.7h-.7zM316.0 288.1h.7v.7h-.7zM306.7 290.6h.7v.7h-.7zM311.6 289.2h.7v.7h-.7zM308.5 285.4h.7v.7h-.7zM304.4 289.5h.7v.7h-.7zM313.4 285.2h.7v.7h-.7zM302.5 287.1h.7v.7h-.7zM315.7 282.3h.7v.7h-.7zM314.3 281.0h.7v.7h-.7zM301.3 284.6h.7v.7h-.7zM311.7 280.6h.7v.7h-.7zM307.7 289.9h.7v.7h-.7zM308.8 286.1h.7v.7h-.7zM303.3 294.4h.7v.7h-.7zM308.7 290.8h.7v.7h-.7zM306.3 292.4h.7v.7h-.7zM308.7 285.7h.7v.7h-.7zM302.2 294.6h.7v.7h-.7zM299.5 297.5h.7v.7h-.7zM309.5 290.4h.7v.7h-.7zM315.6 288.7h.7v.7h-.7zM300.0 293.1h.7v.7h-.7zM305.9 286.1h.7v.7h-.7zM309.0 285.6h.7v.7h-.7zM314.6 280.4h.7v.7h-.7zM310.6 290.1h.7v.7h-.7zM306.7 291.2h.7v.7h-.7zM312.8 283.0h.7v.7h-.7zM306.9 287.4h.7v.7h-.7zM314.1 284.8h.7v.7h-.7zM300.4 295.8h.7v.7h-.7zM298.0 290.4h.7v.7h-.7zM297.0 290.5h.7v.7h-.7zM308.3 287.8h.7v.7h-.7zM306.2 283.3h.7v.7h-.7zM310.5 288.0h.7v.7h-.7zM299.0 294.2h.7v.7h-.7zM304.5 286.2h.7v.7h-.7zM303.8 288.5h.7v.7h-.7zM306.6 289.5h.7v.7h-.7zM307.7 286.7h.7v.7h-.7zM306.3 288.1h.7v.7h-.7zM315.5 287.1h.7v.7h-.7zM310.7 282.4h.7v.7h-.7zM315.1 281.6h.7v.7h-.7zM301.6 290.1h.7v.7h-.7zM310.6 285.7h.7v.7h-.7zM306.9 284.6h.7v.7h-.7zM311.7 284.4h.7v.7h-.7zM308.8 289.1h.7v.7h-.7zM313.0 282.3h.7v.7h-.7zM308.9 288.0h.7v.7h-.7zM307.5 287.2h.7v.7h-.7zM309.5 284.8h.7v.7h-.7zM306.0 281.6h.7v.7h-.7zM308.9 291.2h.7v.7h-.7zM304.8 285.7h.7v.7h-.7zM301.7 295.0h.7v.7h-.7zM310.2 290.4h.7v.7h-.7zM314.6 283.3h.7v.7h-.7zM312.8 283.6h.7v.7h-.7zM306.6 285.0h.7v.7h-.7zM306.1 290.9h.7v.7h-.7zM310.5 283.6h.7v.7h-.7zM314.7 284.3h.7v.7h-.7zM301.7 288.8h.7v.7h-.7zM304.7 289.9h.7v.7h-.7zM306.5 285.6h.7v.7h-.7zM309.2 288.7h.7v.7h-.7zM311.8 285.7h.7v.7h-.7zM304.8 286.1h.7v.7h-.7zM305.4 289.6h.7v.7h-.7zM310.4 291.0h.7v.7h-.7zM310.5 285.0h.7v.7h-.7zM300.3 283.9h.7v.7h-.7zM297.8 291.6h.7v.7h-.7zM314.4 288.8h.7v.7h-.7zM311.6 286.5h.7v.7h-.7zM308.8 286.9h.7v.7h-.7zM307.2 284.5h.7v.7h-.7zM305.3 293.2h.7v.7h-.7zM311.3 292.0h.7v.7h-.7z" fill="#3a50e6" opacity="0.6"/>
<path d="M300.7 303.0h.7v.7h-.7zM296.7 290.5h.7v.7h-.7zM287.1 296.9h.7v.7h-.7zM298.1 292.3h.7v.7h-.7zM300.2 294.1h.7v.7h-.7zM295.4 297.1h.7v.7h-.7zM299.6 289.4h.7v.7h-.7zM298.5 292.0h.7v.7h-.7zM303.8 290.4h.7v.7h-.7zM292.4 295.4h.7v.7h-.7zM287.3 295.3h.7v.7h-.7zM298.4 292.8h.7v.7h-.7zM296.3 293.2h.7v.7h-.7zM304.8 294.2h.7v.7h-.7zM302.8 287.2h.7v.7h-.7zM307.1 289.7h.7v.7h-.7zM296.8 292.8h.7v.7h-.7zM303.9 287.3h.7v.7h-.7zM301.5 289.7h.7v.7h-.7zM306.0 290.5h.7v.7h-.7zM294.0 290.3h.7v.7h-.7zM290.7 301.3h.7v.7h-.7zM296.4 286.0h.7v.7h-.7zM298.1 289.6h.7v.7h-.7zM292.8 300.7h.7v.7h-.7zM306.0 291.7h.7v.7h-.7zM282.8 302.8h.7v.7h-.7zM292.7 289.9h.7v.7h-.7zM291.3 300.2h.7v.7h-.7zM298.7 291.0h.7v.7h-.7zM307.0 294.5h.7v.7h-.7zM290.6 294.3h.7v.7h-.7zM294.4 297.3h.7v.7h-.7zM304.2 292.4h.7v.7h-.7zM295.0 297.4h.7v.7h-.7zM307.4 291.6h.7v.7h-.7zM285.0 301.6h.7v.7h-.7zM307.1 293.5h.7v.7h-.7zM293.7 290.2h.7v.7h-.7zM301.3 288.8h.7v.7h-.7zM303.5 288.8h.7v.7h-.7zM291.5 299.4h.7v.7h-.7zM298.0 291.0h.7v.7h-.7zM297.1 287.9h.7v.7h-.7zM291.5 299.8h.7v.7h-.7zM302.9 288.4h.7v.7h-.7zM304.0 294.0h.7v.7h-.7zM281.2 299.7h.7v.7h-.7zM304.4 293.6h.7v.7h-.7zM304.8 290.3h.7v.7h-.7zM305.9 298.7h.7v.7h-.7zM300.3 290.4h.7v.7h-.7zM294.3 291.3h.7v.7h-.7zM289.3 301.7h.7v.7h-.7zM300.7 293.7h.7v.7h-.7zM292.9 303.2h.7v.7h-.7zM301.3 286.8h.7v.7h-.7zM291.9 301.9h.7v.7h-.7zM298.9 284.1h.7v.7h-.7zM291.6 295.2h.7v.7h-.7zM288.6 299.8h.7v.7h-.7zM297.0 300.6h.7v.7h-.7zM304.9 293.7h.7v.7h-.7zM305.7 288.3h.7v.7h-.7zM300.1 299.2h.7v.7h-.7zM291.2 303.3h.7v.7h-.7z" fill="#5a70f0" opacity="0.5"/>
<g transform="translate(308.4,287.0) rotate(-32)">
<ellipse rx="10.4" ry="5.7" fill="#4a62ee" opacity="0.4"/>
<ellipse rx="8.0" ry="4.2" fill="url(#flowg)"/>
</g>
<path d="M375.6 285.6h.7v.7h-.7zM372.4 289.9h.7v.7h-.7zM371.0 284.8h.7v.7h-.7zM375.2 288.6h.7v.7h-.7zM378.9 285.1h.7v.7h-.7zM368.6 285.6h.7v.7h-.7zM375.8 288.7h.7v.7h-.7zM374.8 288.2h.7v.7h-.7zM380.0 289.1h.7v.7h-.7zM382.4 290.4h.7v.7h-.7zM375.9 283.9h.7v.7h-.7zM379.3 286.5h.7v.7h-.7zM376.2 291.3h.7v.7h-.7zM369.0 289.7h.7v.7h-.7zM377.9 291.7h.7v.7h-.7zM374.6 291.3h.7v.7h-.7zM386.7 286.3h.7v.7h-.7zM383.3 286.1h.7v.7h-.7zM379.7 291.0h.7v.7h-.7zM372.2 282.8h.7v.7h-.7zM381.1 282.0h.7v.7h-.7zM377.4 288.2h.7v.7h-.7zM386.5 290.8h.7v.7h-.7zM374.4 291.6h.7v.7h-.7zM375.4 291.4h.7v.7h-.7zM380.0 289.7h.7v.7h-.7zM371.8 290.8h.7v.7h-.7zM380.1 287.3h.7v.7h-.7zM383.7 285.9h.7v.7h-.7zM368.3 284.7h.7v.7h-.7zM372.5 292.9h.7v.7h-.7zM377.2 282.9h.7v.7h-.7zM374.2 288.4h.7v.7h-.7zM371.7 284.0h.7v.7h-.7zM376.8 293.6h.7v.7h-.7zM378.7 289.1h.7v.7h-.7zM375.6 292.9h.7v.7h-.7zM374.9 290.7h.7v.7h-.7zM385.2 283.2h.7v.7h-.7zM377.5 289.2h.7v.7h-.7zM371.6 281.0h.7v.7h-.7zM373.7 283.1h.7v.7h-.7zM385.2 283.3h.7v.7h-.7zM382.9 288.7h.7v.7h-.7zM372.9 292.8h.7v.7h-.7zM383.3 290.1h.7v.7h-.7zM375.1 285.5h.7v.7h-.7zM372.9 286.9h.7v.7h-.7zM373.2 285.4h.7v.7h-.7zM382.9 284.3h.7v.7h-.7zM379.5 287.2h.7v.7h-.7zM375.9 286.6h.7v.7h-.7zM376.3 283.4h.7v.7h-.7zM375.4 291.9h.7v.7h-.7zM379.7 282.5h.7v.7h-.7zM372.9 291.8h.7v.7h-.7zM371.4 288.0h.7v.7h-.7zM374.6 284.8h.7v.7h-.7zM377.5 289.7h.7v.7h-.7zM374.3 289.7h.7v.7h-.7zM379.4 289.3h.7v.7h-.7zM372.4 296.7h.7v.7h-.7zM372.9 289.3h.7v.7h-.7zM371.7 290.7h.7v.7h-.7zM387.6 286.0h.7v.7h-.7zM360.5 293.9h.7v.7h-.7zM373.9 286.9h.7v.7h-.7zM380.0 286.5h.7v.7h-.7zM379.6 288.8h.7v.7h-.7zM379.7 288.6h.7v.7h-.7zM379.4 285.6h.7v.7h-.7zM374.4 289.1h.7v.7h-.7zM377.1 289.5h.7v.7h-.7zM375.2 291.0h.7v.7h-.7zM370.7 278.1h.7v.7h-.7zM381.1 290.5h.7v.7h-.7zM362.7 285.6h.7v.7h-.7zM385.5 286.8h.7v.7h-.7zM373.1 292.2h.7v.7h-.7zM372.8 283.6h.7v.7h-.7zM371.5 295.0h.7v.7h-.7zM373.4 287.9h.7v.7h-.7zM379.5 289.4h.7v.7h-.7zM378.9 279.6h.7v.7h-.7zM382.8 290.1h.7v.7h-.7zM379.4 287.6h.7v.7h-.7zM372.8 284.8h.7v.7h-.7zM372.8 291.4h.7v.7h-.7zM372.7 290.7h.7v.7h-.7zM377.9 296.8h.7v.7h-.7zM384.8 287.0h.7v.7h-.7zM380.9 289.8h.7v.7h-.7zM380.5 287.0h.7v.7h-.7zM376.1 287.6h.7v.7h-.7zM371.9 292.8h.7v.7h-.7zM374.8 287.9h.7v.7h-.7zM373.7 290.9h.7v.7h-.7zM378.3 279.6h.7v.7h-.7zM368.1 287.6h.7v.7h-.7zM366.5 297.9h.7v.7h-.7zM372.1 281.4h.7v.7h-.7zM383.6 290.6h.7v.7h-.7zM371.4 284.6h.7v.7h-.7zM379.9 284.9h.7v.7h-.7zM383.8 288.7h.7v.7h-.7zM383.6 295.8h.7v.7h-.7zM381.9 283.4h.7v.7h-.7zM378.2 282.1h.7v.7h-.7zM382.4 283.0h.7v.7h-.7zM386.4 296.2h.7v.7h-.7zM377.8 289.5h.7v.7h-.7zM376.8 282.1h.7v.7h-.7zM379.2 284.8h.7v.7h-.7zM385.3 281.0h.7v.7h-.7zM376.6 287.5h.7v.7h-.7zM376.5 284.1h.7v.7h-.7zM381.5 288.8h.7v.7h-.7zM381.5 284.9h.7v.7h-.7zM366.6 294.0h.7v.7h-.7zM374.8 284.9h.7v.7h-.7zM375.5 292.9h.7v.7h-.7zM368.4 289.8h.7v.7h-.7zM374.6 286.8h.7v.7h-.7zM382.5 280.4h.7v.7h-.7zM374.3 288.9h.7v.7h-.7zM367.8 293.9h.7v.7h-.7zM378.0 291.0h.7v.7h-.7zM372.0 283.6h.7v.7h-.7zM378.8 283.6h.7v.7h-.7zM376.0 285.4h.7v.7h-.7zM386.0 286.1h.7v.7h-.7zM381.2 294.5h.7v.7h-.7zM376.3 291.5h.7v.7h-.7zM377.9 286.7h.7v.7h-.7zM381.9 285.2h.7v.7h-.7zM382.5 286.6h.7v.7h-.7zM381.1 288.4h.7v.7h-.7zM370.4 290.5h.7v.7h-.7zM389.2 296.3h.7v.7h-.7zM379.5 288.4h.7v.7h-.7zM377.4 287.7h.7v.7h-.7zM379.1 285.4h.7v.7h-.7zM385.1 285.1h.7v.7h-.7zM376.5 289.8h.7v.7h-.7zM374.2 289.5h.7v.7h-.7zM383.9 287.4h.7v.7h-.7zM379.1 290.8h.7v.7h-.7zM360.4 295.1h.7v.7h-.7zM370.7 287.1h.7v.7h-.7zM376.9 292.2h.7v.7h-.7zM379.1 294.9h.7v.7h-.7zM385.6 281.1h.7v.7h-.7zM371.2 293.6h.7v.7h-.7zM377.1 294.8h.7v.7h-.7zM380.3 285.8h.7v.7h-.7zM394.6 287.3h.7v.7h-.7zM367.7 288.5h.7v.7h-.7zM381.0 280.2h.7v.7h-.7zM381.3 288.0h.7v.7h-.7zM371.9 295.9h.7v.7h-.7zM376.0 285.4h.7v.7h-.7zM385.6 290.0h.7v.7h-.7zM378.0 286.8h.7v.7h-.7zM376.7 289.7h.7v.7h-.7zM376.6 288.3h.7v.7h-.7zM375.4 290.1h.7v.7h-.7zM392.2 285.4h.7v.7h-.7zM387.3 291.3h.7v.7h-.7zM375.3 284.8h.7v.7h-.7zM374.6 291.6h.7v.7h-.7zM378.1 292.7h.7v.7h-.7zM383.7 289.2h.7v.7h-.7zM373.9 289.2h.7v.7h-.7zM381.4 285.2h.7v.7h-.7zM369.7 286.1h.7v.7h-.7zM375.0 283.3h.7v.7h-.7zM372.2 290.9h.7v.7h-.7zM376.8 286.5h.7v.7h-.7zM366.7 289.0h.7v.7h-.7zM371.9 291.3h.7v.7h-.7zM371.6 283.4h.7v.7h-.7zM375.7 293.3h.7v.7h-.7zM378.6 282.0h.7v.7h-.7zM386.5 297.1h.7v.7h-.7zM374.7 293.7h.7v.7h-.7zM385.9 286.3h.7v.7h-.7zM365.2 289.7h.7v.7h-.7zM377.8 288.4h.7v.7h-.7zM375.9 292.1h.7v.7h-.7zM374.4 285.7h.7v.7h-.7zM376.0 280.3h.7v.7h-.7zM393.8 283.5h.7v.7h-.7zM381.7 287.2h.7v.7h-.7zM387.2 287.4h.7v.7h-.7zM381.2 285.2h.7v.7h-.7zM363.1 289.1h.7v.7h-.7zM376.8 284.8h.7v.7h-.7zM366.4 294.3h.7v.7h-.7zM380.6 283.0h.7v.7h-.7zM375.3 287.8h.7v.7h-.7zM371.1 294.7h.7v.7h-.7zM381.1 286.9h.7v.7h-.7zM376.3 287.8h.7v.7h-.7zM383.4 291.4h.7v.7h-.7zM381.4 290.5h.7v.7h-.7zM382.9 283.6h.7v.7h-.7zM376.2 286.8h.7v.7h-.7zM370.5 289.6h.7v.7h-.7zM371.4 290.6h.7v.7h-.7zM385.1 286.9h.7v.7h-.7zM374.2 294.1h.7v.7h-.7zM380.1 295.6h.7v.7h-.7zM368.0 293.3h.7v.7h-.7zM372.8 289.1h.7v.7h-.7zM373.8 290.5h.7v.7h-.7zM372.1 289.1h.7v.7h-.7zM380.3 300.9h.7v.7h-.7zM383.5 284.3h.7v.7h-.7zM367.1 288.9h.7v.7h-.7zM372.5 286.6h.7v.7h-.7zM367.6 291.5h.7v.7h-.7zM383.1 287.0h.7v.7h-.7zM384.4 287.5h.7v.7h-.7zM383.4 286.0h.7v.7h-.7zM381.7 288.7h.7v.7h-.7zM381.2 285.7h.7v.7h-.7zM372.4 295.0h.7v.7h-.7zM379.4 289.7h.7v.7h-.7zM371.8 292.7h.7v.7h-.7zM379.6 289.8h.7v.7h-.7zM381.8 287.1h.7v.7h-.7zM373.0 293.0h.7v.7h-.7zM377.2 292.6h.7v.7h-.7zM377.2 284.5h.7v.7h-.7zM373.2 282.7h.7v.7h-.7zM384.3 281.9h.7v.7h-.7zM370.8 285.9h.7v.7h-.7zM371.0 296.2h.7v.7h-.7zM380.6 290.0h.7v.7h-.7zM383.2 288.8h.7v.7h-.7zM382.6 282.2h.7v.7h-.7zM388.9 283.9h.7v.7h-.7zM381.1 287.1h.7v.7h-.7zM376.3 288.3h.7v.7h-.7zM377.5 281.7h.7v.7h-.7zM384.6 283.5h.7v.7h-.7zM374.3 290.2h.7v.7h-.7zM376.1 293.5h.7v.7h-.7zM378.4 285.0h.7v.7h-.7zM369.3 290.0h.7v.7h-.7zM380.6 292.8h.7v.7h-.7zM377.7 291.3h.7v.7h-.7zM384.4 294.5h.7v.7h-.7zM382.2 286.6h.7v.7h-.7zM371.4 287.0h.7v.7h-.7zM380.1 291.4h.7v.7h-.7zM371.0 291.2h.7v.7h-.7zM374.6 289.7h.7v.7h-.7zM374.6 285.4h.7v.7h-.7zM377.9 284.0h.7v.7h-.7zM379.4 284.6h.7v.7h-.7zM365.6 283.8h.7v.7h-.7zM376.8 295.0h.7v.7h-.7zM376.9 287.8h.7v.7h-.7zM372.2 287.7h.7v.7h-.7zM387.4 286.8h.7v.7h-.7zM370.1 281.6h.7v.7h-.7zM381.9 288.7h.7v.7h-.7zM372.3 288.0h.7v.7h-.7zM382.1 288.6h.7v.7h-.7zM372.3 291.7h.7v.7h-.7zM372.6 291.2h.7v.7h-.7zM369.1 291.0h.7v.7h-.7zM379.1 291.7h.7v.7h-.7zM380.6 280.5h.7v.7h-.7zM377.0 278.8h.7v.7h-.7zM367.3 292.4h.7v.7h-.7zM377.4 284.0h.7v.7h-.7zM376.4 283.4h.7v.7h-.7zM374.1 288.1h.7v.7h-.7zM375.7 284.7h.7v.7h-.7zM372.1 292.0h.7v.7h-.7zM374.5 277.7h.7v.7h-.7zM381.3 281.7h.7v.7h-.7zM377.3 292.6h.7v.7h-.7zM372.9 286.8h.7v.7h-.7zM380.7 284.5h.7v.7h-.7zM362.3 292.0h.7v.7h-.7zM380.2 290.7h.7v.7h-.7zM387.0 279.2h.7v.7h-.7zM370.2 292.8h.7v.7h-.7zM375.0 287.9h.7v.7h-.7zM385.5 280.2h.7v.7h-.7zM380.2 285.2h.7v.7h-.7zM367.0 289.8h.7v.7h-.7zM382.0 279.6h.7v.7h-.7zM385.9 286.3h.7v.7h-.7zM376.4 290.0h.7v.7h-.7zM375.2 288.5h.7v.7h-.7zM376.9 292.0h.7v.7h-.7zM374.2 291.1h.7v.7h-.7zM371.1 290.7h.7v.7h-.7zM380.5 288.8h.7v.7h-.7zM377.1 288.5h.7v.7h-.7zM365.3 291.3h.7v.7h-.7zM380.6 294.9h.7v.7h-.7zM374.5 292.1h.7v.7h-.7zM377.0 283.5h.7v.7h-.7zM365.2 292.8h.7v.7h-.7zM383.4 287.2h.7v.7h-.7zM376.9 292.4h.7v.7h-.7zM368.8 289.2h.7v.7h-.7zM377.1 296.8h.7v.7h-.7zM385.7 282.3h.7v.7h-.7zM368.2 286.9h.7v.7h-.7zM385.2 286.4h.7v.7h-.7zM373.2 290.5h.7v.7h-.7zM374.0 285.5h.7v.7h-.7zM379.0 285.9h.7v.7h-.7zM378.5 291.9h.7v.7h-.7z" fill="#3a50e6" opacity="0.6"/>
<path d="M372.5 291.7h.7v.7h-.7zM370.2 286.9h.7v.7h-.7zM365.5 298.6h.7v.7h-.7zM363.5 287.7h.7v.7h-.7zM367.7 288.6h.7v.7h-.7zM356.5 291.2h.7v.7h-.7zM368.4 285.2h.7v.7h-.7zM375.9 294.2h.7v.7h-.7zM365.0 297.6h.7v.7h-.7zM371.5 292.8h.7v.7h-.7zM369.2 290.1h.7v.7h-.7zM369.8 296.3h.7v.7h-.7zM356.2 299.5h.7v.7h-.7zM360.5 293.8h.7v.7h-.7zM366.4 287.8h.7v.7h-.7zM365.5 289.3h.7v.7h-.7zM364.4 288.4h.7v.7h-.7zM376.9 293.4h.7v.7h-.7zM373.5 288.2h.7v.7h-.7zM356.0 296.0h.7v.7h-.7zM366.0 292.2h.7v.7h-.7zM377.2 292.6h.7v.7h-.7zM370.5 283.2h.7v.7h-.7zM364.1 293.1h.7v.7h-.7zM370.3 292.0h.7v.7h-.7zM364.7 298.4h.7v.7h-.7zM348.1 300.9h.7v.7h-.7zM363.1 294.1h.7v.7h-.7zM373.8 295.4h.7v.7h-.7zM376.8 295.0h.7v.7h-.7zM352.5 300.7h.7v.7h-.7zM353.0 292.5h.7v.7h-.7zM372.6 287.0h.7v.7h-.7zM363.0 288.7h.7v.7h-.7zM369.8 285.2h.7v.7h-.7zM371.8 285.6h.7v.7h-.7zM369.1 291.6h.7v.7h-.7zM365.1 292.5h.7v.7h-.7zM371.7 292.4h.7v.7h-.7zM354.3 294.3h.7v.7h-.7zM372.2 290.5h.7v.7h-.7zM375.1 288.2h.7v.7h-.7zM373.6 283.7h.7v.7h-.7zM374.5 289.6h.7v.7h-.7zM359.8 285.8h.7v.7h-.7zM354.0 300.5h.7v.7h-.7zM372.9 293.8h.7v.7h-.7zM369.3 292.4h.7v.7h-.7zM361.4 293.8h.7v.7h-.7zM358.9 295.2h.7v.7h-.7zM370.4 294.5h.7v.7h-.7zM369.7 286.5h.7v.7h-.7zM376.7 298.3h.7v.7h-.7zM377.6 300.4h.7v.7h-.7zM371.4 290.5h.7v.7h-.7zM359.3 294.7h.7v.7h-.7zM354.9 293.7h.7v.7h-.7zM372.3 299.9h.7v.7h-.7zM374.7 299.1h.7v.7h-.7zM350.6 298.7h.7v.7h-.7zM354.4 294.8h.7v.7h-.7zM369.1 295.6h.7v.7h-.7zM363.8 290.2h.7v.7h-.7zM374.2 294.7h.7v.7h-.7zM372.9 291.0h.7v.7h-.7zM374.0 288.7h.7v.7h-.7zM368.0 294.1h.7v.7h-.7zM370.7 285.7h.7v.7h-.7zM361.0 297.1h.7v.7h-.7zM370.8 295.6h.7v.7h-.7zM373.2 294.4h.7v.7h-.7zM361.5 282.4h.7v.7h-.7zM354.6 294.1h.7v.7h-.7zM364.1 294.5h.7v.7h-.7zM369.3 294.8h.7v.7h-.7zM359.0 296.9h.7v.7h-.7zM360.0 295.0h.7v.7h-.7zM358.4 298.4h.7v.7h-.7zM358.6 292.1h.7v.7h-.7zM365.5 278.0h.7v.7h-.7zM366.5 289.9h.7v.7h-.7zM364.0 289.3h.7v.7h-.7zM363.1 292.8h.7v.7h-.7zM365.3 293.1h.7v.7h-.7zM352.3 299.8h.7v.7h-.7zM374.0 287.3h.7v.7h-.7zM357.4 287.4h.7v.7h-.7zM361.9 288.4h.7v.7h-.7zM364.2 293.6h.7v.7h-.7zM373.7 291.1h.7v.7h-.7zM374.0 292.5h.7v.7h-.7zM366.2 294.5h.7v.7h-.7zM367.9 306.8h.7v.7h-.7zM375.8 293.5h.7v.7h-.7zM369.1 286.6h.7v.7h-.7zM361.9 296.0h.7v.7h-.7zM366.8 299.8h.7v.7h-.7zM371.8 294.1h.7v.7h-.7zM359.0 294.6h.7v.7h-.7zM373.1 290.8h.7v.7h-.7zM373.4 285.4h.7v.7h-.7zM354.6 293.1h.7v.7h-.7zM370.8 290.0h.7v.7h-.7zM375.8 289.4h.7v.7h-.7zM361.4 290.8h.7v.7h-.7zM372.2 284.9h.7v.7h-.7zM353.8 291.2h.7v.7h-.7zM368.3 285.6h.7v.7h-.7zM362.2 291.1h.7v.7h-.7zM351.1 298.6h.7v.7h-.7zM367.0 294.5h.7v.7h-.7zM362.7 301.3h.7v.7h-.7zM362.3 289.9h.7v.7h-.7zM350.9 297.6h.7v.7h-.7zM366.3 287.8h.7v.7h-.7zM376.1 299.0h.7v.7h-.7zM364.5 281.9h.7v.7h-.7zM353.6 304.4h.7v.7h-.7zM367.7 293.6h.7v.7h-.7zM355.6 293.4h.7v.7h-.7zM372.3 294.2h.7v.7h-.7zM375.1 295.9h.7v.7h-.7zM367.5 285.0h.7v.7h-.7zM372.5 290.8h.7v.7h-.7zM366.0 302.7h.7v.7h-.7zM371.7 283.0h.7v.7h-.7zM364.6 290.2h.7v.7h-.7zM367.8 292.0h.7v.7h-.7zM375.1 289.5h.7v.7h-.7zM370.6 294.1h.7v.7h-.7zM366.4 295.1h.7v.7h-.7zM370.7 284.1h.7v.7h-.7zM362.1 289.8h.7v.7h-.7zM371.7 295.1h.7v.7h-.7zM371.9 287.2h.7v.7h-.7zM363.2 280.4h.7v.7h-.7zM370.4 282.6h.7v.7h-.7zM374.4 288.2h.7v.7h-.7zM364.2 291.2h.7v.7h-.7zM372.4 294.5h.7v.7h-.7zM359.0 297.3h.7v.7h-.7zM367.3 294.7h.7v.7h-.7zM347.6 309.1h.7v.7h-.7zM376.4 294.7h.7v.7h-.7zM366.1 292.8h.7v.7h-.7zM373.8 289.7h.7v.7h-.7zM361.4 289.1h.7v.7h-.7zM363.5 294.5h.7v.7h-.7zM368.1 295.3h.7v.7h-.7zM373.2 285.9h.7v.7h-.7zM367.2 286.5h.7v.7h-.7zM349.2 288.9h.7v.7h-.7zM369.4 298.4h.7v.7h-.7zM362.6 290.6h.7v.7h-.7zM376.2 297.2h.7v.7h-.7zM372.7 290.0h.7v.7h-.7zM369.6 289.2h.7v.7h-.7zM374.1 285.8h.7v.7h-.7zM362.6 295.5h.7v.7h-.7zM375.8 295.1h.7v.7h-.7zM365.2 292.3h.7v.7h-.7zM351.6 290.1h.7v.7h-.7zM364.0 301.8h.7v.7h-.7zM359.9 291.3h.7v.7h-.7zM367.1 293.0h.7v.7h-.7zM375.7 294.6h.7v.7h-.7zM371.9 301.7h.7v.7h-.7zM370.7 290.0h.7v.7h-.7zM368.6 286.2h.7v.7h-.7zM362.6 293.0h.7v.7h-.7zM368.4 296.1h.7v.7h-.7zM366.0 290.0h.7v.7h-.7zM375.8 293.3h.7v.7h-.7zM371.5 296.9h.7v.7h-.7zM356.5 293.5h.7v.7h-.7zM363.2 287.8h.7v.7h-.7zM375.8 293.7h.7v.7h-.7zM360.9 300.0h.7v.7h-.7zM359.3 291.2h.7v.7h-.7zM365.3 292.4h.7v.7h-.7zM355.4 294.2h.7v.7h-.7zM360.0 294.8h.7v.7h-.7zM368.9 292.9h.7v.7h-.7zM351.8 294.6h.7v.7h-.7zM374.9 294.8h.7v.7h-.7zM373.7 291.5h.7v.7h-.7zM373.7 296.9h.7v.7h-.7zM368.2 295.6h.7v.7h-.7zM359.5 293.8h.7v.7h-.7zM360.4 289.2h.7v.7h-.7zM361.0 289.5h.7v.7h-.7zM350.6 294.0h.7v.7h-.7zM362.8 295.8h.7v.7h-.7zM362.4 297.4h.7v.7h-.7zM350.3 292.5h.7v.7h-.7zM368.3 293.0h.7v.7h-.7zM371.2 281.0h.7v.7h-.7zM370.3 287.2h.7v.7h-.7zM361.3 291.1h.7v.7h-.7zM360.7 286.3h.7v.7h-.7zM366.5 286.8h.7v.7h-.7zM371.5 287.8h.7v.7h-.7zM371.3 278.0h.7v.7h-.7zM361.0 289.5h.7v.7h-.7zM372.1 282.1h.7v.7h-.7zM364.0 300.8h.7v.7h-.7zM372.0 286.1h.7v.7h-.7zM370.1 289.8h.7v.7h-.7zM377.1 292.9h.7v.7h-.7zM355.3 297.0h.7v.7h-.7zM356.1 293.2h.7v.7h-.7zM372.8 293.8h.7v.7h-.7zM364.6 296.6h.7v.7h-.7zM366.1 296.9h.7v.7h-.7zM361.8 297.7h.7v.7h-.7zM373.0 284.0h.7v.7h-.7zM358.1 295.8h.7v.7h-.7zM372.6 296.6h.7v.7h-.7zM368.8 294.0h.7v.7h-.7zM363.5 295.5h.7v.7h-.7zM359.9 301.6h.7v.7h-.7zM375.9 297.7h.7v.7h-.7zM373.1 285.9h.7v.7h-.7zM374.7 297.0h.7v.7h-.7zM360.0 291.7h.7v.7h-.7zM370.4 288.2h.7v.7h-.7zM365.6 306.9h.7v.7h-.7zM372.0 296.6h.7v.7h-.7zM375.3 291.2h.7v.7h-.7zM365.0 284.6h.7v.7h-.7zM375.0 290.9h.7v.7h-.7zM373.0 285.3h.7v.7h-.7zM373.5 285.4h.7v.7h-.7zM369.1 290.9h.7v.7h-.7zM372.5 292.9h.7v.7h-.7zM358.7 288.8h.7v.7h-.7zM366.8 296.6h.7v.7h-.7zM364.1 290.9h.7v.7h-.7zM369.5 282.7h.7v.7h-.7zM372.3 300.3h.7v.7h-.7zM369.5 285.3h.7v.7h-.7zM374.9 291.2h.7v.7h-.7zM364.0 287.9h.7v.7h-.7zM363.3 292.7h.7v.7h-.7zM368.2 291.6h.7v.7h-.7zM354.4 301.3h.7v.7h-.7zM363.6 291.2h.7v.7h-.7zM362.6 288.7h.7v.7h-.7zM342.7 299.3h.7v.7h-.7zM360.3 303.7h.7v.7h-.7zM366.2 289.0h.7v.7h-.7zM374.3 287.5h.7v.7h-.7zM363.1 283.6h.7v.7h-.7zM368.4 293.5h.7v.7h-.7zM347.3 298.6h.7v.7h-.7zM350.8 289.6h.7v.7h-.7zM366.0 295.0h.7v.7h-.7zM372.9 288.2h.7v.7h-.7zM373.3 292.0h.7v.7h-.7zM343.5 293.1h.7v.7h-.7zM353.8 297.7h.7v.7h-.7zM365.1 294.9h.7v.7h-.7zM345.2 297.9h.7v.7h-.7zM376.5 291.2h.7v.7h-.7zM376.7 300.2h.7v.7h-.7zM369.9 293.5h.7v.7h-.7zM372.4 295.0h.7v.7h-.7zM370.5 284.3h.7v.7h-.7zM369.9 285.0h.7v.7h-.7zM369.1 286.7h.7v.7h-.7zM365.5 289.5h.7v.7h-.7zM369.9 292.5h.7v.7h-.7zM367.4 288.0h.7v.7h-.7zM358.7 292.5h.7v.7h-.7zM358.5 302.2h.7v.7h-.7zM364.6 287.1h.7v.7h-.7zM376.6 298.2h.7v.7h-.7zM373.5 300.4h.7v.7h-.7zM371.8 288.5h.7v.7h-.7zM361.8 306.5h.7v.7h-.7zM371.6 286.4h.7v.7h-.7zM355.5 301.9h.7v.7h-.7zM369.0 291.4h.7v.7h-.7zM370.9 285.3h.7v.7h-.7zM366.7 287.7h.7v.7h-.7zM358.3 295.4h.7v.7h-.7zM374.1 286.5h.7v.7h-.7zM345.5 293.3h.7v.7h-.7zM370.6 289.9h.7v.7h-.7zM367.6 291.1h.7v.7h-.7zM366.3 291.9h.7v.7h-.7zM364.7 289.8h.7v.7h-.7zM370.9 289.3h.7v.7h-.7zM359.6 293.7h.7v.7h-.7zM368.0 293.7h.7v.7h-.7zM372.5 287.6h.7v.7h-.7zM359.8 285.5h.7v.7h-.7zM365.7 285.7h.7v.7h-.7zM365.5 295.7h.7v.7h-.7zM376.7 292.1h.7v.7h-.7zM371.6 289.8h.7v.7h-.7zM358.2 295.5h.7v.7h-.7zM357.1 294.1h.7v.7h-.7zM371.0 291.5h.7v.7h-.7zM362.0 296.6h.7v.7h-.7zM373.4 283.5h.7v.7h-.7zM350.5 302.5h.7v.7h-.7zM373.1 286.3h.7v.7h-.7zM355.3 287.5h.7v.7h-.7zM373.2 295.8h.7v.7h-.7zM364.8 293.0h.7v.7h-.7zM371.4 301.9h.7v.7h-.7zM373.1 285.5h.7v.7h-.7zM374.3 286.3h.7v.7h-.7zM365.2 294.8h.7v.7h-.7zM359.7 284.2h.7v.7h-.7zM374.0 293.2h.7v.7h-.7zM365.4 294.5h.7v.7h-.7zM369.0 285.5h.7v.7h-.7zM376.6 292.2h.7v.7h-.7zM371.0 289.6h.7v.7h-.7zM373.1 292.4h.7v.7h-.7zM374.9 290.1h.7v.7h-.7zM358.9 293.9h.7v.7h-.7zM372.2 301.7h.7v.7h-.7zM373.1 295.2h.7v.7h-.7zM363.2 287.6h.7v.7h-.7zM372.0 289.2h.7v.7h-.7zM372.1 290.8h.7v.7h-.7zM367.6 294.7h.7v.7h-.7zM355.5 294.0h.7v.7h-.7zM363.8 287.7h.7v.7h-.7zM362.7 292.5h.7v.7h-.7zM375.0 292.2h.7v.7h-.7zM372.6 291.7h.7v.7h-.7zM368.4 288.6h.7v.7h-.7zM365.0 291.7h.7v.7h-.7zM373.7 285.1h.7v.7h-.7zM375.7 293.9h.7v.7h-.7zM344.5 297.9h.7v.7h-.7zM374.6 289.9h.7v.7h-.7zM357.4 301.0h.7v.7h-.7zM352.3 303.0h.7v.7h-.7zM368.6 301.8h.7v.7h-.7zM364.2 302.4h.7v.7h-.7zM365.3 294.0h.7v.7h-.7zM363.9 293.5h.7v.7h-.7zM350.8 301.9h.7v.7h-.7zM352.7 296.6h.7v.7h-.7zM360.8 296.7h.7v.7h-.7zM370.3 288.9h.7v.7h-.7zM358.4 291.0h.7v.7h-.7z" fill="#5a70f0" opacity="0.5"/>
<path d="M375.0 279.6h.7v.7h-.7zM377.7 272.0h.7v.7h-.7zM379.1 279.7h.7v.7h-.7zM376.6 268.8h.7v.7h-.7zM376.2 258.4h.7v.7h-.7zM378.4 273.5h.7v.7h-.7zM378.4 280.1h.7v.7h-.7zM374.9 281.6h.7v.7h-.7zM379.5 266.9h.7v.7h-.7zM377.3 262.4h.7v.7h-.7zM377.4 277.7h.7v.7h-.7zM378.0 261.5h.7v.7h-.7zM377.9 278.9h.7v.7h-.7zM374.3 274.7h.7v.7h-.7zM377.9 276.4h.7v.7h-.7zM380.1 277.8h.7v.7h-.7zM373.9 274.9h.7v.7h-.7zM378.5 255.4h.7v.7h-.7zM376.8 274.1h.7v.7h-.7zM375.6 278.6h.7v.7h-.7zM377.7 282.6h.7v.7h-.7zM375.0 278.7h.7v.7h-.7zM373.0 281.7h.7v.7h-.7zM376.3 266.5h.7v.7h-.7zM375.5 275.4h.7v.7h-.7zM378.8 282.1h.7v.7h-.7zM370.7 270.5h.7v.7h-.7zM376.3 282.9h.7v.7h-.7zM376.4 277.8h.7v.7h-.7zM381.1 268.9h.7v.7h-.7zM375.4 277.5h.7v.7h-.7zM374.6 275.4h.7v.7h-.7zM377.9 276.9h.7v.7h-.7zM382.1 280.3h.7v.7h-.7zM373.5 279.1h.7v.7h-.7zM378.0 269.1h.7v.7h-.7zM372.5 280.0h.7v.7h-.7zM374.2 281.6h.7v.7h-.7zM376.5 278.0h.7v.7h-.7zM375.1 280.0h.7v.7h-.7zM374.8 283.2h.7v.7h-.7zM374.1 281.9h.7v.7h-.7zM375.5 273.2h.7v.7h-.7zM379.1 272.9h.7v.7h-.7zM373.0 272.3h.7v.7h-.7z" fill="#8a96f0" opacity="0.5"/>
<g transform="translate(377.4,287.7) rotate(-22)">
<ellipse rx="10.9" ry="7.3" fill="#4a62ee" opacity="0.4"/>
<ellipse rx="8.4" ry="5.4" fill="url(#flowg)"/>
</g>
</g>
<rect x="283.50" y="118.50" width="59.00" height="61.00" fill="none" stroke="#333" stroke-width="1.1"/>
<line x1="311.50" y1="118.50" x2="311.50" y2="179.50" stroke="#333" stroke-width="1.0"/>
<line x1="283.50" y1="154.30" x2="342.50" y2="154.30" stroke="#333" stroke-width="1.0"/>
<text transform="translate(286.10,127.90)" font-size="7.2" fill="#231f20" stroke="#231f20" stroke-width="0.13">Q1</text>
<text transform="translate(286.10,136.00)" font-size="7.2" fill="#231f20" stroke="#231f20" stroke-width="0.13">0.11</text>
<text transform="translate(339.70,127.90)" font-size="7.2" fill="#231f20" stroke="#231f20" stroke-width="0.13" text-anchor="end">Q2</text>
<text transform="translate(339.70,136.00)" font-size="7.2" fill="#231f20" stroke="#231f20" stroke-width="0.13" text-anchor="end">0.19</text>
<text transform="translate(286.10,166.80)" font-size="7.2" fill="#231f20" stroke="#231f20" stroke-width="0.13">Q4</text>
<text transform="translate(286.10,174.90)" font-size="7.2" fill="#231f20" stroke="#231f20" stroke-width="0.13">82.3</text>
<text transform="translate(339.70,166.80)" font-size="7.2" fill="#231f20" stroke="#231f20" stroke-width="0.13" text-anchor="end">Q3</text>
<text transform="translate(339.70,174.90)" font-size="7.2" fill="#231f20" stroke="#231f20" stroke-width="0.13" text-anchor="end">17.4</text>
<rect x="344.50" y="118.50" width="59.00" height="61.00" fill="none" stroke="#333" stroke-width="1.1"/>
<line x1="372.50" y1="118.50" x2="372.50" y2="179.50" stroke="#333" stroke-width="1.0"/>
<line x1="344.50" y1="154.30" x2="403.50" y2="154.30" stroke="#333" stroke-width="1.0"/>
<text transform="translate(347.10,127.90)" font-size="7.2" fill="#231f20" stroke="#231f20" stroke-width="0.13">Q1</text>
<text transform="translate(347.10,136.00)" font-size="7.2" fill="#231f20" stroke="#231f20" stroke-width="0.13">0.10</text>
<text transform="translate(400.70,127.90)" font-size="7.2" fill="#231f20" stroke="#231f20" stroke-width="0.13" text-anchor="end">Q2</text>
<text transform="translate(400.70,136.00)" font-size="7.2" fill="#231f20" stroke="#231f20" stroke-width="0.13" text-anchor="end">0.74</text>
<text transform="translate(347.10,166.80)" font-size="7.2" fill="#231f20" stroke="#231f20" stroke-width="0.13">Q4</text>
<text transform="translate(347.10,174.90)" font-size="7.2" fill="#231f20" stroke="#231f20" stroke-width="0.13">15.4</text>
<text transform="translate(400.70,166.80)" font-size="7.2" fill="#231f20" stroke="#231f20" stroke-width="0.13" text-anchor="end">Q3</text>
<text transform="translate(400.70,174.90)" font-size="7.2" fill="#231f20" stroke="#231f20" stroke-width="0.13" text-anchor="end">83.7</text>
<rect x="283.50" y="181.50" width="59.00" height="60.00" fill="none" stroke="#333" stroke-width="1.1"/>
<line x1="311.50" y1="181.50" x2="311.50" y2="241.50" stroke="#333" stroke-width="1.0"/>
<line x1="283.50" y1="217.50" x2="342.50" y2="217.50" stroke="#333" stroke-width="1.0"/>
<text transform="translate(286.10,190.90)" font-size="7.2" fill="#231f20" stroke="#231f20" stroke-width="0.13">Q1</text>
<text transform="translate(286.10,199.00)" font-size="7.2" fill="#231f20" stroke="#231f20" stroke-width="0.13">0.14</text>
<text transform="translate(339.70,190.90)" font-size="7.2" fill="#231f20" stroke="#231f20" stroke-width="0.13" text-anchor="end">Q2</text>
<text transform="translate(339.70,199.00)" font-size="7.2" fill="#231f20" stroke="#231f20" stroke-width="0.13" text-anchor="end">0.26</text>
<text transform="translate(286.10,230.00)" font-size="7.2" fill="#231f20" stroke="#231f20" stroke-width="0.13">Q4</text>
<text transform="translate(286.10,238.10)" font-size="7.2" fill="#231f20" stroke="#231f20" stroke-width="0.13">82.2</text>
<text transform="translate(339.70,230.00)" font-size="7.2" fill="#231f20" stroke="#231f20" stroke-width="0.13" text-anchor="end">Q3</text>
<text transform="translate(339.70,238.10)" font-size="7.2" fill="#231f20" stroke="#231f20" stroke-width="0.13" text-anchor="end">17.4</text>
<rect x="344.50" y="181.50" width="59.00" height="60.00" fill="none" stroke="#333" stroke-width="1.1"/>
<line x1="372.50" y1="181.50" x2="372.50" y2="241.50" stroke="#333" stroke-width="1.0"/>
<line x1="344.50" y1="217.50" x2="403.50" y2="217.50" stroke="#333" stroke-width="1.0"/>
<text transform="translate(347.10,190.90)" font-size="7.2" fill="#231f20" stroke="#231f20" stroke-width="0.13">Q1</text>
<text transform="translate(347.10,199.00)" font-size="7.2" fill="#231f20" stroke="#231f20" stroke-width="0.13">0.26</text>
<text transform="translate(400.70,190.90)" font-size="7.2" fill="#231f20" stroke="#231f20" stroke-width="0.13" text-anchor="end">Q2</text>
<text transform="translate(400.70,199.00)" font-size="7.2" fill="#231f20" stroke="#231f20" stroke-width="0.13" text-anchor="end">1.14</text>
<text transform="translate(347.10,230.00)" font-size="7.2" fill="#231f20" stroke="#231f20" stroke-width="0.13">Q4</text>
<text transform="translate(347.10,238.10)" font-size="7.2" fill="#231f20" stroke="#231f20" stroke-width="0.13">15.3</text>
<text transform="translate(400.70,230.00)" font-size="7.2" fill="#231f20" stroke="#231f20" stroke-width="0.13" text-anchor="end">Q3</text>
<text transform="translate(400.70,238.10)" font-size="7.2" fill="#231f20" stroke="#231f20" stroke-width="0.13" text-anchor="end">83.3</text>
<rect x="283.50" y="243.50" width="59.00" height="61.00" fill="none" stroke="#333" stroke-width="1.1"/>
<line x1="311.50" y1="243.50" x2="311.50" y2="304.50" stroke="#333" stroke-width="1.0"/>
<line x1="283.50" y1="280.50" x2="342.50" y2="280.50" stroke="#333" stroke-width="1.0"/>
<text transform="translate(286.10,252.90)" font-size="7.2" fill="#231f20" stroke="#231f20" stroke-width="0.13">Q1</text>
<text transform="translate(286.10,261.00)" font-size="7.2" fill="#231f20" stroke="#231f20" stroke-width="0.13">0.20</text>
<text transform="translate(339.70,252.90)" font-size="7.2" fill="#231f20" stroke="#231f20" stroke-width="0.13" text-anchor="end">Q2</text>
<text transform="translate(339.70,261.00)" font-size="7.2" fill="#231f20" stroke="#231f20" stroke-width="0.13" text-anchor="end">0.42</text>
<text transform="translate(286.10,293.00)" font-size="7.2" fill="#231f20" stroke="#231f20" stroke-width="0.13">Q4</text>
<text transform="translate(286.10,301.10)" font-size="7.2" fill="#231f20" stroke="#231f20" stroke-width="0.13">78.8</text>
<text transform="translate(339.70,293.00)" font-size="7.2" fill="#231f20" stroke="#231f20" stroke-width="0.13" text-anchor="end">Q3</text>
<text transform="translate(339.70,301.10)" font-size="7.2" fill="#231f20" stroke="#231f20" stroke-width="0.13" text-anchor="end">20.6</text>
<rect x="344.50" y="243.50" width="59.00" height="61.00" fill="none" stroke="#333" stroke-width="1.1"/>
<line x1="372.50" y1="243.50" x2="372.50" y2="304.50" stroke="#333" stroke-width="1.0"/>
<line x1="344.50" y1="280.50" x2="403.50" y2="280.50" stroke="#333" stroke-width="1.0"/>
<text transform="translate(347.10,252.90)" font-size="7.2" fill="#231f20" stroke="#231f20" stroke-width="0.13">Q1</text>
<text transform="translate(347.10,261.00)" font-size="7.2" fill="#231f20" stroke="#231f20" stroke-width="0.13">0.48</text>
<text transform="translate(400.70,252.90)" font-size="7.2" fill="#231f20" stroke="#231f20" stroke-width="0.13" text-anchor="end">Q2</text>
<text transform="translate(400.70,261.00)" font-size="7.2" fill="#231f20" stroke="#231f20" stroke-width="0.13" text-anchor="end">2.43</text>
<text transform="translate(347.10,293.00)" font-size="7.2" fill="#231f20" stroke="#231f20" stroke-width="0.13">Q4</text>
<text transform="translate(347.10,301.10)" font-size="7.2" fill="#231f20" stroke="#231f20" stroke-width="0.13">24.9</text>
<text transform="translate(400.70,293.00)" font-size="7.2" fill="#231f20" stroke="#231f20" stroke-width="0.13" text-anchor="end">Q3</text>
<text transform="translate(400.70,301.10)" font-size="7.2" fill="#231f20" stroke="#231f20" stroke-width="0.13" text-anchor="end">72.2</text>
<text transform="translate(406.80,157.00)" font-size="7.5" fill="#231f20" stroke="#231f20" stroke-width="0.13">Parental</text>
<text transform="translate(406.80,220.20)" font-size="7.5" fill="#231f20" stroke="#231f20" stroke-width="0.13">wtLCP1</text>
<text transform="translate(406.80,283.20)" font-size="7.5" fill="#231f20" stroke="#231f20" stroke-width="0.13">LCP1 I232F</text>
<line x1="276.30" y1="281.90" x2="276.30" y2="311.80" stroke="#231f20" stroke-width="1"/>
<line x1="275.80" y1="311.30" x2="310.00" y2="311.30" stroke="#231f20" stroke-width="1"/>
<text transform="translate(279.40,273.60) rotate(-90)" font-size="7.6" fill="#231f20" stroke="#231f20" stroke-width="0.13" text-anchor="middle">Gr1</text>
<text transform="translate(311.70,314.00)" font-size="7.6" fill="#231f20" stroke="#231f20" stroke-width="0.13">CD11b</text>
<text transform="translate(7.00,332.20) scale(0.9,1)" font-size="11.6" fill="#000" font-weight="bold" stroke="#000" stroke-width="0.45">D</text>
<text transform="translate(7.20,363.20) translate(0.00,0) scale(0.6,1)" font-size="8.8" fill="#231f20" stroke="#231f20" stroke-width="0.400" letter-spacing="0.700">Terminal</text>
<text transform="translate(7.20,374.25) translate(0.00,0) scale(0.6,1)" font-size="8.8" fill="#231f20" stroke="#231f20" stroke-width="0.400" letter-spacing="0.700">granulocytic</text>
<text transform="translate(7.20,385.30) translate(0.00,0) scale(0.6,1)" font-size="8.8" fill="#231f20" stroke="#231f20" stroke-width="0.400" letter-spacing="0.700">differentiation</text>
<text transform="translate(7.20,396.35) translate(0.00,0) scale(0.6,1)" font-size="8.8" fill="#231f20" stroke="#231f20" stroke-width="0.400" letter-spacing="0.700">markers</text>
<text transform="translate(7.20,481.20) translate(0.00,0) scale(0.6,1)" font-size="8.8" fill="#231f20" stroke="#231f20" stroke-width="0.400" letter-spacing="0.700">Granulocytic</text>
<text transform="translate(7.20,492.25) translate(0.00,0) scale(0.6,1)" font-size="8.8" fill="#231f20" stroke="#231f20" stroke-width="0.400" letter-spacing="0.700">differentiation</text>
<text transform="translate(7.20,503.30) translate(0.00,0) scale(0.6,1)" font-size="8.8" fill="#231f20" stroke="#231f20" stroke-width="0.400" letter-spacing="0.700">master</text>
<text transform="translate(7.20,514.35) translate(0.00,0) scale(0.6,1)" font-size="8.8" fill="#231f20" stroke="#231f20" stroke-width="0.400" letter-spacing="0.700">transcription</text>
<text transform="translate(7.20,525.40) translate(0.00,0) scale(0.6,1)" font-size="8.8" fill="#231f20" stroke="#231f20" stroke-width="0.400" letter-spacing="0.700">factors</text>
<text transform="translate(7.20,598.60) translate(0.00,0) scale(0.6,1)" font-size="8.8" fill="#231f20" stroke="#231f20" stroke-width="0.400" letter-spacing="0.700">Granulocytic</text>
<text transform="translate(7.20,609.65) translate(0.00,0) scale(0.6,1)" font-size="8.8" fill="#231f20" stroke="#231f20" stroke-width="0.400" letter-spacing="0.700">differentiation</text>
<text transform="translate(7.20,620.70) translate(0.00,0) scale(0.6,1)" font-size="8.8" fill="#231f20" stroke="#231f20" stroke-width="0.400" letter-spacing="0.700">terminal</text>
<text transform="translate(7.20,631.75) translate(0.00,0) scale(0.6,1)" font-size="8.8" fill="#231f20" stroke="#231f20" stroke-width="0.400" letter-spacing="0.700">transcription</text>
<text transform="translate(7.20,642.80) translate(0.00,0) scale(0.6,1)" font-size="8.8" fill="#231f20" stroke="#231f20" stroke-width="0.400" letter-spacing="0.700">factors</text>
<line x1="88.50" y1="340.40" x2="88.50" y2="411.00" stroke="#231f20" stroke-width="1.1"/>
<line x1="88.00" y1="410.50" x2="185.10" y2="410.50" stroke="#231f20" stroke-width="1.3"/>
<line x1="85.70" y1="410.50" x2="88.50" y2="410.50" stroke="#231f20" stroke-width="1"/>
<text transform="translate(83.10,413.25)" font-size="7.7" fill="#231f20" stroke="#231f20" stroke-width="0.13" text-anchor="end">0.0</text>
<line x1="85.70" y1="388.40" x2="88.50" y2="388.40" stroke="#231f20" stroke-width="1"/>
<text transform="translate(83.10,391.15)" font-size="7.7" fill="#231f20" stroke="#231f20" stroke-width="0.13" text-anchor="end">0.5</text>
<line x1="85.70" y1="366.30" x2="88.50" y2="366.30" stroke="#231f20" stroke-width="1"/>
<text transform="translate(83.10,369.05)" font-size="7.7" fill="#231f20" stroke="#231f20" stroke-width="0.13" text-anchor="end">1.0</text>
<line x1="85.70" y1="344.20" x2="88.50" y2="344.20" stroke="#231f20" stroke-width="1"/>
<text transform="translate(83.10,346.95)" font-size="7.7" fill="#231f20" stroke="#231f20" stroke-width="0.13" text-anchor="end">1.5</text>
<line x1="88.50" y1="410.50" x2="88.50" y2="412.70" stroke="#231f20" stroke-width="1"/>
<text transform="translate(88.50,421.90)" font-size="7.8" fill="#231f20" stroke="#231f20" stroke-width="0.13" text-anchor="middle">0</text>
<line x1="119.35" y1="410.50" x2="119.35" y2="412.70" stroke="#231f20" stroke-width="1"/>
<text transform="translate(119.35,421.90)" font-size="7.8" fill="#231f20" stroke="#231f20" stroke-width="0.13" text-anchor="middle">2</text>
<line x1="150.20" y1="410.50" x2="150.20" y2="412.70" stroke="#231f20" stroke-width="1"/>
<text transform="translate(150.20,421.90)" font-size="7.8" fill="#231f20" stroke="#231f20" stroke-width="0.13" text-anchor="middle">4</text>
<line x1="181.05" y1="410.50" x2="181.05" y2="412.70" stroke="#231f20" stroke-width="1"/>
<text transform="translate(181.05,421.90)" font-size="7.8" fill="#231f20" stroke="#231f20" stroke-width="0.13" text-anchor="middle">6</text>
<text transform="translate(135.00,434.80) translate(-35.30,0) scale(0.64,1)" font-size="9.3" fill="#231f20" stroke="#231f20" stroke-width="0.400" letter-spacing="0.269">Days (hGCSF 100 ng/ml)</text>
<text transform="translate(135.00,333.70)" font-size="9.1" fill="#231f20" stroke="#231f20" stroke-width="0.16" font-style="italic" text-anchor="middle">Mpo</text>
<text transform="translate(65.90,377.55) rotate(-90) translate(-27.00,0) scale(0.64,1)" font-size="8.6" fill="#231f20" stroke="#231f20" stroke-width="0.400" letter-spacing="0.491">Relative expression</text>
<line x1="119.35" y1="361.44" x2="119.35" y2="376.91" stroke="#cf1d3c" stroke-width="1.1"/>
<line x1="117.45" y1="361.44" x2="121.25" y2="361.44" stroke="#cf1d3c" stroke-width="1.1"/>
<line x1="117.45" y1="376.91" x2="121.25" y2="376.91" stroke="#cf1d3c" stroke-width="1.1"/>
<line x1="150.20" y1="353.04" x2="150.20" y2="371.16" stroke="#cf1d3c" stroke-width="1.1"/>
<line x1="148.30" y1="353.04" x2="152.10" y2="353.04" stroke="#cf1d3c" stroke-width="1.1"/>
<line x1="148.30" y1="371.16" x2="152.10" y2="371.16" stroke="#cf1d3c" stroke-width="1.1"/>
<line x1="181.05" y1="350.83" x2="181.05" y2="366.30" stroke="#cf1d3c" stroke-width="1.1"/>
<line x1="179.15" y1="350.83" x2="182.95" y2="350.83" stroke="#cf1d3c" stroke-width="1.1"/>
<line x1="179.15" y1="366.30" x2="182.95" y2="366.30" stroke="#cf1d3c" stroke-width="1.1"/>
<polyline points="88.50,366.30 119.35,366.30 150.20,366.30 181.05,366.30" fill="none" stroke="#1c5b98" stroke-width="1.25" stroke-linejoin="round"/>
<polyline points="88.50,366.30 119.35,369.39 150.20,362.54 181.05,358.79" fill="none" stroke="#cf1d3c" stroke-width="1.3" stroke-linejoin="round"/>
<rect x="87.00" y="364.80" width="3.00" height="3.00" fill="#1c5b98"/>
<rect x="117.85" y="364.80" width="3.00" height="3.00" fill="#1c5b98"/>
<rect x="148.70" y="364.80" width="3.00" height="3.00" fill="#1c5b98"/>
<rect x="179.55" y="364.80" width="3.00" height="3.00" fill="#1c5b98"/>
<circle cx="88.50" cy="366.30" r="1.70" fill="#cf1d3c"/>
<circle cx="119.35" cy="369.39" r="1.70" fill="#cf1d3c"/>
<circle cx="150.20" cy="362.54" r="1.70" fill="#cf1d3c"/>
<circle cx="181.05" cy="358.79" r="1.70" fill="#cf1d3c"/>
<line x1="91.20" y1="395.70" x2="98.80" y2="395.70" stroke="#1c5b98" stroke-width="1.2"/>
<circle cx="95.00" cy="395.70" r="1.80" fill="#1c5b98"/>
<text transform="translate(101.60,398.40) scale(0.93,1)" font-size="7.3" fill="#231f20" stroke="#231f20" stroke-width="0.13">wtLCP1</text>
<line x1="91.20" y1="404.70" x2="98.80" y2="404.70" stroke="#cf1d3c" stroke-width="1.2"/>
<circle cx="95.00" cy="404.70" r="1.80" fill="#cf1d3c"/>
<text transform="translate(101.60,407.40) scale(0.93,1)" font-size="7.3" fill="#231f20" stroke="#231f20" stroke-width="0.13">LCP1 I232F</text>
<line x1="260.50" y1="340.40" x2="260.50" y2="411.00" stroke="#231f20" stroke-width="1.1"/>
<line x1="260.00" y1="410.50" x2="357.10" y2="410.50" stroke="#231f20" stroke-width="1.3"/>
<line x1="257.70" y1="410.50" x2="260.50" y2="410.50" stroke="#231f20" stroke-width="1"/>
<text transform="translate(255.10,413.25)" font-size="7.7" fill="#231f20" stroke="#231f20" stroke-width="0.13" text-anchor="end">0.0</text>
<line x1="257.70" y1="397.24" x2="260.50" y2="397.24" stroke="#231f20" stroke-width="1"/>
<text transform="translate(255.10,399.99)" font-size="7.7" fill="#231f20" stroke="#231f20" stroke-width="0.13" text-anchor="end">0.5</text>
<line x1="257.70" y1="383.98" x2="260.50" y2="383.98" stroke="#231f20" stroke-width="1"/>
<text transform="translate(255.10,386.73)" font-size="7.7" fill="#231f20" stroke="#231f20" stroke-width="0.13" text-anchor="end">1.0</text>
<line x1="257.70" y1="370.72" x2="260.50" y2="370.72" stroke="#231f20" stroke-width="1"/>
<text transform="translate(255.10,373.47)" font-size="7.7" fill="#231f20" stroke="#231f20" stroke-width="0.13" text-anchor="end">1.5</text>
<line x1="257.70" y1="357.46" x2="260.50" y2="357.46" stroke="#231f20" stroke-width="1"/>
<text transform="translate(255.10,360.21)" font-size="7.7" fill="#231f20" stroke="#231f20" stroke-width="0.13" text-anchor="end">2.0</text>
<line x1="257.70" y1="344.20" x2="260.50" y2="344.20" stroke="#231f20" stroke-width="1"/>
<text transform="translate(255.10,346.95)" font-size="7.7" fill="#231f20" stroke="#231f20" stroke-width="0.13" text-anchor="end">2.5</text>
<line x1="260.50" y1="410.50" x2="260.50" y2="412.70" stroke="#231f20" stroke-width="1"/>
<text transform="translate(260.50,421.90)" font-size="7.8" fill="#231f20" stroke="#231f20" stroke-width="0.13" text-anchor="middle">0</text>
<line x1="291.35" y1="410.50" x2="291.35" y2="412.70" stroke="#231f20" stroke-width="1"/>
<text transform="translate(291.35,421.90)" font-size="7.8" fill="#231f20" stroke="#231f20" stroke-width="0.13" text-anchor="middle">2</text>
<line x1="322.20" y1="410.50" x2="322.20" y2="412.70" stroke="#231f20" stroke-width="1"/>
<text transform="translate(322.20,421.90)" font-size="7.8" fill="#231f20" stroke="#231f20" stroke-width="0.13" text-anchor="middle">4</text>
<line x1="353.05" y1="410.50" x2="353.05" y2="412.70" stroke="#231f20" stroke-width="1"/>
<text transform="translate(353.05,421.90)" font-size="7.8" fill="#231f20" stroke="#231f20" stroke-width="0.13" text-anchor="middle">6</text>
<text transform="translate(307.00,434.80) translate(-35.30,0) scale(0.64,1)" font-size="9.3" fill="#231f20" stroke="#231f20" stroke-width="0.400" letter-spacing="0.269">Days (hGCSF 100 ng/ml)</text>
<text transform="translate(307.00,333.70)" font-size="9.1" fill="#231f20" stroke="#231f20" stroke-width="0.16" font-style="italic" text-anchor="middle">Csf3r</text>
<text transform="translate(237.90,377.55) rotate(-90) translate(-27.00,0) scale(0.64,1)" font-size="8.6" fill="#231f20" stroke="#231f20" stroke-width="0.400" letter-spacing="0.491">Relative expression</text>
<line x1="291.35" y1="351.63" x2="291.35" y2="386.63" stroke="#cf1d3c" stroke-width="1.1"/>
<line x1="289.45" y1="351.63" x2="293.25" y2="351.63" stroke="#cf1d3c" stroke-width="1.1"/>
<line x1="289.45" y1="386.63" x2="293.25" y2="386.63" stroke="#cf1d3c" stroke-width="1.1"/>
<line x1="322.20" y1="386.10" x2="322.20" y2="388.75" stroke="#cf1d3c" stroke-width="1.1"/>
<line x1="320.30" y1="386.10" x2="324.10" y2="386.10" stroke="#cf1d3c" stroke-width="1.1"/>
<line x1="320.30" y1="388.75" x2="324.10" y2="388.75" stroke="#cf1d3c" stroke-width="1.1"/>
<line x1="353.05" y1="382.12" x2="353.05" y2="387.16" stroke="#cf1d3c" stroke-width="1.1"/>
<line x1="351.15" y1="382.12" x2="354.95" y2="382.12" stroke="#cf1d3c" stroke-width="1.1"/>
<line x1="351.15" y1="387.16" x2="354.95" y2="387.16" stroke="#cf1d3c" stroke-width="1.1"/>
<polyline points="260.50,383.98 291.35,383.98 322.20,383.98 353.05,383.98" fill="none" stroke="#1c5b98" stroke-width="1.25" stroke-linejoin="round"/>
<polyline points="260.50,383.98 291.35,368.86 322.20,387.43 353.05,384.78" fill="none" stroke="#cf1d3c" stroke-width="1.3" stroke-linejoin="round"/>
<rect x="259.00" y="382.48" width="3.00" height="3.00" fill="#1c5b98"/>
<rect x="289.85" y="382.48" width="3.00" height="3.00" fill="#1c5b98"/>
<rect x="320.70" y="382.48" width="3.00" height="3.00" fill="#1c5b98"/>
<rect x="351.55" y="382.48" width="3.00" height="3.00" fill="#1c5b98"/>
<circle cx="260.50" cy="383.98" r="1.70" fill="#cf1d3c"/>
<circle cx="291.35" cy="368.86" r="1.70" fill="#cf1d3c"/>
<circle cx="322.20" cy="387.43" r="1.70" fill="#cf1d3c"/>
<circle cx="353.05" cy="384.78" r="1.70" fill="#cf1d3c"/>
<line x1="263.20" y1="395.70" x2="270.80" y2="395.70" stroke="#1c5b98" stroke-width="1.2"/>
<circle cx="267.00" cy="395.70" r="1.80" fill="#1c5b98"/>
<text transform="translate(273.60,398.40) scale(0.93,1)" font-size="7.3" fill="#231f20" stroke="#231f20" stroke-width="0.13">wtLCP1</text>
<line x1="263.20" y1="404.70" x2="270.80" y2="404.70" stroke="#cf1d3c" stroke-width="1.2"/>
<circle cx="267.00" cy="404.70" r="1.80" fill="#cf1d3c"/>
<text transform="translate(273.60,407.40) scale(0.93,1)" font-size="7.3" fill="#231f20" stroke="#231f20" stroke-width="0.13">LCP1 I232F</text>
<line x1="416.50" y1="340.40" x2="416.50" y2="411.00" stroke="#231f20" stroke-width="1.1"/>
<line x1="416.00" y1="410.50" x2="513.10" y2="410.50" stroke="#231f20" stroke-width="1.3"/>
<line x1="413.70" y1="410.50" x2="416.50" y2="410.50" stroke="#231f20" stroke-width="1"/>
<text transform="translate(411.10,413.25)" font-size="7.7" fill="#231f20" stroke="#231f20" stroke-width="0.13" text-anchor="end">0.0</text>
<line x1="413.70" y1="397.24" x2="416.50" y2="397.24" stroke="#231f20" stroke-width="1"/>
<text transform="translate(411.10,399.99)" font-size="7.7" fill="#231f20" stroke="#231f20" stroke-width="0.13" text-anchor="end">0.5</text>
<line x1="413.70" y1="383.98" x2="416.50" y2="383.98" stroke="#231f20" stroke-width="1"/>
<text transform="translate(411.10,386.73)" font-size="7.7" fill="#231f20" stroke="#231f20" stroke-width="0.13" text-anchor="end">1.0</text>
<line x1="413.70" y1="370.72" x2="416.50" y2="370.72" stroke="#231f20" stroke-width="1"/>
<text transform="translate(411.10,373.47)" font-size="7.7" fill="#231f20" stroke="#231f20" stroke-width="0.13" text-anchor="end">1.5</text>
<line x1="413.70" y1="357.46" x2="416.50" y2="357.46" stroke="#231f20" stroke-width="1"/>
<text transform="translate(411.10,360.21)" font-size="7.7" fill="#231f20" stroke="#231f20" stroke-width="0.13" text-anchor="end">2.0</text>
<line x1="413.70" y1="344.20" x2="416.50" y2="344.20" stroke="#231f20" stroke-width="1"/>
<text transform="translate(411.10,346.95)" font-size="7.7" fill="#231f20" stroke="#231f20" stroke-width="0.13" text-anchor="end">2.5</text>
<line x1="416.50" y1="410.50" x2="416.50" y2="412.70" stroke="#231f20" stroke-width="1"/>
<text transform="translate(416.50,421.90)" font-size="7.8" fill="#231f20" stroke="#231f20" stroke-width="0.13" text-anchor="middle">0</text>
<line x1="447.35" y1="410.50" x2="447.35" y2="412.70" stroke="#231f20" stroke-width="1"/>
<text transform="translate(447.35,421.90)" font-size="7.8" fill="#231f20" stroke="#231f20" stroke-width="0.13" text-anchor="middle">2</text>
<line x1="478.20" y1="410.50" x2="478.20" y2="412.70" stroke="#231f20" stroke-width="1"/>
<text transform="translate(478.20,421.90)" font-size="7.8" fill="#231f20" stroke="#231f20" stroke-width="0.13" text-anchor="middle">4</text>
<line x1="509.05" y1="410.50" x2="509.05" y2="412.70" stroke="#231f20" stroke-width="1"/>
<text transform="translate(509.05,421.90)" font-size="7.8" fill="#231f20" stroke="#231f20" stroke-width="0.13" text-anchor="middle">6</text>
<text transform="translate(463.00,434.80) translate(-35.30,0) scale(0.64,1)" font-size="9.3" fill="#231f20" stroke="#231f20" stroke-width="0.400" letter-spacing="0.269">Days (hGCSF 100 ng/ml)</text>
<text transform="translate(463.00,333.70)" font-size="9.1" fill="#231f20" stroke="#231f20" stroke-width="0.16" font-style="italic" text-anchor="middle">Cxcr4</text>
<text transform="translate(393.90,377.55) rotate(-90) translate(-27.00,0) scale(0.64,1)" font-size="8.6" fill="#231f20" stroke="#231f20" stroke-width="0.400" letter-spacing="0.491">Relative expression</text>
<line x1="447.35" y1="366.74" x2="447.35" y2="373.37" stroke="#cf1d3c" stroke-width="1.1"/>
<line x1="445.45" y1="366.74" x2="449.25" y2="366.74" stroke="#cf1d3c" stroke-width="1.1"/>
<line x1="445.45" y1="373.37" x2="449.25" y2="373.37" stroke="#cf1d3c" stroke-width="1.1"/>
<line x1="478.20" y1="371.52" x2="478.20" y2="375.76" stroke="#cf1d3c" stroke-width="1.1"/>
<line x1="476.30" y1="371.52" x2="480.10" y2="371.52" stroke="#cf1d3c" stroke-width="1.1"/>
<line x1="476.30" y1="375.76" x2="480.10" y2="375.76" stroke="#cf1d3c" stroke-width="1.1"/>
<line x1="509.05" y1="374.96" x2="509.05" y2="376.55" stroke="#cf1d3c" stroke-width="1.1"/>
<line x1="507.15" y1="374.96" x2="510.95" y2="374.96" stroke="#cf1d3c" stroke-width="1.1"/>
<line x1="507.15" y1="376.55" x2="510.95" y2="376.55" stroke="#cf1d3c" stroke-width="1.1"/>
<polyline points="416.50,383.98 447.35,383.98 478.20,383.98 509.05,383.98" fill="none" stroke="#1c5b98" stroke-width="1.25" stroke-linejoin="round"/>
<polyline points="416.50,383.98 447.35,370.72 478.20,373.64 509.05,375.76" fill="none" stroke="#cf1d3c" stroke-width="1.3" stroke-linejoin="round"/>
<rect x="415.00" y="382.48" width="3.00" height="3.00" fill="#1c5b98"/>
<rect x="445.85" y="382.48" width="3.00" height="3.00" fill="#1c5b98"/>
<rect x="476.70" y="382.48" width="3.00" height="3.00" fill="#1c5b98"/>
<rect x="507.55" y="382.48" width="3.00" height="3.00" fill="#1c5b98"/>
<circle cx="416.50" cy="383.98" r="1.70" fill="#cf1d3c"/>
<circle cx="447.35" cy="370.72" r="1.70" fill="#cf1d3c"/>
<circle cx="478.20" cy="373.64" r="1.70" fill="#cf1d3c"/>
<circle cx="509.05" cy="375.76" r="1.70" fill="#cf1d3c"/>
<line x1="419.20" y1="395.70" x2="426.80" y2="395.70" stroke="#1c5b98" stroke-width="1.2"/>
<circle cx="423.00" cy="395.70" r="1.80" fill="#1c5b98"/>
<text transform="translate(429.60,398.40) scale(0.93,1)" font-size="7.3" fill="#231f20" stroke="#231f20" stroke-width="0.13">wtLCP1</text>
<line x1="419.20" y1="404.70" x2="426.80" y2="404.70" stroke="#cf1d3c" stroke-width="1.2"/>
<circle cx="423.00" cy="404.70" r="1.80" fill="#cf1d3c"/>
<text transform="translate(429.60,407.40) scale(0.93,1)" font-size="7.3" fill="#231f20" stroke="#231f20" stroke-width="0.13">LCP1 I232F</text>
<line x1="444.05" y1="361.25" x2="450.65" y2="361.25" stroke="#666" stroke-width="1.3"/>
<circle cx="445.85" cy="357.25" r="1.0" fill="#1a1a1a"/>
<circle cx="448.85" cy="357.25" r="1.0" fill="#1a1a1a"/>
<line x1="474.90" y1="361.25" x2="481.50" y2="361.25" stroke="#666" stroke-width="1.3"/>
<circle cx="476.70" cy="357.25" r="1.0" fill="#1a1a1a"/>
<circle cx="479.70" cy="357.25" r="1.0" fill="#1a1a1a"/>
<line x1="505.75" y1="361.25" x2="512.35" y2="361.25" stroke="#666" stroke-width="1.3"/>
<circle cx="509.05" cy="357.25" r="1.0" fill="#1a1a1a"/>
<line x1="88.50" y1="458.40" x2="88.50" y2="529.10" stroke="#231f20" stroke-width="1.1"/>
<line x1="88.00" y1="528.60" x2="185.10" y2="528.60" stroke="#231f20" stroke-width="1.3"/>
<line x1="85.70" y1="528.60" x2="88.50" y2="528.60" stroke="#231f20" stroke-width="1"/>
<text transform="translate(83.10,531.35)" font-size="7.7" fill="#231f20" stroke="#231f20" stroke-width="0.13" text-anchor="end">0.0</text>
<line x1="85.70" y1="506.47" x2="88.50" y2="506.47" stroke="#231f20" stroke-width="1"/>
<text transform="translate(83.10,509.22)" font-size="7.7" fill="#231f20" stroke="#231f20" stroke-width="0.13" text-anchor="end">0.5</text>
<line x1="85.70" y1="484.33" x2="88.50" y2="484.33" stroke="#231f20" stroke-width="1"/>
<text transform="translate(83.10,487.08)" font-size="7.7" fill="#231f20" stroke="#231f20" stroke-width="0.13" text-anchor="end">1.0</text>
<line x1="85.70" y1="462.20" x2="88.50" y2="462.20" stroke="#231f20" stroke-width="1"/>
<text transform="translate(83.10,464.95)" font-size="7.7" fill="#231f20" stroke="#231f20" stroke-width="0.13" text-anchor="end">1.5</text>
<line x1="88.50" y1="528.60" x2="88.50" y2="530.80" stroke="#231f20" stroke-width="1"/>
<text transform="translate(88.50,540.00)" font-size="7.8" fill="#231f20" stroke="#231f20" stroke-width="0.13" text-anchor="middle">0</text>
<line x1="119.35" y1="528.60" x2="119.35" y2="530.80" stroke="#231f20" stroke-width="1"/>
<text transform="translate(119.35,540.00)" font-size="7.8" fill="#231f20" stroke="#231f20" stroke-width="0.13" text-anchor="middle">2</text>
<line x1="150.20" y1="528.60" x2="150.20" y2="530.80" stroke="#231f20" stroke-width="1"/>
<text transform="translate(150.20,540.00)" font-size="7.8" fill="#231f20" stroke="#231f20" stroke-width="0.13" text-anchor="middle">4</text>
<line x1="181.05" y1="528.60" x2="181.05" y2="530.80" stroke="#231f20" stroke-width="1"/>
<text transform="translate(181.05,540.00)" font-size="7.8" fill="#231f20" stroke="#231f20" stroke-width="0.13" text-anchor="middle">6</text>
<text transform="translate(135.00,552.90) translate(-35.30,0) scale(0.64,1)" font-size="9.3" fill="#231f20" stroke="#231f20" stroke-width="0.400" letter-spacing="0.269">Days (hGCSF 100 ng/ml)</text>
<text transform="translate(135.00,451.70)" font-size="9.1" fill="#231f20" stroke="#231f20" stroke-width="0.16" font-style="italic" text-anchor="middle">Gf‌i1</text>
<text transform="translate(65.90,495.60) rotate(-90) translate(-27.00,0) scale(0.64,1)" font-size="8.6" fill="#231f20" stroke="#231f20" stroke-width="0.400" letter-spacing="0.491">Relative expression</text>
<line x1="181.05" y1="474.59" x2="181.05" y2="484.33" stroke="#cf1d3c" stroke-width="1.1"/>
<line x1="179.15" y1="474.59" x2="182.95" y2="474.59" stroke="#cf1d3c" stroke-width="1.1"/>
<line x1="179.15" y1="484.33" x2="182.95" y2="484.33" stroke="#cf1d3c" stroke-width="1.1"/>
<polyline points="88.50,484.33 119.35,484.33 150.20,484.33 181.05,484.33" fill="none" stroke="#1c5b98" stroke-width="1.25" stroke-linejoin="round"/>
<polyline points="88.50,484.33 119.35,496.29 150.20,488.76 181.05,480.35" fill="none" stroke="#cf1d3c" stroke-width="1.3" stroke-linejoin="round"/>
<rect x="87.00" y="482.83" width="3.00" height="3.00" fill="#1c5b98"/>
<rect x="117.85" y="482.83" width="3.00" height="3.00" fill="#1c5b98"/>
<rect x="148.70" y="482.83" width="3.00" height="3.00" fill="#1c5b98"/>
<rect x="179.55" y="482.83" width="3.00" height="3.00" fill="#1c5b98"/>
<circle cx="88.50" cy="484.33" r="1.70" fill="#cf1d3c"/>
<circle cx="119.35" cy="496.29" r="1.70" fill="#cf1d3c"/>
<circle cx="150.20" cy="488.76" r="1.70" fill="#cf1d3c"/>
<circle cx="181.05" cy="480.35" r="1.70" fill="#cf1d3c"/>
<line x1="91.20" y1="513.80" x2="98.80" y2="513.80" stroke="#1c5b98" stroke-width="1.2"/>
<circle cx="95.00" cy="513.80" r="1.80" fill="#1c5b98"/>
<text transform="translate(101.60,516.50) scale(0.93,1)" font-size="7.3" fill="#231f20" stroke="#231f20" stroke-width="0.13">wtLCP1</text>
<line x1="91.20" y1="522.80" x2="98.80" y2="522.80" stroke="#cf1d3c" stroke-width="1.2"/>
<circle cx="95.00" cy="522.80" r="1.80" fill="#cf1d3c"/>
<text transform="translate(101.60,525.50) scale(0.93,1)" font-size="7.3" fill="#231f20" stroke="#231f20" stroke-width="0.13">LCP1 I232F</text>
<path d="M114.45,473.60 V471.40 Q114.45,470.60 115.25,470.60 H123.45 Q124.25,470.60 124.25,471.40 V473.60" fill="none" stroke="#3a3a3a" stroke-width="1.1"/>
<circle cx="116.40" cy="466.30" r="0.95" fill="#1a1a1a"/>
<circle cx="119.35" cy="466.30" r="0.95" fill="#1a1a1a"/>
<circle cx="122.30" cy="466.30" r="0.95" fill="#1a1a1a"/>
<line x1="260.50" y1="458.40" x2="260.50" y2="529.10" stroke="#231f20" stroke-width="1.1"/>
<line x1="260.00" y1="528.60" x2="357.10" y2="528.60" stroke="#231f20" stroke-width="1.3"/>
<line x1="257.70" y1="528.60" x2="260.50" y2="528.60" stroke="#231f20" stroke-width="1"/>
<text transform="translate(255.10,531.35)" font-size="7.7" fill="#231f20" stroke="#231f20" stroke-width="0.13" text-anchor="end">0.0</text>
<line x1="257.70" y1="506.47" x2="260.50" y2="506.47" stroke="#231f20" stroke-width="1"/>
<text transform="translate(255.10,509.22)" font-size="7.7" fill="#231f20" stroke="#231f20" stroke-width="0.13" text-anchor="end">0.5</text>
<line x1="257.70" y1="484.33" x2="260.50" y2="484.33" stroke="#231f20" stroke-width="1"/>
<text transform="translate(255.10,487.08)" font-size="7.7" fill="#231f20" stroke="#231f20" stroke-width="0.13" text-anchor="end">1.0</text>
<line x1="257.70" y1="462.20" x2="260.50" y2="462.20" stroke="#231f20" stroke-width="1"/>
<text transform="translate(255.10,464.95)" font-size="7.7" fill="#231f20" stroke="#231f20" stroke-width="0.13" text-anchor="end">1.5</text>
<line x1="260.50" y1="528.60" x2="260.50" y2="530.80" stroke="#231f20" stroke-width="1"/>
<text transform="translate(260.50,540.00)" font-size="7.8" fill="#231f20" stroke="#231f20" stroke-width="0.13" text-anchor="middle">0</text>
<line x1="291.35" y1="528.60" x2="291.35" y2="530.80" stroke="#231f20" stroke-width="1"/>
<text transform="translate(291.35,540.00)" font-size="7.8" fill="#231f20" stroke="#231f20" stroke-width="0.13" text-anchor="middle">2</text>
<line x1="322.20" y1="528.60" x2="322.20" y2="530.80" stroke="#231f20" stroke-width="1"/>
<text transform="translate(322.20,540.00)" font-size="7.8" fill="#231f20" stroke="#231f20" stroke-width="0.13" text-anchor="middle">4</text>
<line x1="353.05" y1="528.60" x2="353.05" y2="530.80" stroke="#231f20" stroke-width="1"/>
<text transform="translate(353.05,540.00)" font-size="7.8" fill="#231f20" stroke="#231f20" stroke-width="0.13" text-anchor="middle">6</text>
<text transform="translate(307.00,552.90) translate(-35.30,0) scale(0.64,1)" font-size="9.3" fill="#231f20" stroke="#231f20" stroke-width="0.400" letter-spacing="0.269">Days (hGCSF 100 ng/ml)</text>
<text transform="translate(307.00,451.70)" font-size="9.1" fill="#231f20" stroke="#231f20" stroke-width="0.16" font-style="italic" text-anchor="middle">Spi1</text>
<text transform="translate(237.90,495.60) rotate(-90) translate(-27.00,0) scale(0.64,1)" font-size="8.6" fill="#231f20" stroke="#231f20" stroke-width="0.400" letter-spacing="0.491">Relative expression</text>
<line x1="291.35" y1="498.06" x2="291.35" y2="507.35" stroke="#cf1d3c" stroke-width="1.1"/>
<line x1="289.45" y1="498.06" x2="293.25" y2="498.06" stroke="#cf1d3c" stroke-width="1.1"/>
<line x1="289.45" y1="507.35" x2="293.25" y2="507.35" stroke="#cf1d3c" stroke-width="1.1"/>
<line x1="322.20" y1="486.99" x2="322.20" y2="502.93" stroke="#cf1d3c" stroke-width="1.1"/>
<line x1="320.30" y1="486.99" x2="324.10" y2="486.99" stroke="#cf1d3c" stroke-width="1.1"/>
<line x1="320.30" y1="502.93" x2="324.10" y2="502.93" stroke="#cf1d3c" stroke-width="1.1"/>
<line x1="353.05" y1="471.94" x2="353.05" y2="491.42" stroke="#cf1d3c" stroke-width="1.1"/>
<line x1="351.15" y1="471.94" x2="354.95" y2="471.94" stroke="#cf1d3c" stroke-width="1.1"/>
<line x1="351.15" y1="491.42" x2="354.95" y2="491.42" stroke="#cf1d3c" stroke-width="1.1"/>
<polyline points="260.50,484.33 291.35,484.33 322.20,484.33 353.05,484.33" fill="none" stroke="#1c5b98" stroke-width="1.25" stroke-linejoin="round"/>
<polyline points="260.50,484.33 291.35,502.48 322.20,494.51 353.05,481.68" fill="none" stroke="#cf1d3c" stroke-width="1.3" stroke-linejoin="round"/>
<rect x="259.00" y="482.83" width="3.00" height="3.00" fill="#1c5b98"/>
<rect x="289.85" y="482.83" width="3.00" height="3.00" fill="#1c5b98"/>
<rect x="320.70" y="482.83" width="3.00" height="3.00" fill="#1c5b98"/>
<rect x="351.55" y="482.83" width="3.00" height="3.00" fill="#1c5b98"/>
<circle cx="260.50" cy="484.33" r="1.70" fill="#cf1d3c"/>
<circle cx="291.35" cy="502.48" r="1.70" fill="#cf1d3c"/>
<circle cx="322.20" cy="494.51" r="1.70" fill="#cf1d3c"/>
<circle cx="353.05" cy="481.68" r="1.70" fill="#cf1d3c"/>
<line x1="263.20" y1="513.80" x2="270.80" y2="513.80" stroke="#1c5b98" stroke-width="1.2"/>
<circle cx="267.00" cy="513.80" r="1.80" fill="#1c5b98"/>
<text transform="translate(273.60,516.50) scale(0.93,1)" font-size="7.3" fill="#231f20" stroke="#231f20" stroke-width="0.13">wtLCP1</text>
<line x1="263.20" y1="522.80" x2="270.80" y2="522.80" stroke="#cf1d3c" stroke-width="1.2"/>
<circle cx="267.00" cy="522.80" r="1.80" fill="#cf1d3c"/>
<text transform="translate(273.60,525.50) scale(0.93,1)" font-size="7.3" fill="#231f20" stroke="#231f20" stroke-width="0.13">LCP1 I232F</text>
<path d="M286.45,473.60 V471.40 Q286.45,470.60 287.25,470.60 H295.45 Q296.25,470.60 296.25,471.40 V473.60" fill="none" stroke="#3a3a3a" stroke-width="1.1"/>
<circle cx="291.35" cy="466.30" r="0.95" fill="#1a1a1a"/>
<line x1="416.50" y1="458.40" x2="416.50" y2="529.10" stroke="#231f20" stroke-width="1.1"/>
<line x1="416.00" y1="528.60" x2="513.10" y2="528.60" stroke="#231f20" stroke-width="1.3"/>
<line x1="413.70" y1="528.60" x2="416.50" y2="528.60" stroke="#231f20" stroke-width="1"/>
<text transform="translate(411.10,531.35)" font-size="7.7" fill="#231f20" stroke="#231f20" stroke-width="0.13" text-anchor="end">0.0</text>
<line x1="413.70" y1="506.47" x2="416.50" y2="506.47" stroke="#231f20" stroke-width="1"/>
<text transform="translate(411.10,509.22)" font-size="7.7" fill="#231f20" stroke="#231f20" stroke-width="0.13" text-anchor="end">0.5</text>
<line x1="413.70" y1="484.33" x2="416.50" y2="484.33" stroke="#231f20" stroke-width="1"/>
<text transform="translate(411.10,487.08)" font-size="7.7" fill="#231f20" stroke="#231f20" stroke-width="0.13" text-anchor="end">1.0</text>
<line x1="413.70" y1="462.20" x2="416.50" y2="462.20" stroke="#231f20" stroke-width="1"/>
<text transform="translate(411.10,464.95)" font-size="7.7" fill="#231f20" stroke="#231f20" stroke-width="0.13" text-anchor="end">1.5</text>
<line x1="416.50" y1="528.60" x2="416.50" y2="530.80" stroke="#231f20" stroke-width="1"/>
<text transform="translate(416.50,540.00)" font-size="7.8" fill="#231f20" stroke="#231f20" stroke-width="0.13" text-anchor="middle">0</text>
<line x1="447.35" y1="528.60" x2="447.35" y2="530.80" stroke="#231f20" stroke-width="1"/>
<text transform="translate(447.35,540.00)" font-size="7.8" fill="#231f20" stroke="#231f20" stroke-width="0.13" text-anchor="middle">2</text>
<line x1="478.20" y1="528.60" x2="478.20" y2="530.80" stroke="#231f20" stroke-width="1"/>
<text transform="translate(478.20,540.00)" font-size="7.8" fill="#231f20" stroke="#231f20" stroke-width="0.13" text-anchor="middle">4</text>
<line x1="509.05" y1="528.60" x2="509.05" y2="530.80" stroke="#231f20" stroke-width="1"/>
<text transform="translate(509.05,540.00)" font-size="7.8" fill="#231f20" stroke="#231f20" stroke-width="0.13" text-anchor="middle">6</text>
<text transform="translate(463.00,552.90) translate(-35.30,0) scale(0.64,1)" font-size="9.3" fill="#231f20" stroke="#231f20" stroke-width="0.400" letter-spacing="0.269">Days (hGCSF 100 ng/ml)</text>
<text transform="translate(463.00,451.70)" font-size="9.1" fill="#231f20" stroke="#231f20" stroke-width="0.16" font-style="italic" text-anchor="middle">Cebpa</text>
<text transform="translate(393.90,495.60) rotate(-90) translate(-27.00,0) scale(0.64,1)" font-size="8.6" fill="#231f20" stroke="#231f20" stroke-width="0.400" letter-spacing="0.491">Relative expression</text>
<line x1="478.20" y1="459.99" x2="478.20" y2="489.20" stroke="#cf1d3c" stroke-width="1.1"/>
<line x1="476.30" y1="459.99" x2="480.10" y2="459.99" stroke="#cf1d3c" stroke-width="1.1"/>
<line x1="476.30" y1="489.20" x2="480.10" y2="489.20" stroke="#cf1d3c" stroke-width="1.1"/>
<line x1="509.05" y1="464.41" x2="509.05" y2="478.58" stroke="#cf1d3c" stroke-width="1.1"/>
<line x1="507.15" y1="464.41" x2="510.95" y2="464.41" stroke="#cf1d3c" stroke-width="1.1"/>
<line x1="507.15" y1="478.58" x2="510.95" y2="478.58" stroke="#cf1d3c" stroke-width="1.1"/>
<polyline points="416.50,484.33 447.35,484.33 478.20,484.33 509.05,484.33" fill="none" stroke="#1c5b98" stroke-width="1.25" stroke-linejoin="round"/>
<polyline points="416.50,484.33 447.35,467.95 478.20,474.59 509.05,471.50" fill="none" stroke="#cf1d3c" stroke-width="1.3" stroke-linejoin="round"/>
<rect x="415.00" y="482.83" width="3.00" height="3.00" fill="#1c5b98"/>
<rect x="445.85" y="482.83" width="3.00" height="3.00" fill="#1c5b98"/>
<rect x="476.70" y="482.83" width="3.00" height="3.00" fill="#1c5b98"/>
<rect x="507.55" y="482.83" width="3.00" height="3.00" fill="#1c5b98"/>
<circle cx="416.50" cy="484.33" r="1.70" fill="#cf1d3c"/>
<circle cx="447.35" cy="467.95" r="1.70" fill="#cf1d3c"/>
<circle cx="478.20" cy="474.59" r="1.70" fill="#cf1d3c"/>
<circle cx="509.05" cy="471.50" r="1.70" fill="#cf1d3c"/>
<line x1="419.20" y1="513.80" x2="426.80" y2="513.80" stroke="#1c5b98" stroke-width="1.2"/>
<circle cx="423.00" cy="513.80" r="1.80" fill="#1c5b98"/>
<text transform="translate(429.60,516.50) scale(0.93,1)" font-size="7.3" fill="#231f20" stroke="#231f20" stroke-width="0.13">wtLCP1</text>
<line x1="419.20" y1="522.80" x2="426.80" y2="522.80" stroke="#cf1d3c" stroke-width="1.2"/>
<circle cx="423.00" cy="522.80" r="1.80" fill="#cf1d3c"/>
<text transform="translate(429.60,525.50) scale(0.93,1)" font-size="7.3" fill="#231f20" stroke="#231f20" stroke-width="0.13">LCP1 I232F</text>
<line x1="88.50" y1="575.75" x2="88.50" y2="646.30" stroke="#231f20" stroke-width="1.1"/>
<line x1="88.00" y1="645.80" x2="185.10" y2="645.80" stroke="#231f20" stroke-width="1.3"/>
<line x1="85.70" y1="645.80" x2="88.50" y2="645.80" stroke="#231f20" stroke-width="1"/>
<text transform="translate(83.10,648.55)" font-size="7.7" fill="#231f20" stroke="#231f20" stroke-width="0.13" text-anchor="end">0.0</text>
<line x1="85.70" y1="623.72" x2="88.50" y2="623.72" stroke="#231f20" stroke-width="1"/>
<text transform="translate(83.10,626.47)" font-size="7.7" fill="#231f20" stroke="#231f20" stroke-width="0.13" text-anchor="end">0.5</text>
<line x1="85.70" y1="601.63" x2="88.50" y2="601.63" stroke="#231f20" stroke-width="1"/>
<text transform="translate(83.10,604.38)" font-size="7.7" fill="#231f20" stroke="#231f20" stroke-width="0.13" text-anchor="end">1.0</text>
<line x1="85.70" y1="579.55" x2="88.50" y2="579.55" stroke="#231f20" stroke-width="1"/>
<text transform="translate(83.10,582.30)" font-size="7.7" fill="#231f20" stroke="#231f20" stroke-width="0.13" text-anchor="end">1.5</text>
<line x1="88.50" y1="645.80" x2="88.50" y2="648.00" stroke="#231f20" stroke-width="1"/>
<text transform="translate(88.50,657.20)" font-size="7.8" fill="#231f20" stroke="#231f20" stroke-width="0.13" text-anchor="middle">0</text>
<line x1="119.35" y1="645.80" x2="119.35" y2="648.00" stroke="#231f20" stroke-width="1"/>
<text transform="translate(119.35,657.20)" font-size="7.8" fill="#231f20" stroke="#231f20" stroke-width="0.13" text-anchor="middle">2</text>
<line x1="150.20" y1="645.80" x2="150.20" y2="648.00" stroke="#231f20" stroke-width="1"/>
<text transform="translate(150.20,657.20)" font-size="7.8" fill="#231f20" stroke="#231f20" stroke-width="0.13" text-anchor="middle">4</text>
<line x1="181.05" y1="645.80" x2="181.05" y2="648.00" stroke="#231f20" stroke-width="1"/>
<text transform="translate(181.05,657.20)" font-size="7.8" fill="#231f20" stroke="#231f20" stroke-width="0.13" text-anchor="middle">6</text>
<text transform="translate(135.00,670.10) translate(-35.30,0) scale(0.64,1)" font-size="9.3" fill="#231f20" stroke="#231f20" stroke-width="0.400" letter-spacing="0.269">Days (hGCSF 100 ng/ml)</text>
<text transform="translate(135.00,569.05)" font-size="9.1" fill="#231f20" stroke="#231f20" stroke-width="0.16" font-style="italic" text-anchor="middle">Cebpe</text>
<text transform="translate(65.90,612.88) rotate(-90) translate(-27.00,0) scale(0.64,1)" font-size="8.6" fill="#231f20" stroke="#231f20" stroke-width="0.400" letter-spacing="0.491">Relative expression</text>
<line x1="119.35" y1="590.15" x2="119.35" y2="601.63" stroke="#cf1d3c" stroke-width="1.1"/>
<line x1="117.45" y1="590.15" x2="121.25" y2="590.15" stroke="#cf1d3c" stroke-width="1.1"/>
<line x1="117.45" y1="601.63" x2="121.25" y2="601.63" stroke="#cf1d3c" stroke-width="1.1"/>
<polyline points="88.50,601.63 119.35,601.63 150.20,601.63 181.05,601.63" fill="none" stroke="#1c5b98" stroke-width="1.25" stroke-linejoin="round"/>
<polyline points="88.50,601.63 119.35,595.01 150.20,603.40 181.05,609.58" fill="none" stroke="#cf1d3c" stroke-width="1.3" stroke-linejoin="round"/>
<rect x="87.00" y="600.13" width="3.00" height="3.00" fill="#1c5b98"/>
<rect x="117.85" y="600.13" width="3.00" height="3.00" fill="#1c5b98"/>
<rect x="148.70" y="600.13" width="3.00" height="3.00" fill="#1c5b98"/>
<rect x="179.55" y="600.13" width="3.00" height="3.00" fill="#1c5b98"/>
<circle cx="88.50" cy="601.63" r="1.70" fill="#cf1d3c"/>
<circle cx="119.35" cy="595.01" r="1.70" fill="#cf1d3c"/>
<circle cx="150.20" cy="603.40" r="1.70" fill="#cf1d3c"/>
<circle cx="181.05" cy="609.58" r="1.70" fill="#cf1d3c"/>
<line x1="91.20" y1="631.00" x2="98.80" y2="631.00" stroke="#1c5b98" stroke-width="1.2"/>
<circle cx="95.00" cy="631.00" r="1.80" fill="#1c5b98"/>
<text transform="translate(101.60,633.70) scale(0.93,1)" font-size="7.3" fill="#231f20" stroke="#231f20" stroke-width="0.13">wtLCP1</text>
<line x1="91.20" y1="640.00" x2="98.80" y2="640.00" stroke="#cf1d3c" stroke-width="1.2"/>
<circle cx="95.00" cy="640.00" r="1.80" fill="#cf1d3c"/>
<text transform="translate(101.60,642.70) scale(0.93,1)" font-size="7.3" fill="#231f20" stroke="#231f20" stroke-width="0.13">LCP1 I232F</text>
<line x1="177.75" y1="590.00" x2="184.35" y2="590.00" stroke="#666" stroke-width="1.3"/>
<circle cx="181.05" cy="586.00" r="1.0" fill="#1a1a1a"/>
<line x1="260.50" y1="575.75" x2="260.50" y2="646.30" stroke="#231f20" stroke-width="1.1"/>
<line x1="260.00" y1="645.80" x2="357.10" y2="645.80" stroke="#231f20" stroke-width="1.3"/>
<line x1="257.70" y1="645.80" x2="260.50" y2="645.80" stroke="#231f20" stroke-width="1"/>
<text transform="translate(255.10,648.55)" font-size="7.7" fill="#231f20" stroke="#231f20" stroke-width="0.13" text-anchor="end">0.0</text>
<line x1="257.70" y1="623.72" x2="260.50" y2="623.72" stroke="#231f20" stroke-width="1"/>
<text transform="translate(255.10,626.47)" font-size="7.7" fill="#231f20" stroke="#231f20" stroke-width="0.13" text-anchor="end">0.5</text>
<line x1="257.70" y1="601.63" x2="260.50" y2="601.63" stroke="#231f20" stroke-width="1"/>
<text transform="translate(255.10,604.38)" font-size="7.7" fill="#231f20" stroke="#231f20" stroke-width="0.13" text-anchor="end">1.0</text>
<line x1="257.70" y1="579.55" x2="260.50" y2="579.55" stroke="#231f20" stroke-width="1"/>
<text transform="translate(255.10,582.30)" font-size="7.7" fill="#231f20" stroke="#231f20" stroke-width="0.13" text-anchor="end">1.5</text>
<line x1="260.50" y1="645.80" x2="260.50" y2="648.00" stroke="#231f20" stroke-width="1"/>
<text transform="translate(260.50,657.20)" font-size="7.8" fill="#231f20" stroke="#231f20" stroke-width="0.13" text-anchor="middle">0</text>
<line x1="291.35" y1="645.80" x2="291.35" y2="648.00" stroke="#231f20" stroke-width="1"/>
<text transform="translate(291.35,657.20)" font-size="7.8" fill="#231f20" stroke="#231f20" stroke-width="0.13" text-anchor="middle">2</text>
<line x1="322.20" y1="645.80" x2="322.20" y2="648.00" stroke="#231f20" stroke-width="1"/>
<text transform="translate(322.20,657.20)" font-size="7.8" fill="#231f20" stroke="#231f20" stroke-width="0.13" text-anchor="middle">4</text>
<line x1="353.05" y1="645.80" x2="353.05" y2="648.00" stroke="#231f20" stroke-width="1"/>
<text transform="translate(353.05,657.20)" font-size="7.8" fill="#231f20" stroke="#231f20" stroke-width="0.13" text-anchor="middle">6</text>
<text transform="translate(307.00,670.10) translate(-35.30,0) scale(0.64,1)" font-size="9.3" fill="#231f20" stroke="#231f20" stroke-width="0.400" letter-spacing="0.269">Days (hGCSF 100 ng/ml)</text>
<text transform="translate(307.00,569.05)" font-size="9.1" fill="#231f20" stroke="#231f20" stroke-width="0.16" font-style="italic" text-anchor="middle">Cebpb</text>
<text transform="translate(237.90,612.88) rotate(-90) translate(-27.00,0) scale(0.64,1)" font-size="8.6" fill="#231f20" stroke="#231f20" stroke-width="0.400" letter-spacing="0.491">Relative expression</text>
<line x1="291.35" y1="587.50" x2="291.35" y2="610.47" stroke="#cf1d3c" stroke-width="1.1"/>
<line x1="289.45" y1="587.50" x2="293.25" y2="587.50" stroke="#cf1d3c" stroke-width="1.1"/>
<line x1="289.45" y1="610.47" x2="293.25" y2="610.47" stroke="#cf1d3c" stroke-width="1.1"/>
<line x1="322.20" y1="602.96" x2="322.20" y2="614.88" stroke="#cf1d3c" stroke-width="1.1"/>
<line x1="320.30" y1="602.96" x2="324.10" y2="602.96" stroke="#cf1d3c" stroke-width="1.1"/>
<line x1="320.30" y1="614.88" x2="324.10" y2="614.88" stroke="#cf1d3c" stroke-width="1.1"/>
<line x1="353.05" y1="601.63" x2="353.05" y2="606.93" stroke="#cf1d3c" stroke-width="1.1"/>
<line x1="351.15" y1="601.63" x2="354.95" y2="601.63" stroke="#cf1d3c" stroke-width="1.1"/>
<line x1="351.15" y1="606.93" x2="354.95" y2="606.93" stroke="#cf1d3c" stroke-width="1.1"/>
<polyline points="260.50,601.63 291.35,601.63 322.20,601.63 353.05,601.63" fill="none" stroke="#1c5b98" stroke-width="1.25" stroke-linejoin="round"/>
<polyline points="260.50,601.63 291.35,599.42 322.20,609.14 353.05,603.84" fill="none" stroke="#cf1d3c" stroke-width="1.3" stroke-linejoin="round"/>
<rect x="259.00" y="600.13" width="3.00" height="3.00" fill="#1c5b98"/>
<rect x="289.85" y="600.13" width="3.00" height="3.00" fill="#1c5b98"/>
<rect x="320.70" y="600.13" width="3.00" height="3.00" fill="#1c5b98"/>
<rect x="351.55" y="600.13" width="3.00" height="3.00" fill="#1c5b98"/>
<circle cx="260.50" cy="601.63" r="1.70" fill="#cf1d3c"/>
<circle cx="291.35" cy="599.42" r="1.70" fill="#cf1d3c"/>
<circle cx="322.20" cy="609.14" r="1.70" fill="#cf1d3c"/>
<circle cx="353.05" cy="603.84" r="1.70" fill="#cf1d3c"/>
<line x1="263.20" y1="631.00" x2="270.80" y2="631.00" stroke="#1c5b98" stroke-width="1.2"/>
<circle cx="267.00" cy="631.00" r="1.80" fill="#1c5b98"/>
<text transform="translate(273.60,633.70) scale(0.93,1)" font-size="7.3" fill="#231f20" stroke="#231f20" stroke-width="0.13">wtLCP1</text>
<line x1="263.20" y1="640.00" x2="270.80" y2="640.00" stroke="#cf1d3c" stroke-width="1.2"/>
<circle cx="267.00" cy="640.00" r="1.80" fill="#cf1d3c"/>
<text transform="translate(273.60,642.70) scale(0.93,1)" font-size="7.3" fill="#231f20" stroke="#231f20" stroke-width="0.13">LCP1 I232F</text>
<line x1="416.50" y1="575.75" x2="416.50" y2="646.30" stroke="#231f20" stroke-width="1.1"/>
<line x1="416.00" y1="645.80" x2="513.10" y2="645.80" stroke="#231f20" stroke-width="1.3"/>
<line x1="413.70" y1="645.80" x2="416.50" y2="645.80" stroke="#231f20" stroke-width="1"/>
<text transform="translate(411.10,648.55)" font-size="7.7" fill="#231f20" stroke="#231f20" stroke-width="0.13" text-anchor="end">0.0</text>
<line x1="413.70" y1="632.55" x2="416.50" y2="632.55" stroke="#231f20" stroke-width="1"/>
<text transform="translate(411.10,635.30)" font-size="7.7" fill="#231f20" stroke="#231f20" stroke-width="0.13" text-anchor="end">0.5</text>
<line x1="413.70" y1="619.30" x2="416.50" y2="619.30" stroke="#231f20" stroke-width="1"/>
<text transform="translate(411.10,622.05)" font-size="7.7" fill="#231f20" stroke="#231f20" stroke-width="0.13" text-anchor="end">1.0</text>
<line x1="413.70" y1="606.05" x2="416.50" y2="606.05" stroke="#231f20" stroke-width="1"/>
<text transform="translate(411.10,608.80)" font-size="7.7" fill="#231f20" stroke="#231f20" stroke-width="0.13" text-anchor="end">1.5</text>
<line x1="413.70" y1="592.80" x2="416.50" y2="592.80" stroke="#231f20" stroke-width="1"/>
<text transform="translate(411.10,595.55)" font-size="7.7" fill="#231f20" stroke="#231f20" stroke-width="0.13" text-anchor="end">2.0</text>
<line x1="413.70" y1="579.55" x2="416.50" y2="579.55" stroke="#231f20" stroke-width="1"/>
<text transform="translate(411.10,582.30)" font-size="7.7" fill="#231f20" stroke="#231f20" stroke-width="0.13" text-anchor="end">2.5</text>
<line x1="416.50" y1="645.80" x2="416.50" y2="648.00" stroke="#231f20" stroke-width="1"/>
<text transform="translate(416.50,657.20)" font-size="7.8" fill="#231f20" stroke="#231f20" stroke-width="0.13" text-anchor="middle">0</text>
<line x1="447.35" y1="645.80" x2="447.35" y2="648.00" stroke="#231f20" stroke-width="1"/>
<text transform="translate(447.35,657.20)" font-size="7.8" fill="#231f20" stroke="#231f20" stroke-width="0.13" text-anchor="middle">2</text>
<line x1="478.20" y1="645.80" x2="478.20" y2="648.00" stroke="#231f20" stroke-width="1"/>
<text transform="translate(478.20,657.20)" font-size="7.8" fill="#231f20" stroke="#231f20" stroke-width="0.13" text-anchor="middle">4</text>
<line x1="509.05" y1="645.80" x2="509.05" y2="648.00" stroke="#231f20" stroke-width="1"/>
<text transform="translate(509.05,657.20)" font-size="7.8" fill="#231f20" stroke="#231f20" stroke-width="0.13" text-anchor="middle">6</text>
<text transform="translate(463.00,670.10) translate(-35.30,0) scale(0.64,1)" font-size="9.3" fill="#231f20" stroke="#231f20" stroke-width="0.400" letter-spacing="0.269">Days (hGCSF 100 ng/ml)</text>
<text transform="translate(463.00,569.05)" font-size="9.1" fill="#231f20" stroke="#231f20" stroke-width="0.16" font-style="italic" text-anchor="middle">Cebpd</text>
<text transform="translate(393.90,612.88) rotate(-90) translate(-27.00,0) scale(0.64,1)" font-size="8.6" fill="#231f20" stroke="#231f20" stroke-width="0.400" letter-spacing="0.491">Relative expression</text>
<line x1="447.35" y1="585.38" x2="447.35" y2="622.75" stroke="#cf1d3c" stroke-width="1.1"/>
<line x1="445.45" y1="585.38" x2="449.25" y2="585.38" stroke="#cf1d3c" stroke-width="1.1"/>
<line x1="445.45" y1="622.75" x2="449.25" y2="622.75" stroke="#cf1d3c" stroke-width="1.1"/>
<line x1="478.20" y1="620.36" x2="478.20" y2="632.55" stroke="#cf1d3c" stroke-width="1.1"/>
<line x1="476.30" y1="620.36" x2="480.10" y2="620.36" stroke="#cf1d3c" stroke-width="1.1"/>
<line x1="476.30" y1="632.55" x2="480.10" y2="632.55" stroke="#cf1d3c" stroke-width="1.1"/>
<line x1="509.05" y1="622.48" x2="509.05" y2="631.22" stroke="#cf1d3c" stroke-width="1.1"/>
<line x1="507.15" y1="622.48" x2="510.95" y2="622.48" stroke="#cf1d3c" stroke-width="1.1"/>
<line x1="507.15" y1="631.22" x2="510.95" y2="631.22" stroke="#cf1d3c" stroke-width="1.1"/>
<polyline points="416.50,619.30 447.35,619.30 478.20,619.30 509.05,619.30" fill="none" stroke="#1c5b98" stroke-width="1.25" stroke-linejoin="round"/>
<polyline points="416.50,619.30 447.35,604.19 478.20,626.72 509.05,626.98" fill="none" stroke="#cf1d3c" stroke-width="1.3" stroke-linejoin="round"/>
<rect x="415.00" y="617.80" width="3.00" height="3.00" fill="#1c5b98"/>
<rect x="445.85" y="617.80" width="3.00" height="3.00" fill="#1c5b98"/>
<rect x="476.70" y="617.80" width="3.00" height="3.00" fill="#1c5b98"/>
<rect x="507.55" y="617.80" width="3.00" height="3.00" fill="#1c5b98"/>
<circle cx="416.50" cy="619.30" r="1.70" fill="#cf1d3c"/>
<circle cx="447.35" cy="604.19" r="1.70" fill="#cf1d3c"/>
<circle cx="478.20" cy="626.72" r="1.70" fill="#cf1d3c"/>
<circle cx="509.05" cy="626.98" r="1.70" fill="#cf1d3c"/>
<line x1="419.20" y1="631.00" x2="426.80" y2="631.00" stroke="#1c5b98" stroke-width="1.2"/>
<circle cx="423.00" cy="631.00" r="1.80" fill="#1c5b98"/>
<text transform="translate(429.60,633.70) scale(0.93,1)" font-size="7.3" fill="#231f20" stroke="#231f20" stroke-width="0.13">wtLCP1</text>
<line x1="419.20" y1="640.00" x2="426.80" y2="640.00" stroke="#cf1d3c" stroke-width="1.2"/>
<circle cx="423.00" cy="640.00" r="1.80" fill="#cf1d3c"/>
<text transform="translate(429.60,642.70) scale(0.93,1)" font-size="7.3" fill="#231f20" stroke="#231f20" stroke-width="0.13">LCP1 I232F</text>
<rect x="0.5" y="0.5" width="519" height="676" fill="none" stroke="#000" stroke-width="1.2"/>
</svg>
</body></html>
